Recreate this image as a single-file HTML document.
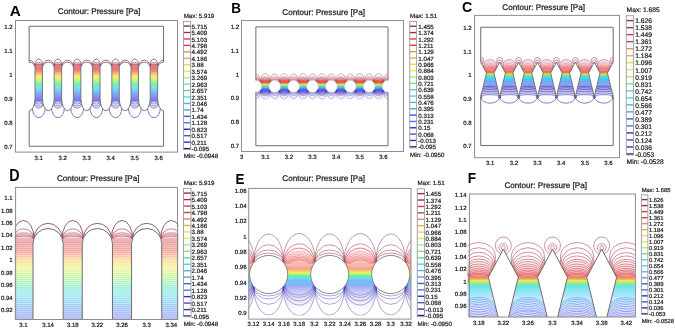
<!DOCTYPE html><html><head><meta charset="utf-8"><style>
html,body{margin:0;padding:0;background:#fff;}
svg{display:block;will-change:transform;}
#w{filter:blur(0.6px);width:675px;height:328px;}
text{font-family:"Liberation Sans", sans-serif;}
.t{font-size:6.2px;fill:#1e1e1e;font-weight:normal;stroke:#1e1e1e;stroke-width:0.22px;text-rendering:geometricPrecision;}
.ti{font-size:8.15px;fill:#222;font-weight:normal;text-rendering:geometricPrecision;stroke:#222;stroke-width:0.25px;}
.ax{font-size:6px;fill:#1e1e1e;font-weight:normal;stroke:#1e1e1e;stroke-width:0.22px;text-rendering:geometricPrecision;}
.L{font-size:15px;fill:#000;font-weight:bold;}
</style></head><body><div id="w">
<svg width="675" height="328" viewBox="0 0 675 328">
<rect x="0" y="0" width="675" height="328" fill="#fff"/>
<clipPath id="clA"><rect x="29.15" y="26.25" width="134.40" height="120.00"/></clipPath>
<g clip-path="url(#clA)">
<linearGradient id="g1" gradientUnits="userSpaceOnUse" x1="0" y1="63.21" x2="0" y2="105.45"><stop offset="0.0000" stop-color="#f3dde0"/><stop offset="0.0227" stop-color="#eac4c9"/><stop offset="0.0455" stop-color="#e3a9b0"/><stop offset="0.0682" stop-color="#e28d95"/><stop offset="0.0909" stop-color="#e2727a"/><stop offset="0.1136" stop-color="#e6767a"/><stop offset="0.1364" stop-color="#ea797a"/><stop offset="0.1591" stop-color="#ee7d7a"/><stop offset="0.1818" stop-color="#f2817a"/><stop offset="0.2045" stop-color="#f3967a"/><stop offset="0.2273" stop-color="#f5ac7a"/><stop offset="0.2500" stop-color="#f6c27a"/><stop offset="0.2727" stop-color="#f5d178"/><stop offset="0.2955" stop-color="#f5e076"/><stop offset="0.3182" stop-color="#f3ee74"/><stop offset="0.3409" stop-color="#e9f276"/><stop offset="0.3636" stop-color="#daf37a"/><stop offset="0.3864" stop-color="#ccf47e"/><stop offset="0.4091" stop-color="#bdf485"/><stop offset="0.4318" stop-color="#abf392"/><stop offset="0.4545" stop-color="#99f1a0"/><stop offset="0.4773" stop-color="#87efae"/><stop offset="0.5000" stop-color="#7aedbc"/><stop offset="0.5227" stop-color="#78ebcb"/><stop offset="0.5455" stop-color="#76e8d9"/><stop offset="0.5682" stop-color="#75e6e7"/><stop offset="0.5909" stop-color="#74e0f1"/><stop offset="0.6136" stop-color="#76d7f3"/><stop offset="0.6364" stop-color="#78cdf3"/><stop offset="0.6591" stop-color="#7ac4f5"/><stop offset="0.6818" stop-color="#7cbaf5"/><stop offset="0.7045" stop-color="#7eb1f4"/><stop offset="0.7273" stop-color="#80a9f4"/><stop offset="0.7500" stop-color="#82a0f4"/><stop offset="0.7727" stop-color="#8497f3"/><stop offset="0.7955" stop-color="#858ff1"/><stop offset="0.8182" stop-color="#8388eb"/><stop offset="0.8409" stop-color="#8182e6"/><stop offset="0.8636" stop-color="#7e7be1"/><stop offset="0.8864" stop-color="#7e7be0"/><stop offset="0.9091" stop-color="#a29fe9"/><stop offset="0.9318" stop-color="#d0cff4"/><stop offset="0.9545" stop-color="#ffffff"/><stop offset="0.9773" stop-color="#ffffff"/><stop offset="1.0000" stop-color="#ffffff"/></linearGradient>
<rect x="34.07" y="63.21" width="9.36" height="41.76" fill="url(#g1)"/>
<rect x="53.27" y="63.21" width="9.36" height="41.76" fill="url(#g1)"/>
<rect x="72.47" y="63.21" width="9.36" height="41.76" fill="url(#g1)"/>
<rect x="91.67" y="63.21" width="9.36" height="41.76" fill="url(#g1)"/>
<rect x="110.87" y="63.21" width="9.36" height="41.76" fill="url(#g1)"/>
<rect x="130.07" y="63.21" width="9.36" height="41.76" fill="url(#g1)"/>
<rect x="149.27" y="63.21" width="9.36" height="41.76" fill="url(#g1)"/>
<rect x="168.47" y="63.21" width="9.36" height="41.76" fill="url(#g1)"/>
<path d="M42.88,66.09 A4.13,7.08 0 0 0 34.62,66.09" fill="none" stroke="#8c4b5f" stroke-width="0.80" stroke-opacity="0.98"/>
<path d="M42.71,66.09 A3.96,3.84 0 0 0 34.79,66.09" fill="none" stroke="#994558" stroke-width="0.80" stroke-opacity="0.68"/>
<path d="M42.66,66.09 A3.91,2.28 0 0 0 34.84,66.09" fill="none" stroke="#a54052" stroke-width="0.80" stroke-opacity="0.52"/>
<path d="M42.64,66.09 A3.89,1.56 0 0 0 34.86,66.09" fill="none" stroke="#ac3d4e" stroke-width="0.80" stroke-opacity="0.52"/>
<path d="M42.64,66.09 A3.89,0.96 0 0 0 34.86,66.09" fill="none" stroke="#b23a4b" stroke-width="0.80" stroke-opacity="0.52"/>
<path d="M62.08,66.09 A4.13,7.08 0 0 0 53.82,66.09" fill="none" stroke="#8c4b5f" stroke-width="0.80" stroke-opacity="0.98"/>
<path d="M61.91,66.09 A3.96,3.84 0 0 0 53.99,66.09" fill="none" stroke="#994558" stroke-width="0.80" stroke-opacity="0.68"/>
<path d="M61.86,66.09 A3.91,2.28 0 0 0 54.04,66.09" fill="none" stroke="#a54052" stroke-width="0.80" stroke-opacity="0.52"/>
<path d="M61.84,66.09 A3.89,1.56 0 0 0 54.06,66.09" fill="none" stroke="#ac3d4e" stroke-width="0.80" stroke-opacity="0.52"/>
<path d="M61.84,66.09 A3.89,0.96 0 0 0 54.06,66.09" fill="none" stroke="#b23a4b" stroke-width="0.80" stroke-opacity="0.52"/>
<path d="M81.28,66.09 A4.13,7.08 0 0 0 73.02,66.09" fill="none" stroke="#8c4b5f" stroke-width="0.80" stroke-opacity="0.98"/>
<path d="M81.11,66.09 A3.96,3.84 0 0 0 73.19,66.09" fill="none" stroke="#994558" stroke-width="0.80" stroke-opacity="0.68"/>
<path d="M81.06,66.09 A3.91,2.28 0 0 0 73.24,66.09" fill="none" stroke="#a54052" stroke-width="0.80" stroke-opacity="0.52"/>
<path d="M81.04,66.09 A3.89,1.56 0 0 0 73.26,66.09" fill="none" stroke="#ac3d4e" stroke-width="0.80" stroke-opacity="0.52"/>
<path d="M81.04,66.09 A3.89,0.96 0 0 0 73.26,66.09" fill="none" stroke="#b23a4b" stroke-width="0.80" stroke-opacity="0.52"/>
<path d="M100.48,66.09 A4.13,7.08 0 0 0 92.22,66.09" fill="none" stroke="#8c4b5f" stroke-width="0.80" stroke-opacity="0.98"/>
<path d="M100.31,66.09 A3.96,3.84 0 0 0 92.39,66.09" fill="none" stroke="#994558" stroke-width="0.80" stroke-opacity="0.68"/>
<path d="M100.26,66.09 A3.91,2.28 0 0 0 92.44,66.09" fill="none" stroke="#a54052" stroke-width="0.80" stroke-opacity="0.52"/>
<path d="M100.24,66.09 A3.89,1.56 0 0 0 92.46,66.09" fill="none" stroke="#ac3d4e" stroke-width="0.80" stroke-opacity="0.52"/>
<path d="M100.24,66.09 A3.89,0.96 0 0 0 92.46,66.09" fill="none" stroke="#b23a4b" stroke-width="0.80" stroke-opacity="0.52"/>
<path d="M119.68,66.09 A4.13,7.08 0 0 0 111.42,66.09" fill="none" stroke="#8c4b5f" stroke-width="0.80" stroke-opacity="0.98"/>
<path d="M119.51,66.09 A3.96,3.84 0 0 0 111.59,66.09" fill="none" stroke="#994558" stroke-width="0.80" stroke-opacity="0.68"/>
<path d="M119.46,66.09 A3.91,2.28 0 0 0 111.64,66.09" fill="none" stroke="#a54052" stroke-width="0.80" stroke-opacity="0.52"/>
<path d="M119.44,66.09 A3.89,1.56 0 0 0 111.66,66.09" fill="none" stroke="#ac3d4e" stroke-width="0.80" stroke-opacity="0.52"/>
<path d="M119.44,66.09 A3.89,0.96 0 0 0 111.66,66.09" fill="none" stroke="#b23a4b" stroke-width="0.80" stroke-opacity="0.52"/>
<path d="M138.88,66.09 A4.13,7.08 0 0 0 130.62,66.09" fill="none" stroke="#8c4b5f" stroke-width="0.80" stroke-opacity="0.98"/>
<path d="M138.71,66.09 A3.96,3.84 0 0 0 130.79,66.09" fill="none" stroke="#994558" stroke-width="0.80" stroke-opacity="0.68"/>
<path d="M138.66,66.09 A3.91,2.28 0 0 0 130.84,66.09" fill="none" stroke="#a54052" stroke-width="0.80" stroke-opacity="0.52"/>
<path d="M138.64,66.09 A3.89,1.56 0 0 0 130.86,66.09" fill="none" stroke="#ac3d4e" stroke-width="0.80" stroke-opacity="0.52"/>
<path d="M138.64,66.09 A3.89,0.96 0 0 0 130.86,66.09" fill="none" stroke="#b23a4b" stroke-width="0.80" stroke-opacity="0.52"/>
<path d="M158.08,66.09 A4.13,7.08 0 0 0 149.82,66.09" fill="none" stroke="#8c4b5f" stroke-width="0.80" stroke-opacity="0.98"/>
<path d="M157.91,66.09 A3.96,3.84 0 0 0 149.99,66.09" fill="none" stroke="#994558" stroke-width="0.80" stroke-opacity="0.68"/>
<path d="M157.86,66.09 A3.91,2.28 0 0 0 150.04,66.09" fill="none" stroke="#a54052" stroke-width="0.80" stroke-opacity="0.52"/>
<path d="M157.84,66.09 A3.89,1.56 0 0 0 150.06,66.09" fill="none" stroke="#ac3d4e" stroke-width="0.80" stroke-opacity="0.52"/>
<path d="M157.84,66.09 A3.89,0.96 0 0 0 150.06,66.09" fill="none" stroke="#b23a4b" stroke-width="0.80" stroke-opacity="0.52"/>
<path d="M177.28,66.09 A4.13,7.08 0 0 0 169.02,66.09" fill="none" stroke="#8c4b5f" stroke-width="0.80" stroke-opacity="0.98"/>
<path d="M177.11,66.09 A3.96,3.84 0 0 0 169.19,66.09" fill="none" stroke="#994558" stroke-width="0.80" stroke-opacity="0.68"/>
<path d="M177.06,66.09 A3.91,2.28 0 0 0 169.24,66.09" fill="none" stroke="#a54052" stroke-width="0.80" stroke-opacity="0.52"/>
<path d="M177.04,66.09 A3.89,1.56 0 0 0 169.26,66.09" fill="none" stroke="#ac3d4e" stroke-width="0.80" stroke-opacity="0.52"/>
<path d="M177.04,66.09 A3.89,0.96 0 0 0 169.26,66.09" fill="none" stroke="#b23a4b" stroke-width="0.80" stroke-opacity="0.52"/>
<path d="M34.62,66.09 A5.47,5.95 0 0 0 23.68,66.09" fill="none" stroke="#8c4b5f" stroke-width="0.80" stroke-opacity="0.98"/>
<path d="M53.82,66.09 A5.47,5.95 0 0 0 42.88,66.09" fill="none" stroke="#8c4b5f" stroke-width="0.80" stroke-opacity="0.98"/>
<path d="M73.02,66.09 A5.47,5.95 0 0 0 62.08,66.09" fill="none" stroke="#8c4b5f" stroke-width="0.80" stroke-opacity="0.98"/>
<path d="M92.22,66.09 A5.47,5.95 0 0 0 81.28,66.09" fill="none" stroke="#8c4b5f" stroke-width="0.80" stroke-opacity="0.98"/>
<path d="M111.42,66.09 A5.47,5.95 0 0 0 100.48,66.09" fill="none" stroke="#8c4b5f" stroke-width="0.80" stroke-opacity="0.98"/>
<path d="M130.62,66.09 A5.47,5.95 0 0 0 119.68,66.09" fill="none" stroke="#8c4b5f" stroke-width="0.80" stroke-opacity="0.98"/>
<path d="M149.82,66.09 A5.47,5.95 0 0 0 138.88,66.09" fill="none" stroke="#8c4b5f" stroke-width="0.80" stroke-opacity="0.98"/>
<path d="M169.02,66.09 A5.47,5.95 0 0 0 158.08,66.09" fill="none" stroke="#8c4b5f" stroke-width="0.80" stroke-opacity="0.98"/>
<path d="M188.22,66.09 A5.47,5.95 0 0 0 177.28,66.09" fill="none" stroke="#8c4b5f" stroke-width="0.80" stroke-opacity="0.98"/>
<path d="M32.27,107.37 A6.48,10.32 0 0 0 45.23,107.37" fill="none" stroke="#2e2396" stroke-width="0.80" stroke-opacity="0.75"/>
<path d="M33.95,103.05 A4.80,5.04 0 0 0 43.55,103.05" fill="none" stroke="#3528aa" stroke-width="0.80" stroke-opacity="0.75"/>
<path d="M34.43,102.09 A4.32,3.91 0 0 0 43.07,102.09" fill="none" stroke="#3b2dbe" stroke-width="0.80" stroke-opacity="0.75"/>
<path d="M34.86,101.13 A3.89,3.00 0 0 0 42.64,101.13" fill="none" stroke="#3f34cb" stroke-width="0.80" stroke-opacity="0.75"/>
<path d="M51.47,107.37 A6.48,10.32 0 0 0 64.43,107.37" fill="none" stroke="#2e2396" stroke-width="0.80" stroke-opacity="0.75"/>
<path d="M53.15,103.05 A4.80,5.04 0 0 0 62.75,103.05" fill="none" stroke="#3528aa" stroke-width="0.80" stroke-opacity="0.75"/>
<path d="M53.63,102.09 A4.32,3.91 0 0 0 62.27,102.09" fill="none" stroke="#3b2dbe" stroke-width="0.80" stroke-opacity="0.75"/>
<path d="M54.06,101.13 A3.89,3.00 0 0 0 61.84,101.13" fill="none" stroke="#3f34cb" stroke-width="0.80" stroke-opacity="0.75"/>
<path d="M70.67,107.37 A6.48,10.32 0 0 0 83.63,107.37" fill="none" stroke="#2e2396" stroke-width="0.80" stroke-opacity="0.75"/>
<path d="M72.35,103.05 A4.80,5.04 0 0 0 81.95,103.05" fill="none" stroke="#3528aa" stroke-width="0.80" stroke-opacity="0.75"/>
<path d="M72.83,102.09 A4.32,3.91 0 0 0 81.47,102.09" fill="none" stroke="#3b2dbe" stroke-width="0.80" stroke-opacity="0.75"/>
<path d="M73.26,101.13 A3.89,3.00 0 0 0 81.04,101.13" fill="none" stroke="#3f34cb" stroke-width="0.80" stroke-opacity="0.75"/>
<path d="M89.87,107.37 A6.48,10.32 0 0 0 102.83,107.37" fill="none" stroke="#2e2396" stroke-width="0.80" stroke-opacity="0.75"/>
<path d="M91.55,103.05 A4.80,5.04 0 0 0 101.15,103.05" fill="none" stroke="#3528aa" stroke-width="0.80" stroke-opacity="0.75"/>
<path d="M92.03,102.09 A4.32,3.91 0 0 0 100.67,102.09" fill="none" stroke="#3b2dbe" stroke-width="0.80" stroke-opacity="0.75"/>
<path d="M92.46,101.13 A3.89,3.00 0 0 0 100.24,101.13" fill="none" stroke="#3f34cb" stroke-width="0.80" stroke-opacity="0.75"/>
<path d="M109.07,107.37 A6.48,10.32 0 0 0 122.03,107.37" fill="none" stroke="#2e2396" stroke-width="0.80" stroke-opacity="0.75"/>
<path d="M110.75,103.05 A4.80,5.04 0 0 0 120.35,103.05" fill="none" stroke="#3528aa" stroke-width="0.80" stroke-opacity="0.75"/>
<path d="M111.23,102.09 A4.32,3.91 0 0 0 119.87,102.09" fill="none" stroke="#3b2dbe" stroke-width="0.80" stroke-opacity="0.75"/>
<path d="M111.66,101.13 A3.89,3.00 0 0 0 119.44,101.13" fill="none" stroke="#3f34cb" stroke-width="0.80" stroke-opacity="0.75"/>
<path d="M128.27,107.37 A6.48,10.32 0 0 0 141.23,107.37" fill="none" stroke="#2e2396" stroke-width="0.80" stroke-opacity="0.75"/>
<path d="M129.95,103.05 A4.80,5.04 0 0 0 139.55,103.05" fill="none" stroke="#3528aa" stroke-width="0.80" stroke-opacity="0.75"/>
<path d="M130.43,102.09 A4.32,3.91 0 0 0 139.07,102.09" fill="none" stroke="#3b2dbe" stroke-width="0.80" stroke-opacity="0.75"/>
<path d="M130.86,101.13 A3.89,3.00 0 0 0 138.64,101.13" fill="none" stroke="#3f34cb" stroke-width="0.80" stroke-opacity="0.75"/>
<path d="M147.47,107.37 A6.48,10.32 0 0 0 160.43,107.37" fill="none" stroke="#2e2396" stroke-width="0.80" stroke-opacity="0.75"/>
<path d="M149.15,103.05 A4.80,5.04 0 0 0 158.75,103.05" fill="none" stroke="#3528aa" stroke-width="0.80" stroke-opacity="0.75"/>
<path d="M149.63,102.09 A4.32,3.91 0 0 0 158.27,102.09" fill="none" stroke="#3b2dbe" stroke-width="0.80" stroke-opacity="0.75"/>
<path d="M150.06,101.13 A3.89,3.00 0 0 0 157.84,101.13" fill="none" stroke="#3f34cb" stroke-width="0.80" stroke-opacity="0.75"/>
<path d="M166.67,107.37 A6.48,10.32 0 0 0 179.63,107.37" fill="none" stroke="#2e2396" stroke-width="0.80" stroke-opacity="0.75"/>
<path d="M168.35,103.05 A4.80,5.04 0 0 0 177.95,103.05" fill="none" stroke="#3528aa" stroke-width="0.80" stroke-opacity="0.75"/>
<path d="M168.83,102.09 A4.32,3.91 0 0 0 177.47,102.09" fill="none" stroke="#3b2dbe" stroke-width="0.80" stroke-opacity="0.75"/>
<path d="M169.26,101.13 A3.89,3.00 0 0 0 177.04,101.13" fill="none" stroke="#3f34cb" stroke-width="0.80" stroke-opacity="0.75"/>
<path d="M35.03,68.01 A5.88,5.88 0 0 0 23.27,68.01 L23.27,98.25 A5.88,12.48 0 0 0 35.03,98.25Z" fill="#fff" stroke="#6e6e6e" stroke-width="0.90"/>
<path d="M54.23,68.01 A5.88,5.88 0 0 0 42.47,68.01 L42.47,98.25 A5.88,12.48 0 0 0 54.23,98.25Z" fill="#fff" stroke="#6e6e6e" stroke-width="0.90"/>
<path d="M73.43,68.01 A5.88,5.88 0 0 0 61.67,68.01 L61.67,98.25 A5.88,12.48 0 0 0 73.43,98.25Z" fill="#fff" stroke="#6e6e6e" stroke-width="0.90"/>
<path d="M92.63,68.01 A5.88,5.88 0 0 0 80.87,68.01 L80.87,98.25 A5.88,12.48 0 0 0 92.63,98.25Z" fill="#fff" stroke="#6e6e6e" stroke-width="0.90"/>
<path d="M111.83,68.01 A5.88,5.88 0 0 0 100.07,68.01 L100.07,98.25 A5.88,12.48 0 0 0 111.83,98.25Z" fill="#fff" stroke="#6e6e6e" stroke-width="0.90"/>
<path d="M131.03,68.01 A5.88,5.88 0 0 0 119.27,68.01 L119.27,98.25 A5.88,12.48 0 0 0 131.03,98.25Z" fill="#fff" stroke="#6e6e6e" stroke-width="0.90"/>
<path d="M150.23,68.01 A5.88,5.88 0 0 0 138.47,68.01 L138.47,98.25 A5.88,12.48 0 0 0 150.23,98.25Z" fill="#fff" stroke="#6e6e6e" stroke-width="0.90"/>
<path d="M169.43,68.01 A5.88,5.88 0 0 0 157.67,68.01 L157.67,98.25 A5.88,12.48 0 0 0 169.43,98.25Z" fill="#fff" stroke="#6e6e6e" stroke-width="0.90"/>
<path d="M188.63,68.01 A5.88,5.88 0 0 0 176.87,68.01 L176.87,98.25 A5.88,12.48 0 0 0 188.63,98.25Z" fill="#fff" stroke="#6e6e6e" stroke-width="0.90"/>
</g>
<path d="M29.15,62.25 L29.15,26.25 L163.55,26.25 L163.55,62.25" fill="none" stroke="#6e6e6e" stroke-width="1.00" stroke-opacity="1.00" stroke-linejoin="round"/>
<path d="M29.15,110.73 L29.15,146.25 L163.55,146.25 L163.55,110.73" fill="none" stroke="#6e6e6e" stroke-width="1.00" stroke-opacity="1.00" stroke-linejoin="round"/>
<clipPath id="clD"><rect x="14.83" y="186.57" width="163.55" height="133.52"/></clipPath>
<g clip-path="url(#clD)">
<linearGradient id="g2" gradientUnits="userSpaceOnUse" x1="0" y1="231.28" x2="0" y2="340.58"><stop offset="0.0000" stop-color="#faf3f4"/><stop offset="0.0227" stop-color="#f7e9eb"/><stop offset="0.0455" stop-color="#f5dfe2"/><stop offset="0.0682" stop-color="#f4d5d8"/><stop offset="0.0909" stop-color="#f4cbce"/><stop offset="0.1136" stop-color="#f6ccce"/><stop offset="0.1364" stop-color="#f7cece"/><stop offset="0.1591" stop-color="#f9cfce"/><stop offset="0.1818" stop-color="#fad1ce"/><stop offset="0.2045" stop-color="#fbd8ce"/><stop offset="0.2273" stop-color="#fbe0ce"/><stop offset="0.2500" stop-color="#fce9ce"/><stop offset="0.2727" stop-color="#fceece"/><stop offset="0.2955" stop-color="#fbf4cd"/><stop offset="0.3182" stop-color="#fbf9cc"/><stop offset="0.3409" stop-color="#f7facd"/><stop offset="0.3636" stop-color="#f2fbce"/><stop offset="0.3864" stop-color="#ecfbd0"/><stop offset="0.4091" stop-color="#e7fbd2"/><stop offset="0.4318" stop-color="#e0fad7"/><stop offset="0.4545" stop-color="#dafadc"/><stop offset="0.4773" stop-color="#d3f9e1"/><stop offset="0.5000" stop-color="#cef8e6"/><stop offset="0.5227" stop-color="#cef8ec"/><stop offset="0.5455" stop-color="#cdf6f1"/><stop offset="0.5682" stop-color="#ccf6f6"/><stop offset="0.5909" stop-color="#ccf4fa"/><stop offset="0.6136" stop-color="#cdf0fa"/><stop offset="0.6364" stop-color="#ceedfb"/><stop offset="0.6591" stop-color="#cee9fb"/><stop offset="0.6818" stop-color="#cfe6fb"/><stop offset="0.7045" stop-color="#d0e2fb"/><stop offset="0.7273" stop-color="#d0dffb"/><stop offset="0.7500" stop-color="#d1dcfb"/><stop offset="0.7727" stop-color="#d2d9fb"/><stop offset="0.7955" stop-color="#d2d6fa"/><stop offset="0.8182" stop-color="#d1d3f8"/><stop offset="0.8409" stop-color="#d0d1f6"/><stop offset="0.8636" stop-color="#d0cef4"/><stop offset="0.8864" stop-color="#d0cef4"/><stop offset="0.9091" stop-color="#dddcf7"/><stop offset="0.9318" stop-color="#eeedfb"/><stop offset="0.9545" stop-color="#ffffff"/><stop offset="0.9773" stop-color="#ffffff"/><stop offset="1.0000" stop-color="#ffffff"/></linearGradient>
<rect x="11.44" y="231.28" width="24.02" height="108.05" fill="url(#g2)"/>
<rect x="60.72" y="231.28" width="24.02" height="108.05" fill="url(#g2)"/>
<rect x="110.00" y="231.28" width="24.02" height="108.05" fill="url(#g2)"/>
<rect x="159.28" y="231.28" width="24.02" height="108.05" fill="url(#g2)"/>
<path d="M13.90,239.05H33.00" stroke="#cc2f3f" stroke-width="0.80" stroke-opacity="0.45"/>
<path d="M63.18,239.05H82.28" stroke="#cc2f3f" stroke-width="0.80" stroke-opacity="0.45"/>
<path d="M112.46,239.05H131.56" stroke="#cc2f3f" stroke-width="0.80" stroke-opacity="0.45"/>
<path d="M161.74,239.05H180.84" stroke="#cc2f3f" stroke-width="0.80" stroke-opacity="0.45"/>
<path d="M13.90,240.97H33.00" stroke="#d42f3c" stroke-width="0.80" stroke-opacity="0.45"/>
<path d="M63.18,240.97H82.28" stroke="#d42f3c" stroke-width="0.80" stroke-opacity="0.45"/>
<path d="M112.46,240.97H131.56" stroke="#d42f3c" stroke-width="0.80" stroke-opacity="0.45"/>
<path d="M161.74,240.97H180.84" stroke="#d42f3c" stroke-width="0.80" stroke-opacity="0.45"/>
<path d="M13.90,242.90H33.00" stroke="#d8333c" stroke-width="0.80" stroke-opacity="0.45"/>
<path d="M63.18,242.90H82.28" stroke="#d8333c" stroke-width="0.80" stroke-opacity="0.45"/>
<path d="M112.46,242.90H131.56" stroke="#d8333c" stroke-width="0.80" stroke-opacity="0.45"/>
<path d="M161.74,242.90H180.84" stroke="#d8333c" stroke-width="0.80" stroke-opacity="0.45"/>
<path d="M13.90,244.82H33.00" stroke="#dd373c" stroke-width="0.80" stroke-opacity="0.45"/>
<path d="M63.18,244.82H82.28" stroke="#dd373c" stroke-width="0.80" stroke-opacity="0.45"/>
<path d="M112.46,244.82H131.56" stroke="#dd373c" stroke-width="0.80" stroke-opacity="0.45"/>
<path d="M161.74,244.82H180.84" stroke="#dd373c" stroke-width="0.80" stroke-opacity="0.45"/>
<path d="M13.90,246.75H33.00" stroke="#e13c3c" stroke-width="0.80" stroke-opacity="0.45"/>
<path d="M63.18,246.75H82.28" stroke="#e13c3c" stroke-width="0.80" stroke-opacity="0.45"/>
<path d="M112.46,246.75H131.56" stroke="#e13c3c" stroke-width="0.80" stroke-opacity="0.45"/>
<path d="M161.74,246.75H180.84" stroke="#e13c3c" stroke-width="0.80" stroke-opacity="0.45"/>
<path d="M13.90,248.67H33.00" stroke="#e6403c" stroke-width="0.80" stroke-opacity="0.45"/>
<path d="M63.18,248.67H82.28" stroke="#e6403c" stroke-width="0.80" stroke-opacity="0.45"/>
<path d="M112.46,248.67H131.56" stroke="#e6403c" stroke-width="0.80" stroke-opacity="0.45"/>
<path d="M161.74,248.67H180.84" stroke="#e6403c" stroke-width="0.80" stroke-opacity="0.45"/>
<path d="M13.90,250.60H33.00" stroke="#ea443c" stroke-width="0.80" stroke-opacity="0.45"/>
<path d="M63.18,250.60H82.28" stroke="#ea443c" stroke-width="0.80" stroke-opacity="0.45"/>
<path d="M112.46,250.60H131.56" stroke="#ea443c" stroke-width="0.80" stroke-opacity="0.45"/>
<path d="M161.74,250.60H180.84" stroke="#ea443c" stroke-width="0.80" stroke-opacity="0.45"/>
<path d="M13.90,252.52H33.00" stroke="#ed563c" stroke-width="0.80" stroke-opacity="0.45"/>
<path d="M63.18,252.52H82.28" stroke="#ed563c" stroke-width="0.80" stroke-opacity="0.45"/>
<path d="M112.46,252.52H131.56" stroke="#ed563c" stroke-width="0.80" stroke-opacity="0.45"/>
<path d="M161.74,252.52H180.84" stroke="#ed563c" stroke-width="0.80" stroke-opacity="0.45"/>
<path d="M13.90,254.45H33.00" stroke="#ee703c" stroke-width="0.80" stroke-opacity="0.45"/>
<path d="M63.18,254.45H82.28" stroke="#ee703c" stroke-width="0.80" stroke-opacity="0.45"/>
<path d="M112.46,254.45H131.56" stroke="#ee703c" stroke-width="0.80" stroke-opacity="0.45"/>
<path d="M161.74,254.45H180.84" stroke="#ee703c" stroke-width="0.80" stroke-opacity="0.45"/>
<path d="M13.90,256.37H33.00" stroke="#f0893c" stroke-width="0.80" stroke-opacity="0.45"/>
<path d="M63.18,256.37H82.28" stroke="#f0893c" stroke-width="0.80" stroke-opacity="0.45"/>
<path d="M112.46,256.37H131.56" stroke="#f0893c" stroke-width="0.80" stroke-opacity="0.45"/>
<path d="M161.74,256.37H180.84" stroke="#f0893c" stroke-width="0.80" stroke-opacity="0.45"/>
<path d="M13.90,258.30H33.00" stroke="#f2a23c" stroke-width="0.80" stroke-opacity="0.45"/>
<path d="M63.18,258.30H82.28" stroke="#f2a23c" stroke-width="0.80" stroke-opacity="0.45"/>
<path d="M112.46,258.30H131.56" stroke="#f2a23c" stroke-width="0.80" stroke-opacity="0.45"/>
<path d="M161.74,258.30H180.84" stroke="#f2a23c" stroke-width="0.80" stroke-opacity="0.45"/>
<path d="M13.90,260.22H33.00" stroke="#f1b53a" stroke-width="0.80" stroke-opacity="0.45"/>
<path d="M63.18,260.22H82.28" stroke="#f1b53a" stroke-width="0.80" stroke-opacity="0.45"/>
<path d="M112.46,260.22H131.56" stroke="#f1b53a" stroke-width="0.80" stroke-opacity="0.45"/>
<path d="M161.74,260.22H180.84" stroke="#f1b53a" stroke-width="0.80" stroke-opacity="0.45"/>
<path d="M13.90,262.15H33.00" stroke="#f0c538" stroke-width="0.80" stroke-opacity="0.45"/>
<path d="M63.18,262.15H82.28" stroke="#f0c538" stroke-width="0.80" stroke-opacity="0.45"/>
<path d="M112.46,262.15H131.56" stroke="#f0c538" stroke-width="0.80" stroke-opacity="0.45"/>
<path d="M161.74,262.15H180.84" stroke="#f0c538" stroke-width="0.80" stroke-opacity="0.45"/>
<path d="M13.90,264.07H33.00" stroke="#efd635" stroke-width="0.80" stroke-opacity="0.45"/>
<path d="M63.18,264.07H82.28" stroke="#efd635" stroke-width="0.80" stroke-opacity="0.45"/>
<path d="M112.46,264.07H131.56" stroke="#efd635" stroke-width="0.80" stroke-opacity="0.45"/>
<path d="M161.74,264.07H180.84" stroke="#efd635" stroke-width="0.80" stroke-opacity="0.45"/>
<path d="M13.90,266.00H33.00" stroke="#eee633" stroke-width="0.80" stroke-opacity="0.45"/>
<path d="M63.18,266.00H82.28" stroke="#eee633" stroke-width="0.80" stroke-opacity="0.45"/>
<path d="M112.46,266.00H131.56" stroke="#eee633" stroke-width="0.80" stroke-opacity="0.45"/>
<path d="M161.74,266.00H180.84" stroke="#eee633" stroke-width="0.80" stroke-opacity="0.45"/>
<path d="M13.90,267.92H33.00" stroke="#e3ec35" stroke-width="0.80" stroke-opacity="0.45"/>
<path d="M63.18,267.92H82.28" stroke="#e3ec35" stroke-width="0.80" stroke-opacity="0.45"/>
<path d="M112.46,267.92H131.56" stroke="#e3ec35" stroke-width="0.80" stroke-opacity="0.45"/>
<path d="M161.74,267.92H180.84" stroke="#e3ec35" stroke-width="0.80" stroke-opacity="0.45"/>
<path d="M13.90,269.85H33.00" stroke="#d3ed39" stroke-width="0.80" stroke-opacity="0.45"/>
<path d="M63.18,269.85H82.28" stroke="#d3ed39" stroke-width="0.80" stroke-opacity="0.45"/>
<path d="M112.46,269.85H131.56" stroke="#d3ed39" stroke-width="0.80" stroke-opacity="0.45"/>
<path d="M161.74,269.85H180.84" stroke="#d3ed39" stroke-width="0.80" stroke-opacity="0.45"/>
<path d="M13.90,271.77H33.00" stroke="#c3ee3e" stroke-width="0.80" stroke-opacity="0.45"/>
<path d="M63.18,271.77H82.28" stroke="#c3ee3e" stroke-width="0.80" stroke-opacity="0.45"/>
<path d="M112.46,271.77H131.56" stroke="#c3ee3e" stroke-width="0.80" stroke-opacity="0.45"/>
<path d="M161.74,271.77H180.84" stroke="#c3ee3e" stroke-width="0.80" stroke-opacity="0.45"/>
<path d="M13.90,273.70H33.00" stroke="#b3ef42" stroke-width="0.80" stroke-opacity="0.45"/>
<path d="M63.18,273.70H82.28" stroke="#b3ef42" stroke-width="0.80" stroke-opacity="0.45"/>
<path d="M112.46,273.70H131.56" stroke="#b3ef42" stroke-width="0.80" stroke-opacity="0.45"/>
<path d="M161.74,273.70H180.84" stroke="#b3ef42" stroke-width="0.80" stroke-opacity="0.45"/>
<path d="M13.90,275.62H33.00" stroke="#a2f048" stroke-width="0.80" stroke-opacity="0.45"/>
<path d="M63.18,275.62H82.28" stroke="#a2f048" stroke-width="0.80" stroke-opacity="0.45"/>
<path d="M112.46,275.62H131.56" stroke="#a2f048" stroke-width="0.80" stroke-opacity="0.45"/>
<path d="M161.74,275.62H180.84" stroke="#a2f048" stroke-width="0.80" stroke-opacity="0.45"/>
<path d="M13.90,277.55H33.00" stroke="#8eee58" stroke-width="0.80" stroke-opacity="0.45"/>
<path d="M63.18,277.55H82.28" stroke="#8eee58" stroke-width="0.80" stroke-opacity="0.45"/>
<path d="M112.46,277.55H131.56" stroke="#8eee58" stroke-width="0.80" stroke-opacity="0.45"/>
<path d="M161.74,277.55H180.84" stroke="#8eee58" stroke-width="0.80" stroke-opacity="0.45"/>
<path d="M13.90,279.47H33.00" stroke="#79ec67" stroke-width="0.80" stroke-opacity="0.45"/>
<path d="M63.18,279.47H82.28" stroke="#79ec67" stroke-width="0.80" stroke-opacity="0.45"/>
<path d="M112.46,279.47H131.56" stroke="#79ec67" stroke-width="0.80" stroke-opacity="0.45"/>
<path d="M161.74,279.47H180.84" stroke="#79ec67" stroke-width="0.80" stroke-opacity="0.45"/>
<path d="M13.90,281.40H33.00" stroke="#65ea77" stroke-width="0.80" stroke-opacity="0.45"/>
<path d="M63.18,281.40H82.28" stroke="#65ea77" stroke-width="0.80" stroke-opacity="0.45"/>
<path d="M112.46,281.40H131.56" stroke="#65ea77" stroke-width="0.80" stroke-opacity="0.45"/>
<path d="M161.74,281.40H180.84" stroke="#65ea77" stroke-width="0.80" stroke-opacity="0.45"/>
<path d="M13.90,283.32H33.00" stroke="#50e887" stroke-width="0.80" stroke-opacity="0.45"/>
<path d="M63.18,283.32H82.28" stroke="#50e887" stroke-width="0.80" stroke-opacity="0.45"/>
<path d="M112.46,283.32H131.56" stroke="#50e887" stroke-width="0.80" stroke-opacity="0.45"/>
<path d="M161.74,283.32H180.84" stroke="#50e887" stroke-width="0.80" stroke-opacity="0.45"/>
<path d="M13.90,285.25H33.00" stroke="#3ce696" stroke-width="0.80" stroke-opacity="0.45"/>
<path d="M63.18,285.25H82.28" stroke="#3ce696" stroke-width="0.80" stroke-opacity="0.45"/>
<path d="M112.46,285.25H131.56" stroke="#3ce696" stroke-width="0.80" stroke-opacity="0.45"/>
<path d="M161.74,285.25H180.84" stroke="#3ce696" stroke-width="0.80" stroke-opacity="0.45"/>
<path d="M13.90,287.17H33.00" stroke="#3ae3a7" stroke-width="0.80" stroke-opacity="0.45"/>
<path d="M63.18,287.17H82.28" stroke="#3ae3a7" stroke-width="0.80" stroke-opacity="0.45"/>
<path d="M112.46,287.17H131.56" stroke="#3ae3a7" stroke-width="0.80" stroke-opacity="0.45"/>
<path d="M161.74,287.17H180.84" stroke="#3ae3a7" stroke-width="0.80" stroke-opacity="0.45"/>
<path d="M13.90,289.10H33.00" stroke="#38e0b8" stroke-width="0.80" stroke-opacity="0.45"/>
<path d="M63.18,289.10H82.28" stroke="#38e0b8" stroke-width="0.80" stroke-opacity="0.45"/>
<path d="M112.46,289.10H131.56" stroke="#38e0b8" stroke-width="0.80" stroke-opacity="0.45"/>
<path d="M161.74,289.10H180.84" stroke="#38e0b8" stroke-width="0.80" stroke-opacity="0.45"/>
<path d="M13.90,291.02H33.00" stroke="#36ddc8" stroke-width="0.80" stroke-opacity="0.45"/>
<path d="M63.18,291.02H82.28" stroke="#36ddc8" stroke-width="0.80" stroke-opacity="0.45"/>
<path d="M112.46,291.02H131.56" stroke="#36ddc8" stroke-width="0.80" stroke-opacity="0.45"/>
<path d="M161.74,291.02H180.84" stroke="#36ddc8" stroke-width="0.80" stroke-opacity="0.45"/>
<path d="M13.90,292.95H33.00" stroke="#34dad9" stroke-width="0.80" stroke-opacity="0.45"/>
<path d="M63.18,292.95H82.28" stroke="#34dad9" stroke-width="0.80" stroke-opacity="0.45"/>
<path d="M112.46,292.95H131.56" stroke="#34dad9" stroke-width="0.80" stroke-opacity="0.45"/>
<path d="M161.74,292.95H180.84" stroke="#34dad9" stroke-width="0.80" stroke-opacity="0.45"/>
<path d="M13.90,294.87H33.00" stroke="#32d7e9" stroke-width="0.80" stroke-opacity="0.45"/>
<path d="M63.18,294.87H82.28" stroke="#32d7e9" stroke-width="0.80" stroke-opacity="0.45"/>
<path d="M112.46,294.87H131.56" stroke="#32d7e9" stroke-width="0.80" stroke-opacity="0.45"/>
<path d="M161.74,294.87H180.84" stroke="#32d7e9" stroke-width="0.80" stroke-opacity="0.45"/>
<path d="M13.90,296.80H33.00" stroke="#34cdec" stroke-width="0.80" stroke-opacity="0.45"/>
<path d="M63.18,296.80H82.28" stroke="#34cdec" stroke-width="0.80" stroke-opacity="0.45"/>
<path d="M112.46,296.80H131.56" stroke="#34cdec" stroke-width="0.80" stroke-opacity="0.45"/>
<path d="M161.74,296.80H180.84" stroke="#34cdec" stroke-width="0.80" stroke-opacity="0.45"/>
<path d="M13.90,298.72H33.00" stroke="#36c2ed" stroke-width="0.80" stroke-opacity="0.45"/>
<path d="M63.18,298.72H82.28" stroke="#36c2ed" stroke-width="0.80" stroke-opacity="0.45"/>
<path d="M112.46,298.72H131.56" stroke="#36c2ed" stroke-width="0.80" stroke-opacity="0.45"/>
<path d="M161.74,298.72H180.84" stroke="#36c2ed" stroke-width="0.80" stroke-opacity="0.45"/>
<path d="M13.90,300.65H33.00" stroke="#38b7ee" stroke-width="0.80" stroke-opacity="0.45"/>
<path d="M63.18,300.65H82.28" stroke="#38b7ee" stroke-width="0.80" stroke-opacity="0.45"/>
<path d="M112.46,300.65H131.56" stroke="#38b7ee" stroke-width="0.80" stroke-opacity="0.45"/>
<path d="M161.74,300.65H180.84" stroke="#38b7ee" stroke-width="0.80" stroke-opacity="0.45"/>
<path d="M13.90,302.57H33.00" stroke="#3bacef" stroke-width="0.80" stroke-opacity="0.45"/>
<path d="M63.18,302.57H82.28" stroke="#3bacef" stroke-width="0.80" stroke-opacity="0.45"/>
<path d="M112.46,302.57H131.56" stroke="#3bacef" stroke-width="0.80" stroke-opacity="0.45"/>
<path d="M161.74,302.57H180.84" stroke="#3bacef" stroke-width="0.80" stroke-opacity="0.45"/>
<path d="M13.90,304.50H33.00" stroke="#3da1f0" stroke-width="0.80" stroke-opacity="0.45"/>
<path d="M63.18,304.50H82.28" stroke="#3da1f0" stroke-width="0.80" stroke-opacity="0.45"/>
<path d="M112.46,304.50H131.56" stroke="#3da1f0" stroke-width="0.80" stroke-opacity="0.45"/>
<path d="M161.74,304.50H180.84" stroke="#3da1f0" stroke-width="0.80" stroke-opacity="0.45"/>
<path d="M13.90,306.43H33.00" stroke="#3f97f0" stroke-width="0.80" stroke-opacity="0.45"/>
<path d="M63.18,306.43H82.28" stroke="#3f97f0" stroke-width="0.80" stroke-opacity="0.45"/>
<path d="M112.46,306.43H131.56" stroke="#3f97f0" stroke-width="0.80" stroke-opacity="0.45"/>
<path d="M161.74,306.43H180.84" stroke="#3f97f0" stroke-width="0.80" stroke-opacity="0.45"/>
<path d="M13.90,308.35H33.00" stroke="#428def" stroke-width="0.80" stroke-opacity="0.45"/>
<path d="M63.18,308.35H82.28" stroke="#428def" stroke-width="0.80" stroke-opacity="0.45"/>
<path d="M112.46,308.35H131.56" stroke="#428def" stroke-width="0.80" stroke-opacity="0.45"/>
<path d="M161.74,308.35H180.84" stroke="#428def" stroke-width="0.80" stroke-opacity="0.45"/>
<path d="M13.90,310.28H33.00" stroke="#4483ef" stroke-width="0.80" stroke-opacity="0.45"/>
<path d="M63.18,310.28H82.28" stroke="#4483ef" stroke-width="0.80" stroke-opacity="0.45"/>
<path d="M112.46,310.28H131.56" stroke="#4483ef" stroke-width="0.80" stroke-opacity="0.45"/>
<path d="M161.74,310.28H180.84" stroke="#4483ef" stroke-width="0.80" stroke-opacity="0.45"/>
<path d="M13.90,312.20H33.00" stroke="#4678ef" stroke-width="0.80" stroke-opacity="0.45"/>
<path d="M63.18,312.20H82.28" stroke="#4678ef" stroke-width="0.80" stroke-opacity="0.45"/>
<path d="M112.46,312.20H131.56" stroke="#4678ef" stroke-width="0.80" stroke-opacity="0.45"/>
<path d="M161.74,312.20H180.84" stroke="#4678ef" stroke-width="0.80" stroke-opacity="0.45"/>
<path d="M13.90,314.13H33.00" stroke="#496eee" stroke-width="0.80" stroke-opacity="0.45"/>
<path d="M63.18,314.13H82.28" stroke="#496eee" stroke-width="0.80" stroke-opacity="0.45"/>
<path d="M112.46,314.13H131.56" stroke="#496eee" stroke-width="0.80" stroke-opacity="0.45"/>
<path d="M161.74,314.13H180.84" stroke="#496eee" stroke-width="0.80" stroke-opacity="0.45"/>
<path d="M13.90,316.05H33.00" stroke="#4b64ee" stroke-width="0.80" stroke-opacity="0.45"/>
<path d="M63.18,316.05H82.28" stroke="#4b64ee" stroke-width="0.80" stroke-opacity="0.45"/>
<path d="M112.46,316.05H131.56" stroke="#4b64ee" stroke-width="0.80" stroke-opacity="0.45"/>
<path d="M161.74,316.05H180.84" stroke="#4b64ee" stroke-width="0.80" stroke-opacity="0.45"/>
<path d="M13.90,317.98H33.00" stroke="#4b5beb" stroke-width="0.80" stroke-opacity="0.45"/>
<path d="M63.18,317.98H82.28" stroke="#4b5beb" stroke-width="0.80" stroke-opacity="0.45"/>
<path d="M112.46,317.98H131.56" stroke="#4b5beb" stroke-width="0.80" stroke-opacity="0.45"/>
<path d="M161.74,317.98H180.84" stroke="#4b5beb" stroke-width="0.80" stroke-opacity="0.45"/>
<path d="M13.90,319.90H33.00" stroke="#4954e5" stroke-width="0.80" stroke-opacity="0.45"/>
<path d="M63.18,319.90H82.28" stroke="#4954e5" stroke-width="0.80" stroke-opacity="0.45"/>
<path d="M112.46,319.90H131.56" stroke="#4954e5" stroke-width="0.80" stroke-opacity="0.45"/>
<path d="M161.74,319.90H180.84" stroke="#4954e5" stroke-width="0.80" stroke-opacity="0.45"/>
<path d="M13.90,321.83H33.00" stroke="#464cdf" stroke-width="0.80" stroke-opacity="0.45"/>
<path d="M63.18,321.83H82.28" stroke="#464cdf" stroke-width="0.80" stroke-opacity="0.45"/>
<path d="M112.46,321.83H131.56" stroke="#464cdf" stroke-width="0.80" stroke-opacity="0.45"/>
<path d="M161.74,321.83H180.84" stroke="#464cdf" stroke-width="0.80" stroke-opacity="0.45"/>
<path d="M13.90,323.75H33.00" stroke="#4445d9" stroke-width="0.80" stroke-opacity="0.45"/>
<path d="M63.18,323.75H82.28" stroke="#4445d9" stroke-width="0.80" stroke-opacity="0.45"/>
<path d="M112.46,323.75H131.56" stroke="#4445d9" stroke-width="0.80" stroke-opacity="0.45"/>
<path d="M161.74,323.75H180.84" stroke="#4445d9" stroke-width="0.80" stroke-opacity="0.45"/>
<path d="M13.90,325.68H33.00" stroke="#423dd3" stroke-width="0.80" stroke-opacity="0.45"/>
<path d="M63.18,325.68H82.28" stroke="#423dd3" stroke-width="0.80" stroke-opacity="0.45"/>
<path d="M112.46,325.68H131.56" stroke="#423dd3" stroke-width="0.80" stroke-opacity="0.45"/>
<path d="M161.74,325.68H180.84" stroke="#423dd3" stroke-width="0.80" stroke-opacity="0.45"/>
<path d="M13.90,327.60H33.00" stroke="#4036cc" stroke-width="0.80" stroke-opacity="0.45"/>
<path d="M63.18,327.60H82.28" stroke="#4036cc" stroke-width="0.80" stroke-opacity="0.45"/>
<path d="M112.46,327.60H131.56" stroke="#4036cc" stroke-width="0.80" stroke-opacity="0.45"/>
<path d="M161.74,327.60H180.84" stroke="#4036cc" stroke-width="0.80" stroke-opacity="0.45"/>
<path d="M13.90,329.53H33.00" stroke="#3d2fc3" stroke-width="0.80" stroke-opacity="0.45"/>
<path d="M63.18,329.53H82.28" stroke="#3d2fc3" stroke-width="0.80" stroke-opacity="0.45"/>
<path d="M112.46,329.53H131.56" stroke="#3d2fc3" stroke-width="0.80" stroke-opacity="0.45"/>
<path d="M161.74,329.53H180.84" stroke="#3d2fc3" stroke-width="0.80" stroke-opacity="0.45"/>
<path d="M13.90,331.45H33.00" stroke="#372ab2" stroke-width="0.80" stroke-opacity="0.45"/>
<path d="M63.18,331.45H82.28" stroke="#372ab2" stroke-width="0.80" stroke-opacity="0.45"/>
<path d="M112.46,331.45H131.56" stroke="#372ab2" stroke-width="0.80" stroke-opacity="0.45"/>
<path d="M161.74,331.45H180.84" stroke="#372ab2" stroke-width="0.80" stroke-opacity="0.45"/>
<path d="M13.90,333.38H33.00" stroke="#3126a0" stroke-width="0.80" stroke-opacity="0.45"/>
<path d="M63.18,333.38H82.28" stroke="#3126a0" stroke-width="0.80" stroke-opacity="0.45"/>
<path d="M112.46,333.38H131.56" stroke="#3126a0" stroke-width="0.80" stroke-opacity="0.45"/>
<path d="M161.74,333.38H180.84" stroke="#3126a0" stroke-width="0.80" stroke-opacity="0.45"/>
<path d="M13.90,335.30H33.00" stroke="#2c218f" stroke-width="0.80" stroke-opacity="0.45"/>
<path d="M63.18,335.30H82.28" stroke="#2c218f" stroke-width="0.80" stroke-opacity="0.45"/>
<path d="M112.46,335.30H131.56" stroke="#2c218f" stroke-width="0.80" stroke-opacity="0.45"/>
<path d="M161.74,335.30H180.84" stroke="#2c218f" stroke-width="0.80" stroke-opacity="0.45"/>
<path d="M13.90,337.23H33.00" stroke="#281e82" stroke-width="0.80" stroke-opacity="0.45"/>
<path d="M63.18,337.23H82.28" stroke="#281e82" stroke-width="0.80" stroke-opacity="0.45"/>
<path d="M112.46,337.23H131.56" stroke="#281e82" stroke-width="0.80" stroke-opacity="0.45"/>
<path d="M161.74,337.23H180.84" stroke="#281e82" stroke-width="0.80" stroke-opacity="0.45"/>
<path d="M13.90,339.15H33.00" stroke="#281e82" stroke-width="0.80" stroke-opacity="0.45"/>
<path d="M63.18,339.15H82.28" stroke="#281e82" stroke-width="0.80" stroke-opacity="0.45"/>
<path d="M112.46,339.15H131.56" stroke="#281e82" stroke-width="0.80" stroke-opacity="0.45"/>
<path d="M161.74,339.15H180.84" stroke="#281e82" stroke-width="0.80" stroke-opacity="0.45"/>
<path d="M13.90,341.08H33.00" stroke="#281e82" stroke-width="0.80" stroke-opacity="0.45"/>
<path d="M63.18,341.08H82.28" stroke="#281e82" stroke-width="0.80" stroke-opacity="0.45"/>
<path d="M112.46,341.08H131.56" stroke="#281e82" stroke-width="0.80" stroke-opacity="0.45"/>
<path d="M161.74,341.08H180.84" stroke="#281e82" stroke-width="0.80" stroke-opacity="0.45"/>
<path d="M13.90,343.00H33.00" stroke="#281e82" stroke-width="0.80" stroke-opacity="0.45"/>
<path d="M63.18,343.00H82.28" stroke="#281e82" stroke-width="0.80" stroke-opacity="0.45"/>
<path d="M112.46,343.00H131.56" stroke="#281e82" stroke-width="0.80" stroke-opacity="0.45"/>
<path d="M161.74,343.00H180.84" stroke="#281e82" stroke-width="0.80" stroke-opacity="0.45"/>
<path d="M13.90,344.93H33.00" stroke="#281e82" stroke-width="0.80" stroke-opacity="0.45"/>
<path d="M63.18,344.93H82.28" stroke="#281e82" stroke-width="0.80" stroke-opacity="0.45"/>
<path d="M112.46,344.93H131.56" stroke="#281e82" stroke-width="0.80" stroke-opacity="0.45"/>
<path d="M161.74,344.93H180.84" stroke="#281e82" stroke-width="0.80" stroke-opacity="0.45"/>
<path d="M34.05,238.74 A10.60,18.32 0 0 0 12.85,238.74" fill="none" stroke="#8c4b5f" stroke-width="0.90"/>
<path d="M33.61,238.74 A10.16,9.94 0 0 0 13.29,238.74" fill="none" stroke="#994558" stroke-width="0.90" stroke-opacity="0.72"/>
<path d="M33.49,238.74 A10.04,5.90 0 0 0 13.41,238.74" fill="none" stroke="#a54052" stroke-width="0.90" stroke-opacity="0.56"/>
<path d="M33.43,238.74 A9.98,4.04 0 0 0 13.47,238.74" fill="none" stroke="#ac3d4e" stroke-width="0.90" stroke-opacity="0.56"/>
<path d="M33.43,238.74 A9.98,2.48 0 0 0 13.47,238.74" fill="none" stroke="#b23a4b" stroke-width="0.90" stroke-opacity="0.56"/>
<path d="M83.33,238.74 A10.60,18.32 0 0 0 62.13,238.74" fill="none" stroke="#8c4b5f" stroke-width="0.90"/>
<path d="M82.89,238.74 A10.16,9.94 0 0 0 62.57,238.74" fill="none" stroke="#994558" stroke-width="0.90" stroke-opacity="0.72"/>
<path d="M82.77,238.74 A10.04,5.90 0 0 0 62.69,238.74" fill="none" stroke="#a54052" stroke-width="0.90" stroke-opacity="0.56"/>
<path d="M82.71,238.74 A9.98,4.04 0 0 0 62.75,238.74" fill="none" stroke="#ac3d4e" stroke-width="0.90" stroke-opacity="0.56"/>
<path d="M82.71,238.74 A9.98,2.48 0 0 0 62.75,238.74" fill="none" stroke="#b23a4b" stroke-width="0.90" stroke-opacity="0.56"/>
<path d="M132.61,238.74 A10.60,18.32 0 0 0 111.41,238.74" fill="none" stroke="#8c4b5f" stroke-width="0.90"/>
<path d="M132.17,238.74 A10.16,9.94 0 0 0 111.85,238.74" fill="none" stroke="#994558" stroke-width="0.90" stroke-opacity="0.72"/>
<path d="M132.05,238.74 A10.04,5.90 0 0 0 111.97,238.74" fill="none" stroke="#a54052" stroke-width="0.90" stroke-opacity="0.56"/>
<path d="M131.99,238.74 A9.98,4.04 0 0 0 112.03,238.74" fill="none" stroke="#ac3d4e" stroke-width="0.90" stroke-opacity="0.56"/>
<path d="M131.99,238.74 A9.98,2.48 0 0 0 112.03,238.74" fill="none" stroke="#b23a4b" stroke-width="0.90" stroke-opacity="0.56"/>
<path d="M181.89,238.74 A10.60,18.32 0 0 0 160.69,238.74" fill="none" stroke="#8c4b5f" stroke-width="0.90"/>
<path d="M181.45,238.74 A10.16,9.94 0 0 0 161.13,238.74" fill="none" stroke="#994558" stroke-width="0.90" stroke-opacity="0.72"/>
<path d="M181.33,238.74 A10.04,5.90 0 0 0 161.25,238.74" fill="none" stroke="#a54052" stroke-width="0.90" stroke-opacity="0.56"/>
<path d="M181.27,238.74 A9.98,4.04 0 0 0 161.31,238.74" fill="none" stroke="#ac3d4e" stroke-width="0.90" stroke-opacity="0.56"/>
<path d="M181.27,238.74 A9.98,2.48 0 0 0 161.31,238.74" fill="none" stroke="#b23a4b" stroke-width="0.90" stroke-opacity="0.56"/>
<path d="M12.85,238.74 A14.04,15.40 0 0 0 -15.23,238.74" fill="none" stroke="#8c4b5f" stroke-width="0.90"/>
<path d="M62.13,238.74 A14.04,15.40 0 0 0 34.05,238.74" fill="none" stroke="#8c4b5f" stroke-width="0.90"/>
<path d="M111.41,238.74 A14.04,15.40 0 0 0 83.33,238.74" fill="none" stroke="#8c4b5f" stroke-width="0.90"/>
<path d="M160.69,238.74 A14.04,15.40 0 0 0 132.61,238.74" fill="none" stroke="#8c4b5f" stroke-width="0.90"/>
<path d="M209.97,238.74 A14.04,15.40 0 0 0 181.89,238.74" fill="none" stroke="#8c4b5f" stroke-width="0.90"/>
<path d="M13.90,243.70 A15.09,15.21 0 0 0 -16.28,243.70 L-16.28,321.95 A15.09,32.29 0 0 0 13.90,321.95Z" fill="#fff" stroke="#6e6e6e" stroke-width="1.00"/>
<path d="M63.18,243.70 A15.09,15.21 0 0 0 33.00,243.70 L33.00,321.95 A15.09,32.29 0 0 0 63.18,321.95Z" fill="#fff" stroke="#6e6e6e" stroke-width="1.00"/>
<path d="M112.46,243.70 A15.09,15.21 0 0 0 82.28,243.70 L82.28,321.95 A15.09,32.29 0 0 0 112.46,321.95Z" fill="#fff" stroke="#6e6e6e" stroke-width="1.00"/>
<path d="M161.74,243.70 A15.09,15.21 0 0 0 131.56,243.70 L131.56,321.95 A15.09,32.29 0 0 0 161.74,321.95Z" fill="#fff" stroke="#6e6e6e" stroke-width="1.00"/>
<path d="M211.02,243.70 A15.09,15.21 0 0 0 180.84,243.70 L180.84,321.95 A15.09,32.29 0 0 0 211.02,321.95Z" fill="#fff" stroke="#6e6e6e" stroke-width="1.00"/>
</g>
<clipPath id="clB"><rect x="255.86" y="26.90" width="132.16" height="118.85"/></clipPath>
<g clip-path="url(#clB)">
<linearGradient id="g3" gradientUnits="userSpaceOnUse" x1="0" y1="74.44" x2="0" y2="98.21"><stop offset="0.0500" stop-color="#ffffff"/><stop offset="0.1500" stop-color="#eed8dc"/><stop offset="0.2200" stop-color="#e5afb5"/><stop offset="0.2800" stop-color="#e1656d"/><stop offset="0.3200" stop-color="#e75150"/><stop offset="0.3600" stop-color="#ee684c"/><stop offset="0.3900" stop-color="#f2a44c"/><stop offset="0.4200" stop-color="#f0e443"/><stop offset="0.4500" stop-color="#a1f05d"/><stop offset="0.4900" stop-color="#4be6a7"/><stop offset="0.5300" stop-color="#42daed"/><stop offset="0.5700" stop-color="#4ea1f1"/><stop offset="0.6100" stop-color="#5877ef"/><stop offset="0.6500" stop-color="#565ce2"/><stop offset="0.6900" stop-color="#5c52d3"/><stop offset="0.7400" stop-color="#8880d2"/><stop offset="0.8000" stop-color="#b9b5e5"/><stop offset="0.9000" stop-color="#e7e6f6"/><stop offset="1.0000" stop-color="#ffffff"/></linearGradient>
<linearGradient id="g4" gradientUnits="userSpaceOnUse" x1="0" y1="73.49" x2="0" y2="99.16"><stop offset="0.0000" stop-color="#ffffff"/><stop offset="0.1759" stop-color="#f3e2e4"/><stop offset="0.3519" stop-color="#e9c3c8"/><stop offset="0.5000" stop-color="#cff8d7"/><stop offset="0.6481" stop-color="#c6c5f2"/><stop offset="0.8241" stop-color="#e2e1f7"/><stop offset="1.0000" stop-color="#ffffff"/></linearGradient>
<rect x="255.86" y="73.49" width="132.16" height="25.67" fill="url(#g4)"/>
<path d="M270.14,82.52 A4.84,8.94 0 0 0 260.46,82.52 L260.46,90.13 A4.84,8.94 0 0 0 270.14,90.13Z" fill="url(#g3)"/>
<path d="M289.02,82.52 A4.84,8.94 0 0 0 279.34,82.52 L279.34,90.13 A4.84,8.94 0 0 0 289.02,90.13Z" fill="url(#g3)"/>
<path d="M307.90,82.52 A4.84,8.94 0 0 0 298.22,82.52 L298.22,90.13 A4.84,8.94 0 0 0 307.90,90.13Z" fill="url(#g3)"/>
<path d="M326.78,82.52 A4.84,8.94 0 0 0 317.10,82.52 L317.10,90.13 A4.84,8.94 0 0 0 326.78,90.13Z" fill="url(#g3)"/>
<path d="M345.66,82.52 A4.84,8.94 0 0 0 335.98,82.52 L335.98,90.13 A4.84,8.94 0 0 0 345.66,90.13Z" fill="url(#g3)"/>
<path d="M364.54,82.52 A4.84,8.94 0 0 0 354.86,82.52 L354.86,90.13 A4.84,8.94 0 0 0 364.54,90.13Z" fill="url(#g3)"/>
<path d="M383.42,82.52 A4.84,8.94 0 0 0 373.74,82.52 L373.74,90.13 A4.84,8.94 0 0 0 383.42,90.13Z" fill="url(#g3)"/>
<path d="M260.46,82.52 A4.60,8.79 0 0 0 251.26,82.52" fill="none" stroke="#8c4b5f" stroke-width="0.75" stroke-opacity="0.55"/>
<path d="M251.26,90.13 A4.60,8.79 0 0 0 260.46,90.13" fill="none" stroke="#3528aa" stroke-width="0.75" stroke-opacity="0.41"/>
<path d="M260.46,82.52 A4.60,5.47 0 0 0 251.26,82.52" fill="none" stroke="#994558" stroke-width="0.75" stroke-opacity="0.55"/>
<path d="M251.26,90.13 A4.60,5.47 0 0 0 260.46,90.13" fill="none" stroke="#3528aa" stroke-width="0.75" stroke-opacity="0.41"/>
<path d="M260.46,82.52 A4.60,3.80 0 0 0 251.26,82.52" fill="none" stroke="#a54052" stroke-width="0.75" stroke-opacity="0.55"/>
<path d="M251.26,90.13 A4.60,3.80 0 0 0 260.46,90.13" fill="none" stroke="#3528aa" stroke-width="0.75" stroke-opacity="0.41"/>
<path d="M260.46,82.52 A4.60,2.85 0 0 0 251.26,82.52" fill="none" stroke="#b23a4b" stroke-width="0.75" stroke-opacity="0.55"/>
<path d="M251.26,90.13 A4.60,2.85 0 0 0 260.46,90.13" fill="none" stroke="#3528aa" stroke-width="0.75" stroke-opacity="0.41"/>
<path d="M279.34,82.52 A4.60,8.79 0 0 0 270.14,82.52" fill="none" stroke="#8c4b5f" stroke-width="0.75" stroke-opacity="0.55"/>
<path d="M270.14,90.13 A4.60,8.79 0 0 0 279.34,90.13" fill="none" stroke="#3528aa" stroke-width="0.75" stroke-opacity="0.41"/>
<path d="M279.34,82.52 A4.60,5.47 0 0 0 270.14,82.52" fill="none" stroke="#994558" stroke-width="0.75" stroke-opacity="0.55"/>
<path d="M270.14,90.13 A4.60,5.47 0 0 0 279.34,90.13" fill="none" stroke="#3528aa" stroke-width="0.75" stroke-opacity="0.41"/>
<path d="M279.34,82.52 A4.60,3.80 0 0 0 270.14,82.52" fill="none" stroke="#a54052" stroke-width="0.75" stroke-opacity="0.55"/>
<path d="M270.14,90.13 A4.60,3.80 0 0 0 279.34,90.13" fill="none" stroke="#3528aa" stroke-width="0.75" stroke-opacity="0.41"/>
<path d="M279.34,82.52 A4.60,2.85 0 0 0 270.14,82.52" fill="none" stroke="#b23a4b" stroke-width="0.75" stroke-opacity="0.55"/>
<path d="M270.14,90.13 A4.60,2.85 0 0 0 279.34,90.13" fill="none" stroke="#3528aa" stroke-width="0.75" stroke-opacity="0.41"/>
<path d="M298.22,82.52 A4.60,8.79 0 0 0 289.02,82.52" fill="none" stroke="#8c4b5f" stroke-width="0.75" stroke-opacity="0.55"/>
<path d="M289.02,90.13 A4.60,8.79 0 0 0 298.22,90.13" fill="none" stroke="#3528aa" stroke-width="0.75" stroke-opacity="0.41"/>
<path d="M298.22,82.52 A4.60,5.47 0 0 0 289.02,82.52" fill="none" stroke="#994558" stroke-width="0.75" stroke-opacity="0.55"/>
<path d="M289.02,90.13 A4.60,5.47 0 0 0 298.22,90.13" fill="none" stroke="#3528aa" stroke-width="0.75" stroke-opacity="0.41"/>
<path d="M298.22,82.52 A4.60,3.80 0 0 0 289.02,82.52" fill="none" stroke="#a54052" stroke-width="0.75" stroke-opacity="0.55"/>
<path d="M289.02,90.13 A4.60,3.80 0 0 0 298.22,90.13" fill="none" stroke="#3528aa" stroke-width="0.75" stroke-opacity="0.41"/>
<path d="M298.22,82.52 A4.60,2.85 0 0 0 289.02,82.52" fill="none" stroke="#b23a4b" stroke-width="0.75" stroke-opacity="0.55"/>
<path d="M289.02,90.13 A4.60,2.85 0 0 0 298.22,90.13" fill="none" stroke="#3528aa" stroke-width="0.75" stroke-opacity="0.41"/>
<path d="M317.10,82.52 A4.60,8.79 0 0 0 307.90,82.52" fill="none" stroke="#8c4b5f" stroke-width="0.75" stroke-opacity="0.55"/>
<path d="M307.90,90.13 A4.60,8.79 0 0 0 317.10,90.13" fill="none" stroke="#3528aa" stroke-width="0.75" stroke-opacity="0.41"/>
<path d="M317.10,82.52 A4.60,5.47 0 0 0 307.90,82.52" fill="none" stroke="#994558" stroke-width="0.75" stroke-opacity="0.55"/>
<path d="M307.90,90.13 A4.60,5.47 0 0 0 317.10,90.13" fill="none" stroke="#3528aa" stroke-width="0.75" stroke-opacity="0.41"/>
<path d="M317.10,82.52 A4.60,3.80 0 0 0 307.90,82.52" fill="none" stroke="#a54052" stroke-width="0.75" stroke-opacity="0.55"/>
<path d="M307.90,90.13 A4.60,3.80 0 0 0 317.10,90.13" fill="none" stroke="#3528aa" stroke-width="0.75" stroke-opacity="0.41"/>
<path d="M317.10,82.52 A4.60,2.85 0 0 0 307.90,82.52" fill="none" stroke="#b23a4b" stroke-width="0.75" stroke-opacity="0.55"/>
<path d="M307.90,90.13 A4.60,2.85 0 0 0 317.10,90.13" fill="none" stroke="#3528aa" stroke-width="0.75" stroke-opacity="0.41"/>
<path d="M335.98,82.52 A4.60,8.79 0 0 0 326.78,82.52" fill="none" stroke="#8c4b5f" stroke-width="0.75" stroke-opacity="0.55"/>
<path d="M326.78,90.13 A4.60,8.79 0 0 0 335.98,90.13" fill="none" stroke="#3528aa" stroke-width="0.75" stroke-opacity="0.41"/>
<path d="M335.98,82.52 A4.60,5.47 0 0 0 326.78,82.52" fill="none" stroke="#994558" stroke-width="0.75" stroke-opacity="0.55"/>
<path d="M326.78,90.13 A4.60,5.47 0 0 0 335.98,90.13" fill="none" stroke="#3528aa" stroke-width="0.75" stroke-opacity="0.41"/>
<path d="M335.98,82.52 A4.60,3.80 0 0 0 326.78,82.52" fill="none" stroke="#a54052" stroke-width="0.75" stroke-opacity="0.55"/>
<path d="M326.78,90.13 A4.60,3.80 0 0 0 335.98,90.13" fill="none" stroke="#3528aa" stroke-width="0.75" stroke-opacity="0.41"/>
<path d="M335.98,82.52 A4.60,2.85 0 0 0 326.78,82.52" fill="none" stroke="#b23a4b" stroke-width="0.75" stroke-opacity="0.55"/>
<path d="M326.78,90.13 A4.60,2.85 0 0 0 335.98,90.13" fill="none" stroke="#3528aa" stroke-width="0.75" stroke-opacity="0.41"/>
<path d="M354.86,82.52 A4.60,8.79 0 0 0 345.66,82.52" fill="none" stroke="#8c4b5f" stroke-width="0.75" stroke-opacity="0.55"/>
<path d="M345.66,90.13 A4.60,8.79 0 0 0 354.86,90.13" fill="none" stroke="#3528aa" stroke-width="0.75" stroke-opacity="0.41"/>
<path d="M354.86,82.52 A4.60,5.47 0 0 0 345.66,82.52" fill="none" stroke="#994558" stroke-width="0.75" stroke-opacity="0.55"/>
<path d="M345.66,90.13 A4.60,5.47 0 0 0 354.86,90.13" fill="none" stroke="#3528aa" stroke-width="0.75" stroke-opacity="0.41"/>
<path d="M354.86,82.52 A4.60,3.80 0 0 0 345.66,82.52" fill="none" stroke="#a54052" stroke-width="0.75" stroke-opacity="0.55"/>
<path d="M345.66,90.13 A4.60,3.80 0 0 0 354.86,90.13" fill="none" stroke="#3528aa" stroke-width="0.75" stroke-opacity="0.41"/>
<path d="M354.86,82.52 A4.60,2.85 0 0 0 345.66,82.52" fill="none" stroke="#b23a4b" stroke-width="0.75" stroke-opacity="0.55"/>
<path d="M345.66,90.13 A4.60,2.85 0 0 0 354.86,90.13" fill="none" stroke="#3528aa" stroke-width="0.75" stroke-opacity="0.41"/>
<path d="M373.74,82.52 A4.60,8.79 0 0 0 364.54,82.52" fill="none" stroke="#8c4b5f" stroke-width="0.75" stroke-opacity="0.55"/>
<path d="M364.54,90.13 A4.60,8.79 0 0 0 373.74,90.13" fill="none" stroke="#3528aa" stroke-width="0.75" stroke-opacity="0.41"/>
<path d="M373.74,82.52 A4.60,5.47 0 0 0 364.54,82.52" fill="none" stroke="#994558" stroke-width="0.75" stroke-opacity="0.55"/>
<path d="M364.54,90.13 A4.60,5.47 0 0 0 373.74,90.13" fill="none" stroke="#3528aa" stroke-width="0.75" stroke-opacity="0.41"/>
<path d="M373.74,82.52 A4.60,3.80 0 0 0 364.54,82.52" fill="none" stroke="#a54052" stroke-width="0.75" stroke-opacity="0.55"/>
<path d="M364.54,90.13 A4.60,3.80 0 0 0 373.74,90.13" fill="none" stroke="#3528aa" stroke-width="0.75" stroke-opacity="0.41"/>
<path d="M373.74,82.52 A4.60,2.85 0 0 0 364.54,82.52" fill="none" stroke="#b23a4b" stroke-width="0.75" stroke-opacity="0.55"/>
<path d="M364.54,90.13 A4.60,2.85 0 0 0 373.74,90.13" fill="none" stroke="#3528aa" stroke-width="0.75" stroke-opacity="0.41"/>
<path d="M392.62,82.52 A4.60,8.79 0 0 0 383.42,82.52" fill="none" stroke="#8c4b5f" stroke-width="0.75" stroke-opacity="0.55"/>
<path d="M383.42,90.13 A4.60,8.79 0 0 0 392.62,90.13" fill="none" stroke="#3528aa" stroke-width="0.75" stroke-opacity="0.41"/>
<path d="M392.62,82.52 A4.60,5.47 0 0 0 383.42,82.52" fill="none" stroke="#994558" stroke-width="0.75" stroke-opacity="0.55"/>
<path d="M383.42,90.13 A4.60,5.47 0 0 0 392.62,90.13" fill="none" stroke="#3528aa" stroke-width="0.75" stroke-opacity="0.41"/>
<path d="M392.62,82.52 A4.60,3.80 0 0 0 383.42,82.52" fill="none" stroke="#a54052" stroke-width="0.75" stroke-opacity="0.55"/>
<path d="M383.42,90.13 A4.60,3.80 0 0 0 392.62,90.13" fill="none" stroke="#3528aa" stroke-width="0.75" stroke-opacity="0.41"/>
<path d="M392.62,82.52 A4.60,2.85 0 0 0 383.42,82.52" fill="none" stroke="#b23a4b" stroke-width="0.75" stroke-opacity="0.55"/>
<path d="M383.42,90.13 A4.60,2.85 0 0 0 392.62,90.13" fill="none" stroke="#3528aa" stroke-width="0.75" stroke-opacity="0.41"/>
<path d="M270.32,82.52 A5.02,8.94 0 0 0 260.28,82.52" fill="none" stroke="#8c4b5f" stroke-width="0.75" stroke-opacity="0.55"/>
<path d="M260.28,90.13 A5.02,8.94 0 0 0 270.32,90.13" fill="none" stroke="#3528aa" stroke-width="0.75" stroke-opacity="0.41"/>
<path d="M270.14,82.76 A4.84,5.94 0 0 0 260.46,82.76" fill="none" stroke="#a54052" stroke-width="0.75" stroke-opacity="0.55"/>
<path d="M260.46,89.89 A4.84,5.94 0 0 0 270.14,89.89" fill="none" stroke="#3528aa" stroke-width="0.75" stroke-opacity="0.41"/>
<path d="M269.97,83.00 A4.67,4.90 0 0 0 260.63,83.00" fill="none" stroke="#c73141" stroke-width="0.75" stroke-opacity="0.55"/>
<path d="M260.63,89.65 A4.67,4.90 0 0 0 269.97,89.65" fill="none" stroke="#3528aa" stroke-width="0.75" stroke-opacity="0.41"/>
<path d="M269.82,83.23 A4.52,4.04 0 0 0 260.78,83.23" fill="none" stroke="#e7413c" stroke-width="0.75" stroke-opacity="0.41"/>
<path d="M260.78,89.42 A4.52,4.04 0 0 0 269.82,89.42" fill="none" stroke="#3528aa" stroke-width="0.75" stroke-opacity="0.31"/>
<path d="M269.68,83.47 A4.38,3.57 0 0 0 260.92,83.47" fill="none" stroke="#e7413c" stroke-width="0.75" stroke-opacity="0.41"/>
<path d="M260.92,89.18 A4.38,3.57 0 0 0 269.68,89.18" fill="none" stroke="#3528aa" stroke-width="0.75" stroke-opacity="0.31"/>
<path d="M269.56,83.71 A4.26,3.21 0 0 0 261.04,83.71" fill="none" stroke="#e7413c" stroke-width="0.75" stroke-opacity="0.41"/>
<path d="M269.45,83.95 A4.15,2.97 0 0 0 261.15,83.95" fill="none" stroke="#e7413c" stroke-width="0.75" stroke-opacity="0.41"/>
<path d="M289.20,82.52 A5.02,8.94 0 0 0 279.16,82.52" fill="none" stroke="#8c4b5f" stroke-width="0.75" stroke-opacity="0.55"/>
<path d="M279.16,90.13 A5.02,8.94 0 0 0 289.20,90.13" fill="none" stroke="#3528aa" stroke-width="0.75" stroke-opacity="0.41"/>
<path d="M289.02,82.76 A4.84,5.94 0 0 0 279.34,82.76" fill="none" stroke="#a54052" stroke-width="0.75" stroke-opacity="0.55"/>
<path d="M279.34,89.89 A4.84,5.94 0 0 0 289.02,89.89" fill="none" stroke="#3528aa" stroke-width="0.75" stroke-opacity="0.41"/>
<path d="M288.85,83.00 A4.67,4.90 0 0 0 279.51,83.00" fill="none" stroke="#c73141" stroke-width="0.75" stroke-opacity="0.55"/>
<path d="M279.51,89.65 A4.67,4.90 0 0 0 288.85,89.65" fill="none" stroke="#3528aa" stroke-width="0.75" stroke-opacity="0.41"/>
<path d="M288.70,83.23 A4.52,4.04 0 0 0 279.66,83.23" fill="none" stroke="#e7413c" stroke-width="0.75" stroke-opacity="0.41"/>
<path d="M279.66,89.42 A4.52,4.04 0 0 0 288.70,89.42" fill="none" stroke="#3528aa" stroke-width="0.75" stroke-opacity="0.31"/>
<path d="M288.56,83.47 A4.38,3.57 0 0 0 279.80,83.47" fill="none" stroke="#e7413c" stroke-width="0.75" stroke-opacity="0.41"/>
<path d="M279.80,89.18 A4.38,3.57 0 0 0 288.56,89.18" fill="none" stroke="#3528aa" stroke-width="0.75" stroke-opacity="0.31"/>
<path d="M288.44,83.71 A4.26,3.21 0 0 0 279.92,83.71" fill="none" stroke="#e7413c" stroke-width="0.75" stroke-opacity="0.41"/>
<path d="M288.33,83.95 A4.15,2.97 0 0 0 280.03,83.95" fill="none" stroke="#e7413c" stroke-width="0.75" stroke-opacity="0.41"/>
<path d="M308.08,82.52 A5.02,8.94 0 0 0 298.04,82.52" fill="none" stroke="#8c4b5f" stroke-width="0.75" stroke-opacity="0.55"/>
<path d="M298.04,90.13 A5.02,8.94 0 0 0 308.08,90.13" fill="none" stroke="#3528aa" stroke-width="0.75" stroke-opacity="0.41"/>
<path d="M307.90,82.76 A4.84,5.94 0 0 0 298.22,82.76" fill="none" stroke="#a54052" stroke-width="0.75" stroke-opacity="0.55"/>
<path d="M298.22,89.89 A4.84,5.94 0 0 0 307.90,89.89" fill="none" stroke="#3528aa" stroke-width="0.75" stroke-opacity="0.41"/>
<path d="M307.73,83.00 A4.67,4.90 0 0 0 298.39,83.00" fill="none" stroke="#c73141" stroke-width="0.75" stroke-opacity="0.55"/>
<path d="M298.39,89.65 A4.67,4.90 0 0 0 307.73,89.65" fill="none" stroke="#3528aa" stroke-width="0.75" stroke-opacity="0.41"/>
<path d="M307.58,83.23 A4.52,4.04 0 0 0 298.54,83.23" fill="none" stroke="#e7413c" stroke-width="0.75" stroke-opacity="0.41"/>
<path d="M298.54,89.42 A4.52,4.04 0 0 0 307.58,89.42" fill="none" stroke="#3528aa" stroke-width="0.75" stroke-opacity="0.31"/>
<path d="M307.44,83.47 A4.38,3.57 0 0 0 298.68,83.47" fill="none" stroke="#e7413c" stroke-width="0.75" stroke-opacity="0.41"/>
<path d="M298.68,89.18 A4.38,3.57 0 0 0 307.44,89.18" fill="none" stroke="#3528aa" stroke-width="0.75" stroke-opacity="0.31"/>
<path d="M307.32,83.71 A4.26,3.21 0 0 0 298.80,83.71" fill="none" stroke="#e7413c" stroke-width="0.75" stroke-opacity="0.41"/>
<path d="M307.21,83.95 A4.15,2.97 0 0 0 298.91,83.95" fill="none" stroke="#e7413c" stroke-width="0.75" stroke-opacity="0.41"/>
<path d="M326.96,82.52 A5.02,8.94 0 0 0 316.92,82.52" fill="none" stroke="#8c4b5f" stroke-width="0.75" stroke-opacity="0.55"/>
<path d="M316.92,90.13 A5.02,8.94 0 0 0 326.96,90.13" fill="none" stroke="#3528aa" stroke-width="0.75" stroke-opacity="0.41"/>
<path d="M326.78,82.76 A4.84,5.94 0 0 0 317.10,82.76" fill="none" stroke="#a54052" stroke-width="0.75" stroke-opacity="0.55"/>
<path d="M317.10,89.89 A4.84,5.94 0 0 0 326.78,89.89" fill="none" stroke="#3528aa" stroke-width="0.75" stroke-opacity="0.41"/>
<path d="M326.61,83.00 A4.67,4.90 0 0 0 317.27,83.00" fill="none" stroke="#c73141" stroke-width="0.75" stroke-opacity="0.55"/>
<path d="M317.27,89.65 A4.67,4.90 0 0 0 326.61,89.65" fill="none" stroke="#3528aa" stroke-width="0.75" stroke-opacity="0.41"/>
<path d="M326.46,83.23 A4.52,4.04 0 0 0 317.42,83.23" fill="none" stroke="#e7413c" stroke-width="0.75" stroke-opacity="0.41"/>
<path d="M317.42,89.42 A4.52,4.04 0 0 0 326.46,89.42" fill="none" stroke="#3528aa" stroke-width="0.75" stroke-opacity="0.31"/>
<path d="M326.32,83.47 A4.38,3.57 0 0 0 317.56,83.47" fill="none" stroke="#e7413c" stroke-width="0.75" stroke-opacity="0.41"/>
<path d="M317.56,89.18 A4.38,3.57 0 0 0 326.32,89.18" fill="none" stroke="#3528aa" stroke-width="0.75" stroke-opacity="0.31"/>
<path d="M326.20,83.71 A4.26,3.21 0 0 0 317.68,83.71" fill="none" stroke="#e7413c" stroke-width="0.75" stroke-opacity="0.41"/>
<path d="M326.09,83.95 A4.15,2.97 0 0 0 317.79,83.95" fill="none" stroke="#e7413c" stroke-width="0.75" stroke-opacity="0.41"/>
<path d="M345.84,82.52 A5.02,8.94 0 0 0 335.80,82.52" fill="none" stroke="#8c4b5f" stroke-width="0.75" stroke-opacity="0.55"/>
<path d="M335.80,90.13 A5.02,8.94 0 0 0 345.84,90.13" fill="none" stroke="#3528aa" stroke-width="0.75" stroke-opacity="0.41"/>
<path d="M345.66,82.76 A4.84,5.94 0 0 0 335.98,82.76" fill="none" stroke="#a54052" stroke-width="0.75" stroke-opacity="0.55"/>
<path d="M335.98,89.89 A4.84,5.94 0 0 0 345.66,89.89" fill="none" stroke="#3528aa" stroke-width="0.75" stroke-opacity="0.41"/>
<path d="M345.49,83.00 A4.67,4.90 0 0 0 336.15,83.00" fill="none" stroke="#c73141" stroke-width="0.75" stroke-opacity="0.55"/>
<path d="M336.15,89.65 A4.67,4.90 0 0 0 345.49,89.65" fill="none" stroke="#3528aa" stroke-width="0.75" stroke-opacity="0.41"/>
<path d="M345.34,83.23 A4.52,4.04 0 0 0 336.30,83.23" fill="none" stroke="#e7413c" stroke-width="0.75" stroke-opacity="0.41"/>
<path d="M336.30,89.42 A4.52,4.04 0 0 0 345.34,89.42" fill="none" stroke="#3528aa" stroke-width="0.75" stroke-opacity="0.31"/>
<path d="M345.20,83.47 A4.38,3.57 0 0 0 336.44,83.47" fill="none" stroke="#e7413c" stroke-width="0.75" stroke-opacity="0.41"/>
<path d="M336.44,89.18 A4.38,3.57 0 0 0 345.20,89.18" fill="none" stroke="#3528aa" stroke-width="0.75" stroke-opacity="0.31"/>
<path d="M345.08,83.71 A4.26,3.21 0 0 0 336.56,83.71" fill="none" stroke="#e7413c" stroke-width="0.75" stroke-opacity="0.41"/>
<path d="M344.97,83.95 A4.15,2.97 0 0 0 336.67,83.95" fill="none" stroke="#e7413c" stroke-width="0.75" stroke-opacity="0.41"/>
<path d="M364.72,82.52 A5.02,8.94 0 0 0 354.68,82.52" fill="none" stroke="#8c4b5f" stroke-width="0.75" stroke-opacity="0.55"/>
<path d="M354.68,90.13 A5.02,8.94 0 0 0 364.72,90.13" fill="none" stroke="#3528aa" stroke-width="0.75" stroke-opacity="0.41"/>
<path d="M364.54,82.76 A4.84,5.94 0 0 0 354.86,82.76" fill="none" stroke="#a54052" stroke-width="0.75" stroke-opacity="0.55"/>
<path d="M354.86,89.89 A4.84,5.94 0 0 0 364.54,89.89" fill="none" stroke="#3528aa" stroke-width="0.75" stroke-opacity="0.41"/>
<path d="M364.37,83.00 A4.67,4.90 0 0 0 355.03,83.00" fill="none" stroke="#c73141" stroke-width="0.75" stroke-opacity="0.55"/>
<path d="M355.03,89.65 A4.67,4.90 0 0 0 364.37,89.65" fill="none" stroke="#3528aa" stroke-width="0.75" stroke-opacity="0.41"/>
<path d="M364.22,83.23 A4.52,4.04 0 0 0 355.18,83.23" fill="none" stroke="#e7413c" stroke-width="0.75" stroke-opacity="0.41"/>
<path d="M355.18,89.42 A4.52,4.04 0 0 0 364.22,89.42" fill="none" stroke="#3528aa" stroke-width="0.75" stroke-opacity="0.31"/>
<path d="M364.08,83.47 A4.38,3.57 0 0 0 355.32,83.47" fill="none" stroke="#e7413c" stroke-width="0.75" stroke-opacity="0.41"/>
<path d="M355.32,89.18 A4.38,3.57 0 0 0 364.08,89.18" fill="none" stroke="#3528aa" stroke-width="0.75" stroke-opacity="0.31"/>
<path d="M363.96,83.71 A4.26,3.21 0 0 0 355.44,83.71" fill="none" stroke="#e7413c" stroke-width="0.75" stroke-opacity="0.41"/>
<path d="M363.85,83.95 A4.15,2.97 0 0 0 355.55,83.95" fill="none" stroke="#e7413c" stroke-width="0.75" stroke-opacity="0.41"/>
<path d="M383.60,82.52 A5.02,8.94 0 0 0 373.56,82.52" fill="none" stroke="#8c4b5f" stroke-width="0.75" stroke-opacity="0.55"/>
<path d="M373.56,90.13 A5.02,8.94 0 0 0 383.60,90.13" fill="none" stroke="#3528aa" stroke-width="0.75" stroke-opacity="0.41"/>
<path d="M383.42,82.76 A4.84,5.94 0 0 0 373.74,82.76" fill="none" stroke="#a54052" stroke-width="0.75" stroke-opacity="0.55"/>
<path d="M373.74,89.89 A4.84,5.94 0 0 0 383.42,89.89" fill="none" stroke="#3528aa" stroke-width="0.75" stroke-opacity="0.41"/>
<path d="M383.25,83.00 A4.67,4.90 0 0 0 373.91,83.00" fill="none" stroke="#c73141" stroke-width="0.75" stroke-opacity="0.55"/>
<path d="M373.91,89.65 A4.67,4.90 0 0 0 383.25,89.65" fill="none" stroke="#3528aa" stroke-width="0.75" stroke-opacity="0.41"/>
<path d="M383.10,83.23 A4.52,4.04 0 0 0 374.06,83.23" fill="none" stroke="#e7413c" stroke-width="0.75" stroke-opacity="0.41"/>
<path d="M374.06,89.42 A4.52,4.04 0 0 0 383.10,89.42" fill="none" stroke="#3528aa" stroke-width="0.75" stroke-opacity="0.31"/>
<path d="M382.96,83.47 A4.38,3.57 0 0 0 374.20,83.47" fill="none" stroke="#e7413c" stroke-width="0.75" stroke-opacity="0.41"/>
<path d="M374.20,89.18 A4.38,3.57 0 0 0 382.96,89.18" fill="none" stroke="#3528aa" stroke-width="0.75" stroke-opacity="0.31"/>
<path d="M382.84,83.71 A4.26,3.21 0 0 0 374.32,83.71" fill="none" stroke="#e7413c" stroke-width="0.75" stroke-opacity="0.41"/>
<path d="M382.73,83.95 A4.15,2.97 0 0 0 374.43,83.95" fill="none" stroke="#e7413c" stroke-width="0.75" stroke-opacity="0.41"/>
<circle cx="255.86" cy="86.32" r="5.90" fill="#fff" stroke="#c4c4c4" stroke-width="0.60"/>
<circle cx="274.74" cy="86.32" r="5.90" fill="#fff" stroke="#c4c4c4" stroke-width="0.60"/>
<circle cx="293.62" cy="86.32" r="5.90" fill="#fff" stroke="#c4c4c4" stroke-width="0.60"/>
<circle cx="312.50" cy="86.32" r="5.90" fill="#fff" stroke="#c4c4c4" stroke-width="0.60"/>
<circle cx="331.38" cy="86.32" r="5.90" fill="#fff" stroke="#c4c4c4" stroke-width="0.60"/>
<circle cx="350.26" cy="86.32" r="5.90" fill="#fff" stroke="#c4c4c4" stroke-width="0.60"/>
<circle cx="369.14" cy="86.32" r="5.90" fill="#fff" stroke="#c4c4c4" stroke-width="0.60"/>
<circle cx="388.02" cy="86.32" r="5.90" fill="#fff" stroke="#c4c4c4" stroke-width="0.60"/>
</g>
<path d="M255.86,80.38 L255.86,26.90 L388.02,26.90 L388.02,80.38" fill="none" stroke="#6e6e6e" stroke-width="1.00" stroke-opacity="1.00" stroke-linejoin="round"/>
<path d="M255.86,92.27 L255.86,145.75 L388.02,145.75 L388.02,92.27" fill="none" stroke="#6e6e6e" stroke-width="1.00" stroke-opacity="1.00" stroke-linejoin="round"/>
<clipPath id="clE"><rect x="248.75" y="188.13" width="162.29" height="127.30"/></clipPath>
<g clip-path="url(#clE)">
<linearGradient id="g5" gradientUnits="userSpaceOnUse" x1="0" y1="236.25" x2="0" y2="312.75"><stop offset="0.1200" stop-color="#ffffff"/><stop offset="0.2400" stop-color="#fbe9ea"/><stop offset="0.3200" stop-color="#f9ccca"/><stop offset="0.3700" stop-color="#f6afa7"/><stop offset="0.4050" stop-color="#f5a684"/><stop offset="0.4350" stop-color="#f5c06f"/><stop offset="0.4700" stop-color="#f2f062"/><stop offset="0.5000" stop-color="#b1f378"/><stop offset="0.5300" stop-color="#69eab6"/><stop offset="0.5700" stop-color="#62e0f0"/><stop offset="0.6100" stop-color="#73bef4"/><stop offset="0.6500" stop-color="#93aff6"/><stop offset="0.6900" stop-color="#b6bdf7"/><stop offset="0.7400" stop-color="#cdcef6"/><stop offset="0.8100" stop-color="#e4e3f9"/><stop offset="0.8900" stop-color="#f5f4fc"/><stop offset="0.9800" stop-color="#ffffff"/></linearGradient>
<path d="M253.78,262.26 A15.64,28.76 0 0 0 222.50,262.26 L222.50,286.74 A15.64,28.76 0 0 0 253.78,286.74Z" fill="url(#g5)"/>
<path d="M314.82,262.26 A15.64,28.76 0 0 0 283.54,262.26 L283.54,286.74 A15.64,28.76 0 0 0 314.82,286.74Z" fill="url(#g5)"/>
<path d="M375.86,262.26 A15.64,28.76 0 0 0 344.58,262.26 L344.58,286.74 A15.64,28.76 0 0 0 375.86,286.74Z" fill="url(#g5)"/>
<path d="M436.90,262.26 A15.64,28.76 0 0 0 405.62,262.26 L405.62,286.74 A15.64,28.76 0 0 0 436.90,286.74Z" fill="url(#g5)"/>
<path d="M497.94,262.26 A15.64,28.76 0 0 0 466.66,262.26 L466.66,286.74 A15.64,28.76 0 0 0 497.94,286.74Z" fill="url(#g5)"/>
<path d="M558.98,262.26 A15.64,28.76 0 0 0 527.70,262.26 L527.70,286.74 A15.64,28.76 0 0 0 558.98,286.74Z" fill="url(#g5)"/>
<path d="M620.02,262.26 A15.64,28.76 0 0 0 588.74,262.26 L588.74,286.74 A15.64,28.76 0 0 0 620.02,286.74Z" fill="url(#g5)"/>
<path d="M222.50,262.26 A14.88,28.30 0 0 0 192.74,262.26" fill="none" stroke="#8c4b5f" stroke-width="0.90" stroke-opacity="0.62"/>
<path d="M192.74,286.74 A14.88,28.30 0 0 0 222.50,286.74" fill="none" stroke="#3528aa" stroke-width="0.90" stroke-opacity="0.46"/>
<path d="M222.50,262.26 A14.88,17.60 0 0 0 192.74,262.26" fill="none" stroke="#994558" stroke-width="0.90" stroke-opacity="0.62"/>
<path d="M192.74,286.74 A14.88,17.60 0 0 0 222.50,286.74" fill="none" stroke="#3528aa" stroke-width="0.90" stroke-opacity="0.46"/>
<path d="M222.50,262.26 A14.88,12.24 0 0 0 192.74,262.26" fill="none" stroke="#a54052" stroke-width="0.90" stroke-opacity="0.62"/>
<path d="M192.74,286.74 A14.88,12.24 0 0 0 222.50,286.74" fill="none" stroke="#3528aa" stroke-width="0.90" stroke-opacity="0.46"/>
<path d="M222.50,262.26 A14.88,9.18 0 0 0 192.74,262.26" fill="none" stroke="#b23a4b" stroke-width="0.90" stroke-opacity="0.62"/>
<path d="M192.74,286.74 A14.88,9.18 0 0 0 222.50,286.74" fill="none" stroke="#3528aa" stroke-width="0.90" stroke-opacity="0.46"/>
<path d="M283.54,262.26 A14.88,28.30 0 0 0 253.78,262.26" fill="none" stroke="#8c4b5f" stroke-width="0.90" stroke-opacity="0.62"/>
<path d="M253.78,286.74 A14.88,28.30 0 0 0 283.54,286.74" fill="none" stroke="#3528aa" stroke-width="0.90" stroke-opacity="0.46"/>
<path d="M283.54,262.26 A14.88,17.60 0 0 0 253.78,262.26" fill="none" stroke="#994558" stroke-width="0.90" stroke-opacity="0.62"/>
<path d="M253.78,286.74 A14.88,17.60 0 0 0 283.54,286.74" fill="none" stroke="#3528aa" stroke-width="0.90" stroke-opacity="0.46"/>
<path d="M283.54,262.26 A14.88,12.24 0 0 0 253.78,262.26" fill="none" stroke="#a54052" stroke-width="0.90" stroke-opacity="0.62"/>
<path d="M253.78,286.74 A14.88,12.24 0 0 0 283.54,286.74" fill="none" stroke="#3528aa" stroke-width="0.90" stroke-opacity="0.46"/>
<path d="M283.54,262.26 A14.88,9.18 0 0 0 253.78,262.26" fill="none" stroke="#b23a4b" stroke-width="0.90" stroke-opacity="0.62"/>
<path d="M253.78,286.74 A14.88,9.18 0 0 0 283.54,286.74" fill="none" stroke="#3528aa" stroke-width="0.90" stroke-opacity="0.46"/>
<path d="M344.58,262.26 A14.88,28.30 0 0 0 314.82,262.26" fill="none" stroke="#8c4b5f" stroke-width="0.90" stroke-opacity="0.62"/>
<path d="M314.82,286.74 A14.88,28.30 0 0 0 344.58,286.74" fill="none" stroke="#3528aa" stroke-width="0.90" stroke-opacity="0.46"/>
<path d="M344.58,262.26 A14.88,17.60 0 0 0 314.82,262.26" fill="none" stroke="#994558" stroke-width="0.90" stroke-opacity="0.62"/>
<path d="M314.82,286.74 A14.88,17.60 0 0 0 344.58,286.74" fill="none" stroke="#3528aa" stroke-width="0.90" stroke-opacity="0.46"/>
<path d="M344.58,262.26 A14.88,12.24 0 0 0 314.82,262.26" fill="none" stroke="#a54052" stroke-width="0.90" stroke-opacity="0.62"/>
<path d="M314.82,286.74 A14.88,12.24 0 0 0 344.58,286.74" fill="none" stroke="#3528aa" stroke-width="0.90" stroke-opacity="0.46"/>
<path d="M344.58,262.26 A14.88,9.18 0 0 0 314.82,262.26" fill="none" stroke="#b23a4b" stroke-width="0.90" stroke-opacity="0.62"/>
<path d="M314.82,286.74 A14.88,9.18 0 0 0 344.58,286.74" fill="none" stroke="#3528aa" stroke-width="0.90" stroke-opacity="0.46"/>
<path d="M405.62,262.26 A14.88,28.30 0 0 0 375.86,262.26" fill="none" stroke="#8c4b5f" stroke-width="0.90" stroke-opacity="0.62"/>
<path d="M375.86,286.74 A14.88,28.30 0 0 0 405.62,286.74" fill="none" stroke="#3528aa" stroke-width="0.90" stroke-opacity="0.46"/>
<path d="M405.62,262.26 A14.88,17.60 0 0 0 375.86,262.26" fill="none" stroke="#994558" stroke-width="0.90" stroke-opacity="0.62"/>
<path d="M375.86,286.74 A14.88,17.60 0 0 0 405.62,286.74" fill="none" stroke="#3528aa" stroke-width="0.90" stroke-opacity="0.46"/>
<path d="M405.62,262.26 A14.88,12.24 0 0 0 375.86,262.26" fill="none" stroke="#a54052" stroke-width="0.90" stroke-opacity="0.62"/>
<path d="M375.86,286.74 A14.88,12.24 0 0 0 405.62,286.74" fill="none" stroke="#3528aa" stroke-width="0.90" stroke-opacity="0.46"/>
<path d="M405.62,262.26 A14.88,9.18 0 0 0 375.86,262.26" fill="none" stroke="#b23a4b" stroke-width="0.90" stroke-opacity="0.62"/>
<path d="M375.86,286.74 A14.88,9.18 0 0 0 405.62,286.74" fill="none" stroke="#3528aa" stroke-width="0.90" stroke-opacity="0.46"/>
<path d="M466.66,262.26 A14.88,28.30 0 0 0 436.90,262.26" fill="none" stroke="#8c4b5f" stroke-width="0.90" stroke-opacity="0.62"/>
<path d="M436.90,286.74 A14.88,28.30 0 0 0 466.66,286.74" fill="none" stroke="#3528aa" stroke-width="0.90" stroke-opacity="0.46"/>
<path d="M466.66,262.26 A14.88,17.60 0 0 0 436.90,262.26" fill="none" stroke="#994558" stroke-width="0.90" stroke-opacity="0.62"/>
<path d="M436.90,286.74 A14.88,17.60 0 0 0 466.66,286.74" fill="none" stroke="#3528aa" stroke-width="0.90" stroke-opacity="0.46"/>
<path d="M466.66,262.26 A14.88,12.24 0 0 0 436.90,262.26" fill="none" stroke="#a54052" stroke-width="0.90" stroke-opacity="0.62"/>
<path d="M436.90,286.74 A14.88,12.24 0 0 0 466.66,286.74" fill="none" stroke="#3528aa" stroke-width="0.90" stroke-opacity="0.46"/>
<path d="M466.66,262.26 A14.88,9.18 0 0 0 436.90,262.26" fill="none" stroke="#b23a4b" stroke-width="0.90" stroke-opacity="0.62"/>
<path d="M436.90,286.74 A14.88,9.18 0 0 0 466.66,286.74" fill="none" stroke="#3528aa" stroke-width="0.90" stroke-opacity="0.46"/>
<path d="M527.70,262.26 A14.88,28.30 0 0 0 497.94,262.26" fill="none" stroke="#8c4b5f" stroke-width="0.90" stroke-opacity="0.62"/>
<path d="M497.94,286.74 A14.88,28.30 0 0 0 527.70,286.74" fill="none" stroke="#3528aa" stroke-width="0.90" stroke-opacity="0.46"/>
<path d="M527.70,262.26 A14.88,17.60 0 0 0 497.94,262.26" fill="none" stroke="#994558" stroke-width="0.90" stroke-opacity="0.62"/>
<path d="M497.94,286.74 A14.88,17.60 0 0 0 527.70,286.74" fill="none" stroke="#3528aa" stroke-width="0.90" stroke-opacity="0.46"/>
<path d="M527.70,262.26 A14.88,12.24 0 0 0 497.94,262.26" fill="none" stroke="#a54052" stroke-width="0.90" stroke-opacity="0.62"/>
<path d="M497.94,286.74 A14.88,12.24 0 0 0 527.70,286.74" fill="none" stroke="#3528aa" stroke-width="0.90" stroke-opacity="0.46"/>
<path d="M527.70,262.26 A14.88,9.18 0 0 0 497.94,262.26" fill="none" stroke="#b23a4b" stroke-width="0.90" stroke-opacity="0.62"/>
<path d="M497.94,286.74 A14.88,9.18 0 0 0 527.70,286.74" fill="none" stroke="#3528aa" stroke-width="0.90" stroke-opacity="0.46"/>
<path d="M588.74,262.26 A14.88,28.30 0 0 0 558.98,262.26" fill="none" stroke="#8c4b5f" stroke-width="0.90" stroke-opacity="0.62"/>
<path d="M558.98,286.74 A14.88,28.30 0 0 0 588.74,286.74" fill="none" stroke="#3528aa" stroke-width="0.90" stroke-opacity="0.46"/>
<path d="M588.74,262.26 A14.88,17.60 0 0 0 558.98,262.26" fill="none" stroke="#994558" stroke-width="0.90" stroke-opacity="0.62"/>
<path d="M558.98,286.74 A14.88,17.60 0 0 0 588.74,286.74" fill="none" stroke="#3528aa" stroke-width="0.90" stroke-opacity="0.46"/>
<path d="M588.74,262.26 A14.88,12.24 0 0 0 558.98,262.26" fill="none" stroke="#a54052" stroke-width="0.90" stroke-opacity="0.62"/>
<path d="M558.98,286.74 A14.88,12.24 0 0 0 588.74,286.74" fill="none" stroke="#3528aa" stroke-width="0.90" stroke-opacity="0.46"/>
<path d="M588.74,262.26 A14.88,9.18 0 0 0 558.98,262.26" fill="none" stroke="#b23a4b" stroke-width="0.90" stroke-opacity="0.62"/>
<path d="M558.98,286.74 A14.88,9.18 0 0 0 588.74,286.74" fill="none" stroke="#3528aa" stroke-width="0.90" stroke-opacity="0.46"/>
<path d="M649.78,262.26 A14.88,28.30 0 0 0 620.02,262.26" fill="none" stroke="#8c4b5f" stroke-width="0.90" stroke-opacity="0.62"/>
<path d="M620.02,286.74 A14.88,28.30 0 0 0 649.78,286.74" fill="none" stroke="#3528aa" stroke-width="0.90" stroke-opacity="0.46"/>
<path d="M649.78,262.26 A14.88,17.60 0 0 0 620.02,262.26" fill="none" stroke="#994558" stroke-width="0.90" stroke-opacity="0.62"/>
<path d="M620.02,286.74 A14.88,17.60 0 0 0 649.78,286.74" fill="none" stroke="#3528aa" stroke-width="0.90" stroke-opacity="0.46"/>
<path d="M649.78,262.26 A14.88,12.24 0 0 0 620.02,262.26" fill="none" stroke="#a54052" stroke-width="0.90" stroke-opacity="0.62"/>
<path d="M620.02,286.74 A14.88,12.24 0 0 0 649.78,286.74" fill="none" stroke="#3528aa" stroke-width="0.90" stroke-opacity="0.46"/>
<path d="M649.78,262.26 A14.88,9.18 0 0 0 620.02,262.26" fill="none" stroke="#b23a4b" stroke-width="0.90" stroke-opacity="0.62"/>
<path d="M620.02,286.74 A14.88,9.18 0 0 0 649.78,286.74" fill="none" stroke="#3528aa" stroke-width="0.90" stroke-opacity="0.46"/>
<path d="M254.38,262.26 A16.24,28.76 0 0 0 221.90,262.26" fill="none" stroke="#8c4b5f" stroke-width="0.90" stroke-opacity="0.62"/>
<path d="M221.90,286.74 A16.24,28.76 0 0 0 254.38,286.74" fill="none" stroke="#3528aa" stroke-width="0.90" stroke-opacity="0.46"/>
<path d="M253.78,263.03 A15.64,19.13 0 0 0 222.50,263.03" fill="none" stroke="#a54052" stroke-width="0.90" stroke-opacity="0.62"/>
<path d="M222.50,285.98 A15.64,19.13 0 0 0 253.78,285.98" fill="none" stroke="#3528aa" stroke-width="0.90" stroke-opacity="0.46"/>
<path d="M253.24,263.79 A15.10,15.76 0 0 0 223.04,263.79" fill="none" stroke="#c73141" stroke-width="0.90" stroke-opacity="0.62"/>
<path d="M223.04,285.21 A15.10,15.76 0 0 0 253.24,285.21" fill="none" stroke="#3528aa" stroke-width="0.90" stroke-opacity="0.46"/>
<path d="M252.75,264.56 A14.61,13.01 0 0 0 223.53,264.56" fill="none" stroke="#e7413c" stroke-width="0.90" stroke-opacity="0.46"/>
<path d="M223.53,284.45 A14.61,13.01 0 0 0 252.75,284.45" fill="none" stroke="#3528aa" stroke-width="0.90" stroke-opacity="0.35"/>
<path d="M252.31,265.32 A14.17,11.48 0 0 0 223.97,265.32" fill="none" stroke="#e7413c" stroke-width="0.90" stroke-opacity="0.46"/>
<path d="M223.97,283.68 A14.17,11.48 0 0 0 252.31,283.68" fill="none" stroke="#3528aa" stroke-width="0.90" stroke-opacity="0.35"/>
<path d="M251.91,266.09 A13.77,10.33 0 0 0 224.37,266.09" fill="none" stroke="#e7413c" stroke-width="0.90" stroke-opacity="0.46"/>
<path d="M251.56,266.85 A13.42,9.56 0 0 0 224.72,266.85" fill="none" stroke="#e7413c" stroke-width="0.90" stroke-opacity="0.46"/>
<path d="M251.25,267.62 A13.11,8.80 0 0 0 225.03,267.62" fill="none" stroke="#e7413c" stroke-width="0.90" stroke-opacity="0.46"/>
<path d="M250.97,268.38 A12.83,8.42 0 0 0 225.31,268.38" fill="none" stroke="#e7413c" stroke-width="0.90" stroke-opacity="0.46"/>
<path d="M315.42,262.26 A16.24,28.76 0 0 0 282.94,262.26" fill="none" stroke="#8c4b5f" stroke-width="0.90" stroke-opacity="0.62"/>
<path d="M282.94,286.74 A16.24,28.76 0 0 0 315.42,286.74" fill="none" stroke="#3528aa" stroke-width="0.90" stroke-opacity="0.46"/>
<path d="M314.82,263.03 A15.64,19.13 0 0 0 283.54,263.03" fill="none" stroke="#a54052" stroke-width="0.90" stroke-opacity="0.62"/>
<path d="M283.54,285.98 A15.64,19.13 0 0 0 314.82,285.98" fill="none" stroke="#3528aa" stroke-width="0.90" stroke-opacity="0.46"/>
<path d="M314.28,263.79 A15.10,15.76 0 0 0 284.08,263.79" fill="none" stroke="#c73141" stroke-width="0.90" stroke-opacity="0.62"/>
<path d="M284.08,285.21 A15.10,15.76 0 0 0 314.28,285.21" fill="none" stroke="#3528aa" stroke-width="0.90" stroke-opacity="0.46"/>
<path d="M313.79,264.56 A14.61,13.01 0 0 0 284.57,264.56" fill="none" stroke="#e7413c" stroke-width="0.90" stroke-opacity="0.46"/>
<path d="M284.57,284.45 A14.61,13.01 0 0 0 313.79,284.45" fill="none" stroke="#3528aa" stroke-width="0.90" stroke-opacity="0.35"/>
<path d="M313.35,265.32 A14.17,11.48 0 0 0 285.01,265.32" fill="none" stroke="#e7413c" stroke-width="0.90" stroke-opacity="0.46"/>
<path d="M285.01,283.68 A14.17,11.48 0 0 0 313.35,283.68" fill="none" stroke="#3528aa" stroke-width="0.90" stroke-opacity="0.35"/>
<path d="M312.95,266.09 A13.77,10.33 0 0 0 285.41,266.09" fill="none" stroke="#e7413c" stroke-width="0.90" stroke-opacity="0.46"/>
<path d="M312.60,266.85 A13.42,9.56 0 0 0 285.76,266.85" fill="none" stroke="#e7413c" stroke-width="0.90" stroke-opacity="0.46"/>
<path d="M312.29,267.62 A13.11,8.80 0 0 0 286.07,267.62" fill="none" stroke="#e7413c" stroke-width="0.90" stroke-opacity="0.46"/>
<path d="M312.01,268.38 A12.83,8.42 0 0 0 286.35,268.38" fill="none" stroke="#e7413c" stroke-width="0.90" stroke-opacity="0.46"/>
<path d="M376.46,262.26 A16.24,28.76 0 0 0 343.98,262.26" fill="none" stroke="#8c4b5f" stroke-width="0.90" stroke-opacity="0.62"/>
<path d="M343.98,286.74 A16.24,28.76 0 0 0 376.46,286.74" fill="none" stroke="#3528aa" stroke-width="0.90" stroke-opacity="0.46"/>
<path d="M375.86,263.03 A15.64,19.13 0 0 0 344.58,263.03" fill="none" stroke="#a54052" stroke-width="0.90" stroke-opacity="0.62"/>
<path d="M344.58,285.98 A15.64,19.13 0 0 0 375.86,285.98" fill="none" stroke="#3528aa" stroke-width="0.90" stroke-opacity="0.46"/>
<path d="M375.32,263.79 A15.10,15.76 0 0 0 345.12,263.79" fill="none" stroke="#c73141" stroke-width="0.90" stroke-opacity="0.62"/>
<path d="M345.12,285.21 A15.10,15.76 0 0 0 375.32,285.21" fill="none" stroke="#3528aa" stroke-width="0.90" stroke-opacity="0.46"/>
<path d="M374.83,264.56 A14.61,13.01 0 0 0 345.61,264.56" fill="none" stroke="#e7413c" stroke-width="0.90" stroke-opacity="0.46"/>
<path d="M345.61,284.45 A14.61,13.01 0 0 0 374.83,284.45" fill="none" stroke="#3528aa" stroke-width="0.90" stroke-opacity="0.35"/>
<path d="M374.39,265.32 A14.17,11.48 0 0 0 346.05,265.32" fill="none" stroke="#e7413c" stroke-width="0.90" stroke-opacity="0.46"/>
<path d="M346.05,283.68 A14.17,11.48 0 0 0 374.39,283.68" fill="none" stroke="#3528aa" stroke-width="0.90" stroke-opacity="0.35"/>
<path d="M373.99,266.09 A13.77,10.33 0 0 0 346.45,266.09" fill="none" stroke="#e7413c" stroke-width="0.90" stroke-opacity="0.46"/>
<path d="M373.64,266.85 A13.42,9.56 0 0 0 346.80,266.85" fill="none" stroke="#e7413c" stroke-width="0.90" stroke-opacity="0.46"/>
<path d="M373.33,267.62 A13.11,8.80 0 0 0 347.11,267.62" fill="none" stroke="#e7413c" stroke-width="0.90" stroke-opacity="0.46"/>
<path d="M373.05,268.38 A12.83,8.42 0 0 0 347.39,268.38" fill="none" stroke="#e7413c" stroke-width="0.90" stroke-opacity="0.46"/>
<path d="M437.50,262.26 A16.24,28.76 0 0 0 405.02,262.26" fill="none" stroke="#8c4b5f" stroke-width="0.90" stroke-opacity="0.62"/>
<path d="M405.02,286.74 A16.24,28.76 0 0 0 437.50,286.74" fill="none" stroke="#3528aa" stroke-width="0.90" stroke-opacity="0.46"/>
<path d="M436.90,263.03 A15.64,19.13 0 0 0 405.62,263.03" fill="none" stroke="#a54052" stroke-width="0.90" stroke-opacity="0.62"/>
<path d="M405.62,285.98 A15.64,19.13 0 0 0 436.90,285.98" fill="none" stroke="#3528aa" stroke-width="0.90" stroke-opacity="0.46"/>
<path d="M436.36,263.79 A15.10,15.76 0 0 0 406.16,263.79" fill="none" stroke="#c73141" stroke-width="0.90" stroke-opacity="0.62"/>
<path d="M406.16,285.21 A15.10,15.76 0 0 0 436.36,285.21" fill="none" stroke="#3528aa" stroke-width="0.90" stroke-opacity="0.46"/>
<path d="M435.87,264.56 A14.61,13.01 0 0 0 406.65,264.56" fill="none" stroke="#e7413c" stroke-width="0.90" stroke-opacity="0.46"/>
<path d="M406.65,284.45 A14.61,13.01 0 0 0 435.87,284.45" fill="none" stroke="#3528aa" stroke-width="0.90" stroke-opacity="0.35"/>
<path d="M435.43,265.32 A14.17,11.48 0 0 0 407.09,265.32" fill="none" stroke="#e7413c" stroke-width="0.90" stroke-opacity="0.46"/>
<path d="M407.09,283.68 A14.17,11.48 0 0 0 435.43,283.68" fill="none" stroke="#3528aa" stroke-width="0.90" stroke-opacity="0.35"/>
<path d="M435.03,266.09 A13.77,10.33 0 0 0 407.49,266.09" fill="none" stroke="#e7413c" stroke-width="0.90" stroke-opacity="0.46"/>
<path d="M434.68,266.85 A13.42,9.56 0 0 0 407.84,266.85" fill="none" stroke="#e7413c" stroke-width="0.90" stroke-opacity="0.46"/>
<path d="M434.37,267.62 A13.11,8.80 0 0 0 408.15,267.62" fill="none" stroke="#e7413c" stroke-width="0.90" stroke-opacity="0.46"/>
<path d="M434.09,268.38 A12.83,8.42 0 0 0 408.43,268.38" fill="none" stroke="#e7413c" stroke-width="0.90" stroke-opacity="0.46"/>
<path d="M498.54,262.26 A16.24,28.76 0 0 0 466.06,262.26" fill="none" stroke="#8c4b5f" stroke-width="0.90" stroke-opacity="0.62"/>
<path d="M466.06,286.74 A16.24,28.76 0 0 0 498.54,286.74" fill="none" stroke="#3528aa" stroke-width="0.90" stroke-opacity="0.46"/>
<path d="M497.94,263.03 A15.64,19.13 0 0 0 466.66,263.03" fill="none" stroke="#a54052" stroke-width="0.90" stroke-opacity="0.62"/>
<path d="M466.66,285.98 A15.64,19.13 0 0 0 497.94,285.98" fill="none" stroke="#3528aa" stroke-width="0.90" stroke-opacity="0.46"/>
<path d="M497.40,263.79 A15.10,15.76 0 0 0 467.20,263.79" fill="none" stroke="#c73141" stroke-width="0.90" stroke-opacity="0.62"/>
<path d="M467.20,285.21 A15.10,15.76 0 0 0 497.40,285.21" fill="none" stroke="#3528aa" stroke-width="0.90" stroke-opacity="0.46"/>
<path d="M496.91,264.56 A14.61,13.01 0 0 0 467.69,264.56" fill="none" stroke="#e7413c" stroke-width="0.90" stroke-opacity="0.46"/>
<path d="M467.69,284.45 A14.61,13.01 0 0 0 496.91,284.45" fill="none" stroke="#3528aa" stroke-width="0.90" stroke-opacity="0.35"/>
<path d="M496.47,265.32 A14.17,11.48 0 0 0 468.13,265.32" fill="none" stroke="#e7413c" stroke-width="0.90" stroke-opacity="0.46"/>
<path d="M468.13,283.68 A14.17,11.48 0 0 0 496.47,283.68" fill="none" stroke="#3528aa" stroke-width="0.90" stroke-opacity="0.35"/>
<path d="M496.07,266.09 A13.77,10.33 0 0 0 468.53,266.09" fill="none" stroke="#e7413c" stroke-width="0.90" stroke-opacity="0.46"/>
<path d="M495.72,266.85 A13.42,9.56 0 0 0 468.88,266.85" fill="none" stroke="#e7413c" stroke-width="0.90" stroke-opacity="0.46"/>
<path d="M495.41,267.62 A13.11,8.80 0 0 0 469.19,267.62" fill="none" stroke="#e7413c" stroke-width="0.90" stroke-opacity="0.46"/>
<path d="M495.13,268.38 A12.83,8.42 0 0 0 469.47,268.38" fill="none" stroke="#e7413c" stroke-width="0.90" stroke-opacity="0.46"/>
<path d="M559.58,262.26 A16.24,28.76 0 0 0 527.10,262.26" fill="none" stroke="#8c4b5f" stroke-width="0.90" stroke-opacity="0.62"/>
<path d="M527.10,286.74 A16.24,28.76 0 0 0 559.58,286.74" fill="none" stroke="#3528aa" stroke-width="0.90" stroke-opacity="0.46"/>
<path d="M558.98,263.03 A15.64,19.13 0 0 0 527.70,263.03" fill="none" stroke="#a54052" stroke-width="0.90" stroke-opacity="0.62"/>
<path d="M527.70,285.98 A15.64,19.13 0 0 0 558.98,285.98" fill="none" stroke="#3528aa" stroke-width="0.90" stroke-opacity="0.46"/>
<path d="M558.44,263.79 A15.10,15.76 0 0 0 528.24,263.79" fill="none" stroke="#c73141" stroke-width="0.90" stroke-opacity="0.62"/>
<path d="M528.24,285.21 A15.10,15.76 0 0 0 558.44,285.21" fill="none" stroke="#3528aa" stroke-width="0.90" stroke-opacity="0.46"/>
<path d="M557.95,264.56 A14.61,13.01 0 0 0 528.73,264.56" fill="none" stroke="#e7413c" stroke-width="0.90" stroke-opacity="0.46"/>
<path d="M528.73,284.45 A14.61,13.01 0 0 0 557.95,284.45" fill="none" stroke="#3528aa" stroke-width="0.90" stroke-opacity="0.35"/>
<path d="M557.51,265.32 A14.17,11.48 0 0 0 529.17,265.32" fill="none" stroke="#e7413c" stroke-width="0.90" stroke-opacity="0.46"/>
<path d="M529.17,283.68 A14.17,11.48 0 0 0 557.51,283.68" fill="none" stroke="#3528aa" stroke-width="0.90" stroke-opacity="0.35"/>
<path d="M557.11,266.09 A13.77,10.33 0 0 0 529.57,266.09" fill="none" stroke="#e7413c" stroke-width="0.90" stroke-opacity="0.46"/>
<path d="M556.76,266.85 A13.42,9.56 0 0 0 529.92,266.85" fill="none" stroke="#e7413c" stroke-width="0.90" stroke-opacity="0.46"/>
<path d="M556.45,267.62 A13.11,8.80 0 0 0 530.23,267.62" fill="none" stroke="#e7413c" stroke-width="0.90" stroke-opacity="0.46"/>
<path d="M556.17,268.38 A12.83,8.42 0 0 0 530.51,268.38" fill="none" stroke="#e7413c" stroke-width="0.90" stroke-opacity="0.46"/>
<path d="M620.62,262.26 A16.24,28.76 0 0 0 588.14,262.26" fill="none" stroke="#8c4b5f" stroke-width="0.90" stroke-opacity="0.62"/>
<path d="M588.14,286.74 A16.24,28.76 0 0 0 620.62,286.74" fill="none" stroke="#3528aa" stroke-width="0.90" stroke-opacity="0.46"/>
<path d="M620.02,263.03 A15.64,19.13 0 0 0 588.74,263.03" fill="none" stroke="#a54052" stroke-width="0.90" stroke-opacity="0.62"/>
<path d="M588.74,285.98 A15.64,19.13 0 0 0 620.02,285.98" fill="none" stroke="#3528aa" stroke-width="0.90" stroke-opacity="0.46"/>
<path d="M619.48,263.79 A15.10,15.76 0 0 0 589.28,263.79" fill="none" stroke="#c73141" stroke-width="0.90" stroke-opacity="0.62"/>
<path d="M589.28,285.21 A15.10,15.76 0 0 0 619.48,285.21" fill="none" stroke="#3528aa" stroke-width="0.90" stroke-opacity="0.46"/>
<path d="M618.99,264.56 A14.61,13.01 0 0 0 589.77,264.56" fill="none" stroke="#e7413c" stroke-width="0.90" stroke-opacity="0.46"/>
<path d="M589.77,284.45 A14.61,13.01 0 0 0 618.99,284.45" fill="none" stroke="#3528aa" stroke-width="0.90" stroke-opacity="0.35"/>
<path d="M618.55,265.32 A14.17,11.48 0 0 0 590.21,265.32" fill="none" stroke="#e7413c" stroke-width="0.90" stroke-opacity="0.46"/>
<path d="M590.21,283.68 A14.17,11.48 0 0 0 618.55,283.68" fill="none" stroke="#3528aa" stroke-width="0.90" stroke-opacity="0.35"/>
<path d="M618.15,266.09 A13.77,10.33 0 0 0 590.61,266.09" fill="none" stroke="#e7413c" stroke-width="0.90" stroke-opacity="0.46"/>
<path d="M617.80,266.85 A13.42,9.56 0 0 0 590.96,266.85" fill="none" stroke="#e7413c" stroke-width="0.90" stroke-opacity="0.46"/>
<path d="M617.49,267.62 A13.11,8.80 0 0 0 591.27,267.62" fill="none" stroke="#e7413c" stroke-width="0.90" stroke-opacity="0.46"/>
<path d="M617.21,268.38 A12.83,8.42 0 0 0 591.55,268.38" fill="none" stroke="#e7413c" stroke-width="0.90" stroke-opacity="0.46"/>
<path d="M221.19,261.88 A16.95,3.55 0 0 0 255.09,261.88" fill="none" stroke="#f8c2c0" stroke-width="1.20"/>
<path d="M282.23,261.88 A16.95,3.55 0 0 0 316.13,261.88" fill="none" stroke="#f8c2c0" stroke-width="1.20"/>
<path d="M343.27,261.88 A16.95,3.55 0 0 0 377.17,261.88" fill="none" stroke="#f8c2c0" stroke-width="1.20"/>
<path d="M404.31,261.88 A16.95,3.55 0 0 0 438.21,261.88" fill="none" stroke="#f8c2c0" stroke-width="1.20"/>
<path d="M465.35,261.88 A16.95,3.55 0 0 0 499.25,261.88" fill="none" stroke="#f8c2c0" stroke-width="1.20"/>
<path d="M526.39,261.88 A16.95,3.55 0 0 0 560.29,261.88" fill="none" stroke="#f8c2c0" stroke-width="1.20"/>
<path d="M587.43,261.88 A16.95,3.55 0 0 0 621.33,261.88" fill="none" stroke="#f8c2c0" stroke-width="1.20"/>
<path d="M221.94,262.80 A16.20,3.29 0 0 0 254.34,262.80" fill="none" stroke="#f7bab7" stroke-width="1.20"/>
<path d="M282.98,262.80 A16.20,3.29 0 0 0 315.38,262.80" fill="none" stroke="#f7bab7" stroke-width="1.20"/>
<path d="M344.02,262.80 A16.20,3.29 0 0 0 376.42,262.80" fill="none" stroke="#f7bab7" stroke-width="1.20"/>
<path d="M405.06,262.80 A16.20,3.29 0 0 0 437.46,262.80" fill="none" stroke="#f7bab7" stroke-width="1.20"/>
<path d="M466.10,262.80 A16.20,3.29 0 0 0 498.50,262.80" fill="none" stroke="#f7bab7" stroke-width="1.20"/>
<path d="M527.14,262.80 A16.20,3.29 0 0 0 559.54,262.80" fill="none" stroke="#f7bab7" stroke-width="1.20"/>
<path d="M588.18,262.80 A16.20,3.29 0 0 0 620.58,262.80" fill="none" stroke="#f7bab7" stroke-width="1.20"/>
<path d="M222.61,263.71 A15.53,3.03 0 0 0 253.67,263.71" fill="none" stroke="#f7b3af" stroke-width="1.20"/>
<path d="M283.65,263.71 A15.53,3.03 0 0 0 314.71,263.71" fill="none" stroke="#f7b3af" stroke-width="1.20"/>
<path d="M344.69,263.71 A15.53,3.03 0 0 0 375.75,263.71" fill="none" stroke="#f7b3af" stroke-width="1.20"/>
<path d="M405.73,263.71 A15.53,3.03 0 0 0 436.79,263.71" fill="none" stroke="#f7b3af" stroke-width="1.20"/>
<path d="M466.77,263.71 A15.53,3.03 0 0 0 497.83,263.71" fill="none" stroke="#f7b3af" stroke-width="1.20"/>
<path d="M527.81,263.71 A15.53,3.03 0 0 0 558.87,263.71" fill="none" stroke="#f7b3af" stroke-width="1.20"/>
<path d="M588.85,263.71 A15.53,3.03 0 0 0 619.91,263.71" fill="none" stroke="#f7b3af" stroke-width="1.20"/>
<path d="M223.20,264.63 A14.94,2.78 0 0 0 253.08,264.63" fill="none" stroke="#f6aea6" stroke-width="1.20"/>
<path d="M284.24,264.63 A14.94,2.78 0 0 0 314.12,264.63" fill="none" stroke="#f6aea6" stroke-width="1.20"/>
<path d="M345.28,264.63 A14.94,2.78 0 0 0 375.16,264.63" fill="none" stroke="#f6aea6" stroke-width="1.20"/>
<path d="M406.32,264.63 A14.94,2.78 0 0 0 436.20,264.63" fill="none" stroke="#f6aea6" stroke-width="1.20"/>
<path d="M467.36,264.63 A14.94,2.78 0 0 0 497.24,264.63" fill="none" stroke="#f6aea6" stroke-width="1.20"/>
<path d="M528.40,264.63 A14.94,2.78 0 0 0 558.28,264.63" fill="none" stroke="#f6aea6" stroke-width="1.20"/>
<path d="M589.44,264.63 A14.94,2.78 0 0 0 619.32,264.63" fill="none" stroke="#f6aea6" stroke-width="1.20"/>
<path d="M223.71,265.55 A14.43,2.52 0 0 0 252.57,265.55" fill="none" stroke="#f6aa9a" stroke-width="1.20"/>
<path d="M284.75,265.55 A14.43,2.52 0 0 0 313.61,265.55" fill="none" stroke="#f6aa9a" stroke-width="1.20"/>
<path d="M345.79,265.55 A14.43,2.52 0 0 0 374.65,265.55" fill="none" stroke="#f6aa9a" stroke-width="1.20"/>
<path d="M406.83,265.55 A14.43,2.52 0 0 0 435.69,265.55" fill="none" stroke="#f6aa9a" stroke-width="1.20"/>
<path d="M467.87,265.55 A14.43,2.52 0 0 0 496.73,265.55" fill="none" stroke="#f6aa9a" stroke-width="1.20"/>
<path d="M528.91,265.55 A14.43,2.52 0 0 0 557.77,265.55" fill="none" stroke="#f6aa9a" stroke-width="1.20"/>
<path d="M589.95,265.55 A14.43,2.52 0 0 0 618.81,265.55" fill="none" stroke="#f6aa9a" stroke-width="1.20"/>
<path d="M224.17,266.47 A13.97,2.26 0 0 0 252.11,266.47" fill="none" stroke="#f5a78e" stroke-width="1.20"/>
<path d="M285.21,266.47 A13.97,2.26 0 0 0 313.15,266.47" fill="none" stroke="#f5a78e" stroke-width="1.20"/>
<path d="M346.25,266.47 A13.97,2.26 0 0 0 374.19,266.47" fill="none" stroke="#f5a78e" stroke-width="1.20"/>
<path d="M407.29,266.47 A13.97,2.26 0 0 0 435.23,266.47" fill="none" stroke="#f5a78e" stroke-width="1.20"/>
<path d="M468.33,266.47 A13.97,2.26 0 0 0 496.27,266.47" fill="none" stroke="#f5a78e" stroke-width="1.20"/>
<path d="M529.37,266.47 A13.97,2.26 0 0 0 557.31,266.47" fill="none" stroke="#f5a78e" stroke-width="1.20"/>
<path d="M590.41,266.47 A13.97,2.26 0 0 0 618.35,266.47" fill="none" stroke="#f5a78e" stroke-width="1.20"/>
<path d="M224.56,267.39 A13.58,2.00 0 0 0 251.72,267.39" fill="none" stroke="#f5a783" stroke-width="1.20"/>
<path d="M285.60,267.39 A13.58,2.00 0 0 0 312.76,267.39" fill="none" stroke="#f5a783" stroke-width="1.20"/>
<path d="M346.64,267.39 A13.58,2.00 0 0 0 373.80,267.39" fill="none" stroke="#f5a783" stroke-width="1.20"/>
<path d="M407.68,267.39 A13.58,2.00 0 0 0 434.84,267.39" fill="none" stroke="#f5a783" stroke-width="1.20"/>
<path d="M468.72,267.39 A13.58,2.00 0 0 0 495.88,267.39" fill="none" stroke="#f5a783" stroke-width="1.20"/>
<path d="M529.76,267.39 A13.58,2.00 0 0 0 556.92,267.39" fill="none" stroke="#f5a783" stroke-width="1.20"/>
<path d="M590.80,267.39 A13.58,2.00 0 0 0 617.96,267.39" fill="none" stroke="#f5a783" stroke-width="1.20"/>
<path d="M224.90,268.30 A13.24,1.74 0 0 0 251.38,268.30" fill="none" stroke="#f5b17a" stroke-width="1.20"/>
<path d="M285.94,268.30 A13.24,1.74 0 0 0 312.42,268.30" fill="none" stroke="#f5b17a" stroke-width="1.20"/>
<path d="M346.98,268.30 A13.24,1.74 0 0 0 373.46,268.30" fill="none" stroke="#f5b17a" stroke-width="1.20"/>
<path d="M408.02,268.30 A13.24,1.74 0 0 0 434.50,268.30" fill="none" stroke="#f5b17a" stroke-width="1.20"/>
<path d="M469.06,268.30 A13.24,1.74 0 0 0 495.54,268.30" fill="none" stroke="#f5b17a" stroke-width="1.20"/>
<path d="M530.10,268.30 A13.24,1.74 0 0 0 556.58,268.30" fill="none" stroke="#f5b17a" stroke-width="1.20"/>
<path d="M591.14,268.30 A13.24,1.74 0 0 0 617.62,268.30" fill="none" stroke="#f5b17a" stroke-width="1.20"/>
<path d="M225.19,269.22 A12.95,1.48 0 0 0 251.09,269.22" fill="none" stroke="#f6bc72" stroke-width="1.20"/>
<path d="M286.23,269.22 A12.95,1.48 0 0 0 312.13,269.22" fill="none" stroke="#f6bc72" stroke-width="1.20"/>
<path d="M347.27,269.22 A12.95,1.48 0 0 0 373.17,269.22" fill="none" stroke="#f6bc72" stroke-width="1.20"/>
<path d="M408.31,269.22 A12.95,1.48 0 0 0 434.21,269.22" fill="none" stroke="#f6bc72" stroke-width="1.20"/>
<path d="M469.35,269.22 A12.95,1.48 0 0 0 495.25,269.22" fill="none" stroke="#f6bc72" stroke-width="1.20"/>
<path d="M530.39,269.22 A12.95,1.48 0 0 0 556.29,269.22" fill="none" stroke="#f6bc72" stroke-width="1.20"/>
<path d="M591.43,269.22 A12.95,1.48 0 0 0 617.33,269.22" fill="none" stroke="#f6bc72" stroke-width="1.20"/>
<path d="M225.43,270.14 A12.71,1.23 0 0 0 250.85,270.14" fill="none" stroke="#f5cb6c" stroke-width="1.20"/>
<path d="M286.47,270.14 A12.71,1.23 0 0 0 311.89,270.14" fill="none" stroke="#f5cb6c" stroke-width="1.20"/>
<path d="M347.51,270.14 A12.71,1.23 0 0 0 372.93,270.14" fill="none" stroke="#f5cb6c" stroke-width="1.20"/>
<path d="M408.55,270.14 A12.71,1.23 0 0 0 433.97,270.14" fill="none" stroke="#f5cb6c" stroke-width="1.20"/>
<path d="M469.59,270.14 A12.71,1.23 0 0 0 495.01,270.14" fill="none" stroke="#f5cb6c" stroke-width="1.20"/>
<path d="M530.63,270.14 A12.71,1.23 0 0 0 556.05,270.14" fill="none" stroke="#f5cb6c" stroke-width="1.20"/>
<path d="M591.67,270.14 A12.71,1.23 0 0 0 617.09,270.14" fill="none" stroke="#f5cb6c" stroke-width="1.20"/>
<path d="M225.62,271.06 A12.52,0.97 0 0 0 250.66,271.06" fill="none" stroke="#f4db68" stroke-width="1.20"/>
<path d="M286.66,271.06 A12.52,0.97 0 0 0 311.70,271.06" fill="none" stroke="#f4db68" stroke-width="1.20"/>
<path d="M347.70,271.06 A12.52,0.97 0 0 0 372.74,271.06" fill="none" stroke="#f4db68" stroke-width="1.20"/>
<path d="M408.74,271.06 A12.52,0.97 0 0 0 433.78,271.06" fill="none" stroke="#f4db68" stroke-width="1.20"/>
<path d="M469.78,271.06 A12.52,0.97 0 0 0 494.82,271.06" fill="none" stroke="#f4db68" stroke-width="1.20"/>
<path d="M530.82,271.06 A12.52,0.97 0 0 0 555.86,271.06" fill="none" stroke="#f4db68" stroke-width="1.20"/>
<path d="M591.86,271.06 A12.52,0.97 0 0 0 616.90,271.06" fill="none" stroke="#f4db68" stroke-width="1.20"/>
<path d="M225.77,271.98 A12.37,0.71 0 0 0 250.51,271.98" fill="none" stroke="#f2eb63" stroke-width="1.20"/>
<path d="M286.81,271.98 A12.37,0.71 0 0 0 311.55,271.98" fill="none" stroke="#f2eb63" stroke-width="1.20"/>
<path d="M347.85,271.98 A12.37,0.71 0 0 0 372.59,271.98" fill="none" stroke="#f2eb63" stroke-width="1.20"/>
<path d="M408.89,271.98 A12.37,0.71 0 0 0 433.63,271.98" fill="none" stroke="#f2eb63" stroke-width="1.20"/>
<path d="M469.93,271.98 A12.37,0.71 0 0 0 494.67,271.98" fill="none" stroke="#f2eb63" stroke-width="1.20"/>
<path d="M530.97,271.98 A12.37,0.71 0 0 0 555.71,271.98" fill="none" stroke="#f2eb63" stroke-width="1.20"/>
<path d="M592.01,271.98 A12.37,0.71 0 0 0 616.75,271.98" fill="none" stroke="#f2eb63" stroke-width="1.20"/>
<path d="M225.86,272.89 A12.28,0.45 0 0 0 250.42,272.89" fill="none" stroke="#dff168" stroke-width="1.20"/>
<path d="M286.90,272.89 A12.28,0.45 0 0 0 311.46,272.89" fill="none" stroke="#dff168" stroke-width="1.20"/>
<path d="M347.94,272.89 A12.28,0.45 0 0 0 372.50,272.89" fill="none" stroke="#dff168" stroke-width="1.20"/>
<path d="M408.98,272.89 A12.28,0.45 0 0 0 433.54,272.89" fill="none" stroke="#dff168" stroke-width="1.20"/>
<path d="M470.02,272.89 A12.28,0.45 0 0 0 494.58,272.89" fill="none" stroke="#dff168" stroke-width="1.20"/>
<path d="M531.06,272.89 A12.28,0.45 0 0 0 555.62,272.89" fill="none" stroke="#dff168" stroke-width="1.20"/>
<path d="M592.10,272.89 A12.28,0.45 0 0 0 616.66,272.89" fill="none" stroke="#dff168" stroke-width="1.20"/>
<path d="M225.92,273.81H250.36" stroke="#c6f36e" stroke-width="1.20" stroke-opacity="1.00"/>
<path d="M286.96,273.81H311.40" stroke="#c6f36e" stroke-width="1.20" stroke-opacity="1.00"/>
<path d="M348.00,273.81H372.44" stroke="#c6f36e" stroke-width="1.20" stroke-opacity="1.00"/>
<path d="M409.04,273.81H433.48" stroke="#c6f36e" stroke-width="1.20" stroke-opacity="1.00"/>
<path d="M470.08,273.81H494.52" stroke="#c6f36e" stroke-width="1.20" stroke-opacity="1.00"/>
<path d="M531.12,273.81H555.56" stroke="#c6f36e" stroke-width="1.20" stroke-opacity="1.00"/>
<path d="M592.16,273.81H616.60" stroke="#c6f36e" stroke-width="1.20" stroke-opacity="1.00"/>
<path d="M225.93,274.73H250.35" stroke="#a9f27e" stroke-width="1.20" stroke-opacity="1.00"/>
<path d="M286.97,274.73H311.39" stroke="#a9f27e" stroke-width="1.20" stroke-opacity="1.00"/>
<path d="M348.01,274.73H372.43" stroke="#a9f27e" stroke-width="1.20" stroke-opacity="1.00"/>
<path d="M409.05,274.73H433.47" stroke="#a9f27e" stroke-width="1.20" stroke-opacity="1.00"/>
<path d="M470.09,274.73H494.51" stroke="#a9f27e" stroke-width="1.20" stroke-opacity="1.00"/>
<path d="M531.13,274.73H555.55" stroke="#a9f27e" stroke-width="1.20" stroke-opacity="1.00"/>
<path d="M592.17,274.73H616.59" stroke="#a9f27e" stroke-width="1.20" stroke-opacity="1.00"/>
<path d="M250.38,275.65 A12.24,0.32 0 0 0 225.90,275.65" fill="none" stroke="#89ef97" stroke-width="1.20"/>
<path d="M311.42,275.65 A12.24,0.32 0 0 0 286.94,275.65" fill="none" stroke="#89ef97" stroke-width="1.20"/>
<path d="M372.46,275.65 A12.24,0.32 0 0 0 347.98,275.65" fill="none" stroke="#89ef97" stroke-width="1.20"/>
<path d="M433.50,275.65 A12.24,0.32 0 0 0 409.02,275.65" fill="none" stroke="#89ef97" stroke-width="1.20"/>
<path d="M494.54,275.65 A12.24,0.32 0 0 0 470.06,275.65" fill="none" stroke="#89ef97" stroke-width="1.20"/>
<path d="M555.58,275.65 A12.24,0.32 0 0 0 531.10,275.65" fill="none" stroke="#89ef97" stroke-width="1.20"/>
<path d="M616.62,275.65 A12.24,0.32 0 0 0 592.14,275.65" fill="none" stroke="#89ef97" stroke-width="1.20"/>
<path d="M250.46,276.57 A12.32,0.58 0 0 0 225.82,276.57" fill="none" stroke="#6aecaf" stroke-width="1.20"/>
<path d="M311.50,276.57 A12.32,0.58 0 0 0 286.86,276.57" fill="none" stroke="#6aecaf" stroke-width="1.20"/>
<path d="M372.54,276.57 A12.32,0.58 0 0 0 347.90,276.57" fill="none" stroke="#6aecaf" stroke-width="1.20"/>
<path d="M433.58,276.57 A12.32,0.58 0 0 0 408.94,276.57" fill="none" stroke="#6aecaf" stroke-width="1.20"/>
<path d="M494.62,276.57 A12.32,0.58 0 0 0 469.98,276.57" fill="none" stroke="#6aecaf" stroke-width="1.20"/>
<path d="M555.66,276.57 A12.32,0.58 0 0 0 531.02,276.57" fill="none" stroke="#6aecaf" stroke-width="1.20"/>
<path d="M616.70,276.57 A12.32,0.58 0 0 0 592.06,276.57" fill="none" stroke="#6aecaf" stroke-width="1.20"/>
<path d="M250.58,277.48 A12.44,0.84 0 0 0 225.70,277.48" fill="none" stroke="#68e8c3" stroke-width="1.20"/>
<path d="M311.62,277.48 A12.44,0.84 0 0 0 286.74,277.48" fill="none" stroke="#68e8c3" stroke-width="1.20"/>
<path d="M372.66,277.48 A12.44,0.84 0 0 0 347.78,277.48" fill="none" stroke="#68e8c3" stroke-width="1.20"/>
<path d="M433.70,277.48 A12.44,0.84 0 0 0 408.82,277.48" fill="none" stroke="#68e8c3" stroke-width="1.20"/>
<path d="M494.74,277.48 A12.44,0.84 0 0 0 469.86,277.48" fill="none" stroke="#68e8c3" stroke-width="1.20"/>
<path d="M555.78,277.48 A12.44,0.84 0 0 0 530.90,277.48" fill="none" stroke="#68e8c3" stroke-width="1.20"/>
<path d="M616.82,277.48 A12.44,0.84 0 0 0 591.94,277.48" fill="none" stroke="#68e8c3" stroke-width="1.20"/>
<path d="M250.75,278.40 A12.61,1.10 0 0 0 225.53,278.40" fill="none" stroke="#65e5d4" stroke-width="1.20"/>
<path d="M311.79,278.40 A12.61,1.10 0 0 0 286.57,278.40" fill="none" stroke="#65e5d4" stroke-width="1.20"/>
<path d="M372.83,278.40 A12.61,1.10 0 0 0 347.61,278.40" fill="none" stroke="#65e5d4" stroke-width="1.20"/>
<path d="M433.87,278.40 A12.61,1.10 0 0 0 408.65,278.40" fill="none" stroke="#65e5d4" stroke-width="1.20"/>
<path d="M494.91,278.40 A12.61,1.10 0 0 0 469.69,278.40" fill="none" stroke="#65e5d4" stroke-width="1.20"/>
<path d="M555.95,278.40 A12.61,1.10 0 0 0 530.73,278.40" fill="none" stroke="#65e5d4" stroke-width="1.20"/>
<path d="M616.99,278.40 A12.61,1.10 0 0 0 591.77,278.40" fill="none" stroke="#65e5d4" stroke-width="1.20"/>
<path d="M250.96,279.32 A12.82,1.36 0 0 0 225.32,279.32" fill="none" stroke="#64e2e6" stroke-width="1.20"/>
<path d="M312.00,279.32 A12.82,1.36 0 0 0 286.36,279.32" fill="none" stroke="#64e2e6" stroke-width="1.20"/>
<path d="M373.04,279.32 A12.82,1.36 0 0 0 347.40,279.32" fill="none" stroke="#64e2e6" stroke-width="1.20"/>
<path d="M434.08,279.32 A12.82,1.36 0 0 0 408.44,279.32" fill="none" stroke="#64e2e6" stroke-width="1.20"/>
<path d="M495.12,279.32 A12.82,1.36 0 0 0 469.48,279.32" fill="none" stroke="#64e2e6" stroke-width="1.20"/>
<path d="M556.16,279.32 A12.82,1.36 0 0 0 530.52,279.32" fill="none" stroke="#64e2e6" stroke-width="1.20"/>
<path d="M617.20,279.32 A12.82,1.36 0 0 0 591.56,279.32" fill="none" stroke="#64e2e6" stroke-width="1.20"/>
<path d="M251.23,280.24 A13.09,1.61 0 0 0 225.05,280.24" fill="none" stroke="#64dcf1" stroke-width="1.20"/>
<path d="M312.27,280.24 A13.09,1.61 0 0 0 286.09,280.24" fill="none" stroke="#64dcf1" stroke-width="1.20"/>
<path d="M373.31,280.24 A13.09,1.61 0 0 0 347.13,280.24" fill="none" stroke="#64dcf1" stroke-width="1.20"/>
<path d="M434.35,280.24 A13.09,1.61 0 0 0 408.17,280.24" fill="none" stroke="#64dcf1" stroke-width="1.20"/>
<path d="M495.39,280.24 A13.09,1.61 0 0 0 469.21,280.24" fill="none" stroke="#64dcf1" stroke-width="1.20"/>
<path d="M556.43,280.24 A13.09,1.61 0 0 0 530.25,280.24" fill="none" stroke="#64dcf1" stroke-width="1.20"/>
<path d="M617.47,280.24 A13.09,1.61 0 0 0 591.29,280.24" fill="none" stroke="#64dcf1" stroke-width="1.20"/>
<path d="M251.54,281.16 A13.40,1.87 0 0 0 224.74,281.16" fill="none" stroke="#69d2f2" stroke-width="1.20"/>
<path d="M312.58,281.16 A13.40,1.87 0 0 0 285.78,281.16" fill="none" stroke="#69d2f2" stroke-width="1.20"/>
<path d="M373.62,281.16 A13.40,1.87 0 0 0 346.82,281.16" fill="none" stroke="#69d2f2" stroke-width="1.20"/>
<path d="M434.66,281.16 A13.40,1.87 0 0 0 407.86,281.16" fill="none" stroke="#69d2f2" stroke-width="1.20"/>
<path d="M495.70,281.16 A13.40,1.87 0 0 0 468.90,281.16" fill="none" stroke="#69d2f2" stroke-width="1.20"/>
<path d="M556.74,281.16 A13.40,1.87 0 0 0 529.94,281.16" fill="none" stroke="#69d2f2" stroke-width="1.20"/>
<path d="M617.78,281.16 A13.40,1.87 0 0 0 590.98,281.16" fill="none" stroke="#69d2f2" stroke-width="1.20"/>
<path d="M251.91,282.07 A13.77,2.13 0 0 0 224.37,282.07" fill="none" stroke="#6ec7f3" stroke-width="1.20"/>
<path d="M312.95,282.07 A13.77,2.13 0 0 0 285.41,282.07" fill="none" stroke="#6ec7f3" stroke-width="1.20"/>
<path d="M373.99,282.07 A13.77,2.13 0 0 0 346.45,282.07" fill="none" stroke="#6ec7f3" stroke-width="1.20"/>
<path d="M435.03,282.07 A13.77,2.13 0 0 0 407.49,282.07" fill="none" stroke="#6ec7f3" stroke-width="1.20"/>
<path d="M496.07,282.07 A13.77,2.13 0 0 0 468.53,282.07" fill="none" stroke="#6ec7f3" stroke-width="1.20"/>
<path d="M557.11,282.07 A13.77,2.13 0 0 0 529.57,282.07" fill="none" stroke="#6ec7f3" stroke-width="1.20"/>
<path d="M618.15,282.07 A13.77,2.13 0 0 0 590.61,282.07" fill="none" stroke="#6ec7f3" stroke-width="1.20"/>
<path d="M252.33,282.99 A14.19,2.39 0 0 0 223.95,282.99" fill="none" stroke="#73bef4" stroke-width="1.20"/>
<path d="M313.37,282.99 A14.19,2.39 0 0 0 284.99,282.99" fill="none" stroke="#73bef4" stroke-width="1.20"/>
<path d="M374.41,282.99 A14.19,2.39 0 0 0 346.03,282.99" fill="none" stroke="#73bef4" stroke-width="1.20"/>
<path d="M435.45,282.99 A14.19,2.39 0 0 0 407.07,282.99" fill="none" stroke="#73bef4" stroke-width="1.20"/>
<path d="M496.49,282.99 A14.19,2.39 0 0 0 468.11,282.99" fill="none" stroke="#73bef4" stroke-width="1.20"/>
<path d="M557.53,282.99 A14.19,2.39 0 0 0 529.15,282.99" fill="none" stroke="#73bef4" stroke-width="1.20"/>
<path d="M618.57,282.99 A14.19,2.39 0 0 0 590.19,282.99" fill="none" stroke="#73bef4" stroke-width="1.20"/>
<path d="M252.82,283.91 A14.68,2.65 0 0 0 223.46,283.91" fill="none" stroke="#7db8f5" stroke-width="1.20"/>
<path d="M313.86,283.91 A14.68,2.65 0 0 0 284.50,283.91" fill="none" stroke="#7db8f5" stroke-width="1.20"/>
<path d="M374.90,283.91 A14.68,2.65 0 0 0 345.54,283.91" fill="none" stroke="#7db8f5" stroke-width="1.20"/>
<path d="M435.94,283.91 A14.68,2.65 0 0 0 406.58,283.91" fill="none" stroke="#7db8f5" stroke-width="1.20"/>
<path d="M496.98,283.91 A14.68,2.65 0 0 0 467.62,283.91" fill="none" stroke="#7db8f5" stroke-width="1.20"/>
<path d="M558.02,283.91 A14.68,2.65 0 0 0 528.66,283.91" fill="none" stroke="#7db8f5" stroke-width="1.20"/>
<path d="M619.06,283.91 A14.68,2.65 0 0 0 589.70,283.91" fill="none" stroke="#7db8f5" stroke-width="1.20"/>
<path d="M253.37,284.83 A15.23,2.90 0 0 0 222.91,284.83" fill="none" stroke="#88b3f5" stroke-width="1.20"/>
<path d="M314.41,284.83 A15.23,2.90 0 0 0 283.95,284.83" fill="none" stroke="#88b3f5" stroke-width="1.20"/>
<path d="M375.45,284.83 A15.23,2.90 0 0 0 344.99,284.83" fill="none" stroke="#88b3f5" stroke-width="1.20"/>
<path d="M436.49,284.83 A15.23,2.90 0 0 0 406.03,284.83" fill="none" stroke="#88b3f5" stroke-width="1.20"/>
<path d="M497.53,284.83 A15.23,2.90 0 0 0 467.07,284.83" fill="none" stroke="#88b3f5" stroke-width="1.20"/>
<path d="M558.57,284.83 A15.23,2.90 0 0 0 528.11,284.83" fill="none" stroke="#88b3f5" stroke-width="1.20"/>
<path d="M619.61,284.83 A15.23,2.90 0 0 0 589.15,284.83" fill="none" stroke="#88b3f5" stroke-width="1.20"/>
<circle cx="207.62" cy="274.50" r="19.07" fill="#fff" stroke="#7a7a7a" stroke-width="0.90"/>
<circle cx="268.66" cy="274.50" r="19.07" fill="#fff" stroke="#7a7a7a" stroke-width="0.90"/>
<circle cx="329.70" cy="274.50" r="19.07" fill="#fff" stroke="#7a7a7a" stroke-width="0.90"/>
<circle cx="390.74" cy="274.50" r="19.07" fill="#fff" stroke="#7a7a7a" stroke-width="0.90"/>
<circle cx="451.78" cy="274.50" r="19.07" fill="#fff" stroke="#7a7a7a" stroke-width="0.90"/>
<circle cx="512.82" cy="274.50" r="19.07" fill="#fff" stroke="#7a7a7a" stroke-width="0.90"/>
<circle cx="573.86" cy="274.50" r="19.07" fill="#fff" stroke="#7a7a7a" stroke-width="0.90"/>
<circle cx="634.90" cy="274.50" r="19.07" fill="#fff" stroke="#7a7a7a" stroke-width="0.90"/>
</g>
<clipPath id="clC"><rect x="480.74" y="27.25" width="132.44" height="118.25"/></clipPath>
<g clip-path="url(#clC)">
<linearGradient id="g6" gradientUnits="userSpaceOnUse" x1="0" y1="60.36" x2="0" y2="100.56"><stop offset="0.0000" stop-color="#ffffff"/><stop offset="0.0353" stop-color="#faeff0"/><stop offset="0.0882" stop-color="#f8dde0"/><stop offset="0.1647" stop-color="#f3b8b9"/><stop offset="0.2412" stop-color="#f08986"/><stop offset="0.2882" stop-color="#ef6259"/><stop offset="0.3147" stop-color="#f18c50"/><stop offset="0.3394" stop-color="#f1dc49"/><stop offset="0.3647" stop-color="#84ee79"/><stop offset="0.4000" stop-color="#4ce2c3"/><stop offset="0.4265" stop-color="#46dbed"/><stop offset="0.4647" stop-color="#4fc6f0"/><stop offset="0.5135" stop-color="#64b2f3"/><stop offset="0.5882" stop-color="#88a2f4"/><stop offset="0.6624" stop-color="#a4aaf3"/><stop offset="0.7059" stop-color="#c3c3f3"/><stop offset="0.7647" stop-color="#e2e1f8"/><stop offset="0.8235" stop-color="#ffffff"/></linearGradient>
<path d="M478.61,67.45 A7.33,8.04 0 0 0 463.95,67.45 L461.82,96.54 L461.82,101.75 L480.74,101.75 L480.74,96.54 Z" fill="url(#g6)"/>
<path d="M497.53,67.45 A7.33,8.04 0 0 0 482.87,67.45 L480.74,96.54 L480.74,101.75 L499.66,101.75 L499.66,96.54 Z" fill="url(#g6)"/>
<path d="M516.45,67.45 A7.33,8.04 0 0 0 501.79,67.45 L499.66,96.54 L499.66,101.75 L518.58,101.75 L518.58,96.54 Z" fill="url(#g6)"/>
<path d="M535.37,67.45 A7.33,8.04 0 0 0 520.71,67.45 L518.58,96.54 L518.58,101.75 L537.50,101.75 L537.50,96.54 Z" fill="url(#g6)"/>
<path d="M554.29,67.45 A7.33,8.04 0 0 0 539.63,67.45 L537.50,96.54 L537.50,101.75 L556.42,101.75 L556.42,96.54 Z" fill="url(#g6)"/>
<path d="M573.21,67.45 A7.33,8.04 0 0 0 558.55,67.45 L556.42,96.54 L556.42,101.75 L575.34,101.75 L575.34,96.54 Z" fill="url(#g6)"/>
<path d="M592.13,67.45 A7.33,8.04 0 0 0 577.47,67.45 L575.34,96.54 L575.34,101.75 L594.26,101.75 L594.26,96.54 Z" fill="url(#g6)"/>
<path d="M611.05,67.45 A7.33,8.04 0 0 0 596.39,67.45 L594.26,96.54 L594.26,101.75 L613.18,101.75 L613.18,96.54 Z" fill="url(#g6)"/>
<path d="M629.97,67.45 A7.33,8.04 0 0 0 615.31,67.45 L613.18,96.54 L613.18,101.75 L632.10,101.75 L632.10,96.54 Z" fill="url(#g6)"/>
<path d="M477.67,73.01 L477.67,64.85 A6.39,5.16 0 0 0 464.89,64.85 L464.89,73.01" fill="none" stroke="#8c4b5f" stroke-width="0.75" stroke-opacity="0.75"/>
<path d="M496.59,73.01 L496.59,64.85 A6.39,5.16 0 0 0 483.81,64.85 L483.81,73.01" fill="none" stroke="#8c4b5f" stroke-width="0.75" stroke-opacity="0.75"/>
<path d="M515.51,73.01 L515.51,64.85 A6.39,5.16 0 0 0 502.73,64.85 L502.73,73.01" fill="none" stroke="#8c4b5f" stroke-width="0.75" stroke-opacity="0.75"/>
<path d="M534.43,73.01 L534.43,64.85 A6.39,5.16 0 0 0 521.65,64.85 L521.65,73.01" fill="none" stroke="#8c4b5f" stroke-width="0.75" stroke-opacity="0.75"/>
<path d="M553.35,73.01 L553.35,64.85 A6.39,5.16 0 0 0 540.57,64.85 L540.57,73.01" fill="none" stroke="#8c4b5f" stroke-width="0.75" stroke-opacity="0.75"/>
<path d="M572.27,73.01 L572.27,64.85 A6.39,5.16 0 0 0 559.49,64.85 L559.49,73.01" fill="none" stroke="#8c4b5f" stroke-width="0.75" stroke-opacity="0.75"/>
<path d="M591.19,73.01 L591.19,64.85 A6.39,5.16 0 0 0 578.41,64.85 L578.41,73.01" fill="none" stroke="#8c4b5f" stroke-width="0.75" stroke-opacity="0.75"/>
<path d="M610.11,73.01 L610.11,64.85 A6.39,5.16 0 0 0 597.33,64.85 L597.33,73.01" fill="none" stroke="#8c4b5f" stroke-width="0.75" stroke-opacity="0.75"/>
<path d="M629.03,73.01 L629.03,64.85 A6.39,5.16 0 0 0 616.25,64.85 L616.25,73.01" fill="none" stroke="#8c4b5f" stroke-width="0.75" stroke-opacity="0.75"/>
<path d="M477.43,73.01 L477.43,67.22 A6.15,5.51 0 0 0 465.13,67.22 L465.13,73.01" fill="none" stroke="#d7323c" stroke-width="0.75" stroke-opacity="0.34"/>
<path d="M496.35,73.01 L496.35,67.22 A6.15,5.51 0 0 0 484.05,67.22 L484.05,73.01" fill="none" stroke="#d7323c" stroke-width="0.75" stroke-opacity="0.34"/>
<path d="M515.27,73.01 L515.27,67.22 A6.15,5.51 0 0 0 502.97,67.22 L502.97,73.01" fill="none" stroke="#d7323c" stroke-width="0.75" stroke-opacity="0.34"/>
<path d="M534.19,73.01 L534.19,67.22 A6.15,5.51 0 0 0 521.89,67.22 L521.89,73.01" fill="none" stroke="#d7323c" stroke-width="0.75" stroke-opacity="0.34"/>
<path d="M553.11,73.01 L553.11,67.22 A6.15,5.51 0 0 0 540.81,67.22 L540.81,73.01" fill="none" stroke="#d7323c" stroke-width="0.75" stroke-opacity="0.34"/>
<path d="M572.03,73.01 L572.03,67.22 A6.15,5.51 0 0 0 559.73,67.22 L559.73,73.01" fill="none" stroke="#d7323c" stroke-width="0.75" stroke-opacity="0.34"/>
<path d="M590.95,73.01 L590.95,67.22 A6.15,5.51 0 0 0 578.65,67.22 L578.65,73.01" fill="none" stroke="#d7323c" stroke-width="0.75" stroke-opacity="0.34"/>
<path d="M609.87,73.01 L609.87,67.22 A6.15,5.51 0 0 0 597.57,67.22 L597.57,73.01" fill="none" stroke="#d7323c" stroke-width="0.75" stroke-opacity="0.34"/>
<path d="M628.79,73.01 L628.79,67.22 A6.15,5.51 0 0 0 616.49,67.22 L616.49,73.01" fill="none" stroke="#d7323c" stroke-width="0.75" stroke-opacity="0.34"/>
<path d="M477.07,73.01 L477.07,68.16 A5.79,4.73 0 0 0 465.49,68.16 L465.49,73.01" fill="none" stroke="#d7323c" stroke-width="0.75" stroke-opacity="0.34"/>
<path d="M495.99,73.01 L495.99,68.16 A5.79,4.73 0 0 0 484.41,68.16 L484.41,73.01" fill="none" stroke="#d7323c" stroke-width="0.75" stroke-opacity="0.34"/>
<path d="M514.91,73.01 L514.91,68.16 A5.79,4.73 0 0 0 503.33,68.16 L503.33,73.01" fill="none" stroke="#d7323c" stroke-width="0.75" stroke-opacity="0.34"/>
<path d="M533.83,73.01 L533.83,68.16 A5.79,4.73 0 0 0 522.25,68.16 L522.25,73.01" fill="none" stroke="#d7323c" stroke-width="0.75" stroke-opacity="0.34"/>
<path d="M552.75,73.01 L552.75,68.16 A5.79,4.73 0 0 0 541.17,68.16 L541.17,73.01" fill="none" stroke="#d7323c" stroke-width="0.75" stroke-opacity="0.34"/>
<path d="M571.67,73.01 L571.67,68.16 A5.79,4.73 0 0 0 560.09,68.16 L560.09,73.01" fill="none" stroke="#d7323c" stroke-width="0.75" stroke-opacity="0.34"/>
<path d="M590.59,73.01 L590.59,68.16 A5.79,4.73 0 0 0 579.01,68.16 L579.01,73.01" fill="none" stroke="#d7323c" stroke-width="0.75" stroke-opacity="0.34"/>
<path d="M609.51,73.01 L609.51,68.16 A5.79,4.73 0 0 0 597.93,68.16 L597.93,73.01" fill="none" stroke="#d7323c" stroke-width="0.75" stroke-opacity="0.34"/>
<path d="M628.43,73.01 L628.43,68.16 A5.79,4.73 0 0 0 616.85,68.16 L616.85,73.01" fill="none" stroke="#d7323c" stroke-width="0.75" stroke-opacity="0.34"/>
<path d="M476.84,73.01 L476.84,69.11 A5.56,4.26 0 0 0 465.72,69.11 L465.72,73.01" fill="none" stroke="#d7323c" stroke-width="0.75" stroke-opacity="0.34"/>
<path d="M495.76,73.01 L495.76,69.11 A5.56,4.26 0 0 0 484.64,69.11 L484.64,73.01" fill="none" stroke="#d7323c" stroke-width="0.75" stroke-opacity="0.34"/>
<path d="M514.68,73.01 L514.68,69.11 A5.56,4.26 0 0 0 503.56,69.11 L503.56,73.01" fill="none" stroke="#d7323c" stroke-width="0.75" stroke-opacity="0.34"/>
<path d="M533.60,73.01 L533.60,69.11 A5.56,4.26 0 0 0 522.48,69.11 L522.48,73.01" fill="none" stroke="#d7323c" stroke-width="0.75" stroke-opacity="0.34"/>
<path d="M552.52,73.01 L552.52,69.11 A5.56,4.26 0 0 0 541.40,69.11 L541.40,73.01" fill="none" stroke="#d7323c" stroke-width="0.75" stroke-opacity="0.34"/>
<path d="M571.44,73.01 L571.44,69.11 A5.56,4.26 0 0 0 560.32,69.11 L560.32,73.01" fill="none" stroke="#d7323c" stroke-width="0.75" stroke-opacity="0.34"/>
<path d="M590.36,73.01 L590.36,69.11 A5.56,4.26 0 0 0 579.24,69.11 L579.24,73.01" fill="none" stroke="#d7323c" stroke-width="0.75" stroke-opacity="0.34"/>
<path d="M609.28,73.01 L609.28,69.11 A5.56,4.26 0 0 0 598.16,69.11 L598.16,73.01" fill="none" stroke="#d7323c" stroke-width="0.75" stroke-opacity="0.34"/>
<path d="M628.20,73.01 L628.20,69.11 A5.56,4.26 0 0 0 617.08,69.11 L617.08,73.01" fill="none" stroke="#d7323c" stroke-width="0.75" stroke-opacity="0.34"/>
<path d="M476.60,73.01 L476.60,69.82 A5.32,3.78 0 0 0 465.96,69.82 L465.96,73.01" fill="none" stroke="#d7323c" stroke-width="0.75" stroke-opacity="0.34"/>
<path d="M495.52,73.01 L495.52,69.82 A5.32,3.78 0 0 0 484.88,69.82 L484.88,73.01" fill="none" stroke="#d7323c" stroke-width="0.75" stroke-opacity="0.34"/>
<path d="M514.44,73.01 L514.44,69.82 A5.32,3.78 0 0 0 503.80,69.82 L503.80,73.01" fill="none" stroke="#d7323c" stroke-width="0.75" stroke-opacity="0.34"/>
<path d="M533.36,73.01 L533.36,69.82 A5.32,3.78 0 0 0 522.72,69.82 L522.72,73.01" fill="none" stroke="#d7323c" stroke-width="0.75" stroke-opacity="0.34"/>
<path d="M552.28,73.01 L552.28,69.82 A5.32,3.78 0 0 0 541.64,69.82 L541.64,73.01" fill="none" stroke="#d7323c" stroke-width="0.75" stroke-opacity="0.34"/>
<path d="M571.20,73.01 L571.20,69.82 A5.32,3.78 0 0 0 560.56,69.82 L560.56,73.01" fill="none" stroke="#d7323c" stroke-width="0.75" stroke-opacity="0.34"/>
<path d="M590.12,73.01 L590.12,69.82 A5.32,3.78 0 0 0 579.48,69.82 L579.48,73.01" fill="none" stroke="#d7323c" stroke-width="0.75" stroke-opacity="0.34"/>
<path d="M609.04,73.01 L609.04,69.82 A5.32,3.78 0 0 0 598.40,69.82 L598.40,73.01" fill="none" stroke="#d7323c" stroke-width="0.75" stroke-opacity="0.34"/>
<path d="M627.96,73.01 L627.96,69.82 A5.32,3.78 0 0 0 617.32,69.82 L617.32,73.01" fill="none" stroke="#d7323c" stroke-width="0.75" stroke-opacity="0.34"/>
<path d="M476.36,73.01 L476.36,70.29 A5.08,3.31 0 0 0 466.20,70.29 L466.20,73.01" fill="none" stroke="#d7323c" stroke-width="0.75" stroke-opacity="0.34"/>
<path d="M495.28,73.01 L495.28,70.29 A5.08,3.31 0 0 0 485.12,70.29 L485.12,73.01" fill="none" stroke="#d7323c" stroke-width="0.75" stroke-opacity="0.34"/>
<path d="M514.20,73.01 L514.20,70.29 A5.08,3.31 0 0 0 504.04,70.29 L504.04,73.01" fill="none" stroke="#d7323c" stroke-width="0.75" stroke-opacity="0.34"/>
<path d="M533.12,73.01 L533.12,70.29 A5.08,3.31 0 0 0 522.96,70.29 L522.96,73.01" fill="none" stroke="#d7323c" stroke-width="0.75" stroke-opacity="0.34"/>
<path d="M552.04,73.01 L552.04,70.29 A5.08,3.31 0 0 0 541.88,70.29 L541.88,73.01" fill="none" stroke="#d7323c" stroke-width="0.75" stroke-opacity="0.34"/>
<path d="M570.96,73.01 L570.96,70.29 A5.08,3.31 0 0 0 560.80,70.29 L560.80,73.01" fill="none" stroke="#d7323c" stroke-width="0.75" stroke-opacity="0.34"/>
<path d="M589.88,73.01 L589.88,70.29 A5.08,3.31 0 0 0 579.72,70.29 L579.72,73.01" fill="none" stroke="#d7323c" stroke-width="0.75" stroke-opacity="0.34"/>
<path d="M608.80,73.01 L608.80,70.29 A5.08,3.31 0 0 0 598.64,70.29 L598.64,73.01" fill="none" stroke="#d7323c" stroke-width="0.75" stroke-opacity="0.34"/>
<path d="M627.72,73.01 L627.72,70.29 A5.08,3.31 0 0 0 617.56,70.29 L617.56,73.01" fill="none" stroke="#d7323c" stroke-width="0.75" stroke-opacity="0.34"/>
<path d="M476.13,73.01 L476.13,70.77 A4.85,2.84 0 0 0 466.43,70.77 L466.43,73.01" fill="none" stroke="#d7323c" stroke-width="0.75" stroke-opacity="0.34"/>
<path d="M495.05,73.01 L495.05,70.77 A4.85,2.84 0 0 0 485.35,70.77 L485.35,73.01" fill="none" stroke="#d7323c" stroke-width="0.75" stroke-opacity="0.34"/>
<path d="M513.97,73.01 L513.97,70.77 A4.85,2.84 0 0 0 504.27,70.77 L504.27,73.01" fill="none" stroke="#d7323c" stroke-width="0.75" stroke-opacity="0.34"/>
<path d="M532.89,73.01 L532.89,70.77 A4.85,2.84 0 0 0 523.19,70.77 L523.19,73.01" fill="none" stroke="#d7323c" stroke-width="0.75" stroke-opacity="0.34"/>
<path d="M551.81,73.01 L551.81,70.77 A4.85,2.84 0 0 0 542.11,70.77 L542.11,73.01" fill="none" stroke="#d7323c" stroke-width="0.75" stroke-opacity="0.34"/>
<path d="M570.73,73.01 L570.73,70.77 A4.85,2.84 0 0 0 561.03,70.77 L561.03,73.01" fill="none" stroke="#d7323c" stroke-width="0.75" stroke-opacity="0.34"/>
<path d="M589.65,73.01 L589.65,70.77 A4.85,2.84 0 0 0 579.95,70.77 L579.95,73.01" fill="none" stroke="#d7323c" stroke-width="0.75" stroke-opacity="0.34"/>
<path d="M608.57,73.01 L608.57,70.77 A4.85,2.84 0 0 0 598.87,70.77 L598.87,73.01" fill="none" stroke="#d7323c" stroke-width="0.75" stroke-opacity="0.34"/>
<path d="M627.49,73.01 L627.49,70.77 A4.85,2.84 0 0 0 617.79,70.77 L617.79,73.01" fill="none" stroke="#d7323c" stroke-width="0.75" stroke-opacity="0.34"/>
<path d="M475.89,73.01 L475.89,71.24 A4.61,2.48 0 0 0 466.67,71.24 L466.67,73.01" fill="none" stroke="#d7323c" stroke-width="0.75" stroke-opacity="0.34"/>
<path d="M494.81,73.01 L494.81,71.24 A4.61,2.48 0 0 0 485.59,71.24 L485.59,73.01" fill="none" stroke="#d7323c" stroke-width="0.75" stroke-opacity="0.34"/>
<path d="M513.73,73.01 L513.73,71.24 A4.61,2.48 0 0 0 504.51,71.24 L504.51,73.01" fill="none" stroke="#d7323c" stroke-width="0.75" stroke-opacity="0.34"/>
<path d="M532.65,73.01 L532.65,71.24 A4.61,2.48 0 0 0 523.43,71.24 L523.43,73.01" fill="none" stroke="#d7323c" stroke-width="0.75" stroke-opacity="0.34"/>
<path d="M551.57,73.01 L551.57,71.24 A4.61,2.48 0 0 0 542.35,71.24 L542.35,73.01" fill="none" stroke="#d7323c" stroke-width="0.75" stroke-opacity="0.34"/>
<path d="M570.49,73.01 L570.49,71.24 A4.61,2.48 0 0 0 561.27,71.24 L561.27,73.01" fill="none" stroke="#d7323c" stroke-width="0.75" stroke-opacity="0.34"/>
<path d="M589.41,73.01 L589.41,71.24 A4.61,2.48 0 0 0 580.19,71.24 L580.19,73.01" fill="none" stroke="#d7323c" stroke-width="0.75" stroke-opacity="0.34"/>
<path d="M608.33,73.01 L608.33,71.24 A4.61,2.48 0 0 0 599.11,71.24 L599.11,73.01" fill="none" stroke="#d7323c" stroke-width="0.75" stroke-opacity="0.34"/>
<path d="M627.25,73.01 L627.25,71.24 A4.61,2.48 0 0 0 618.03,71.24 L618.03,73.01" fill="none" stroke="#d7323c" stroke-width="0.75" stroke-opacity="0.34"/>
<ellipse cx="480.74" cy="60.88" rx="3.07" ry="3.29" fill="none" stroke="#a24153" stroke-width="0.75" stroke-opacity="0.75"/>
<ellipse cx="480.74" cy="61.66" rx="1.68" ry="1.51" fill="none" stroke="#b73849" stroke-width="0.75" stroke-opacity="0.75"/>
<ellipse cx="499.66" cy="60.88" rx="3.07" ry="3.29" fill="none" stroke="#a24153" stroke-width="0.75" stroke-opacity="0.75"/>
<ellipse cx="499.66" cy="61.66" rx="1.68" ry="1.51" fill="none" stroke="#b73849" stroke-width="0.75" stroke-opacity="0.75"/>
<ellipse cx="518.58" cy="60.88" rx="3.07" ry="3.29" fill="none" stroke="#a24153" stroke-width="0.75" stroke-opacity="0.75"/>
<ellipse cx="518.58" cy="61.66" rx="1.68" ry="1.51" fill="none" stroke="#b73849" stroke-width="0.75" stroke-opacity="0.75"/>
<ellipse cx="537.50" cy="60.88" rx="3.07" ry="3.29" fill="none" stroke="#a24153" stroke-width="0.75" stroke-opacity="0.75"/>
<ellipse cx="537.50" cy="61.66" rx="1.68" ry="1.51" fill="none" stroke="#b73849" stroke-width="0.75" stroke-opacity="0.75"/>
<ellipse cx="556.42" cy="60.88" rx="3.07" ry="3.29" fill="none" stroke="#a24153" stroke-width="0.75" stroke-opacity="0.75"/>
<ellipse cx="556.42" cy="61.66" rx="1.68" ry="1.51" fill="none" stroke="#b73849" stroke-width="0.75" stroke-opacity="0.75"/>
<ellipse cx="575.34" cy="60.88" rx="3.07" ry="3.29" fill="none" stroke="#a24153" stroke-width="0.75" stroke-opacity="0.75"/>
<ellipse cx="575.34" cy="61.66" rx="1.68" ry="1.51" fill="none" stroke="#b73849" stroke-width="0.75" stroke-opacity="0.75"/>
<ellipse cx="594.26" cy="60.88" rx="3.07" ry="3.29" fill="none" stroke="#a24153" stroke-width="0.75" stroke-opacity="0.75"/>
<ellipse cx="594.26" cy="61.66" rx="1.68" ry="1.51" fill="none" stroke="#b73849" stroke-width="0.75" stroke-opacity="0.75"/>
<ellipse cx="613.18" cy="60.88" rx="3.07" ry="3.29" fill="none" stroke="#a24153" stroke-width="0.75" stroke-opacity="0.75"/>
<ellipse cx="613.18" cy="61.66" rx="1.68" ry="1.51" fill="none" stroke="#b73849" stroke-width="0.75" stroke-opacity="0.75"/>
<ellipse cx="632.10" cy="60.88" rx="3.07" ry="3.29" fill="none" stroke="#a24153" stroke-width="0.75" stroke-opacity="0.75"/>
<ellipse cx="632.10" cy="61.66" rx="1.68" ry="1.51" fill="none" stroke="#b73849" stroke-width="0.75" stroke-opacity="0.75"/>
<path d="M479.14,87.79 A7.86,1.66 0 0 0 463.42,87.79" fill="none" stroke="#382bb4" stroke-width="0.75" stroke-opacity="0.85"/>
<path d="M498.06,87.79 A7.86,1.66 0 0 0 482.34,87.79" fill="none" stroke="#382bb4" stroke-width="0.75" stroke-opacity="0.85"/>
<path d="M516.98,87.79 A7.86,1.66 0 0 0 501.26,87.79" fill="none" stroke="#382bb4" stroke-width="0.75" stroke-opacity="0.85"/>
<path d="M535.90,87.79 A7.86,1.66 0 0 0 520.18,87.79" fill="none" stroke="#382bb4" stroke-width="0.75" stroke-opacity="0.85"/>
<path d="M554.82,87.79 A7.86,1.66 0 0 0 539.10,87.79" fill="none" stroke="#382bb4" stroke-width="0.75" stroke-opacity="0.85"/>
<path d="M573.74,87.79 A7.86,1.66 0 0 0 558.02,87.79" fill="none" stroke="#382bb4" stroke-width="0.75" stroke-opacity="0.85"/>
<path d="M592.66,87.79 A7.86,1.66 0 0 0 576.94,87.79" fill="none" stroke="#382bb4" stroke-width="0.75" stroke-opacity="0.85"/>
<path d="M611.58,87.79 A7.86,1.66 0 0 0 595.86,87.79" fill="none" stroke="#382bb4" stroke-width="0.75" stroke-opacity="0.85"/>
<path d="M630.50,87.79 A7.86,1.66 0 0 0 614.78,87.79" fill="none" stroke="#382bb4" stroke-width="0.75" stroke-opacity="0.85"/>
<path d="M479.56,89.50 A8.28,1.66 0 0 0 463.00,89.50" fill="none" stroke="#382bb4" stroke-width="0.75" stroke-opacity="0.85"/>
<path d="M498.48,89.50 A8.28,1.66 0 0 0 481.92,89.50" fill="none" stroke="#382bb4" stroke-width="0.75" stroke-opacity="0.85"/>
<path d="M517.40,89.50 A8.28,1.66 0 0 0 500.84,89.50" fill="none" stroke="#382bb4" stroke-width="0.75" stroke-opacity="0.85"/>
<path d="M536.32,89.50 A8.28,1.66 0 0 0 519.76,89.50" fill="none" stroke="#382bb4" stroke-width="0.75" stroke-opacity="0.85"/>
<path d="M555.24,89.50 A8.28,1.66 0 0 0 538.68,89.50" fill="none" stroke="#382bb4" stroke-width="0.75" stroke-opacity="0.85"/>
<path d="M574.16,89.50 A8.28,1.66 0 0 0 557.60,89.50" fill="none" stroke="#382bb4" stroke-width="0.75" stroke-opacity="0.85"/>
<path d="M593.08,89.50 A8.28,1.66 0 0 0 576.52,89.50" fill="none" stroke="#382bb4" stroke-width="0.75" stroke-opacity="0.85"/>
<path d="M612.00,89.50 A8.28,1.66 0 0 0 595.44,89.50" fill="none" stroke="#382bb4" stroke-width="0.75" stroke-opacity="0.85"/>
<path d="M630.92,89.50 A8.28,1.66 0 0 0 614.36,89.50" fill="none" stroke="#382bb4" stroke-width="0.75" stroke-opacity="0.85"/>
<path d="M479.98,91.20 A8.70,1.66 0 0 0 462.58,91.20" fill="none" stroke="#382bb4" stroke-width="0.75" stroke-opacity="0.85"/>
<path d="M498.90,91.20 A8.70,1.66 0 0 0 481.50,91.20" fill="none" stroke="#382bb4" stroke-width="0.75" stroke-opacity="0.85"/>
<path d="M517.82,91.20 A8.70,1.66 0 0 0 500.42,91.20" fill="none" stroke="#382bb4" stroke-width="0.75" stroke-opacity="0.85"/>
<path d="M536.74,91.20 A8.70,1.66 0 0 0 519.34,91.20" fill="none" stroke="#382bb4" stroke-width="0.75" stroke-opacity="0.85"/>
<path d="M555.66,91.20 A8.70,1.66 0 0 0 538.26,91.20" fill="none" stroke="#382bb4" stroke-width="0.75" stroke-opacity="0.85"/>
<path d="M574.58,91.20 A8.70,1.66 0 0 0 557.18,91.20" fill="none" stroke="#382bb4" stroke-width="0.75" stroke-opacity="0.85"/>
<path d="M593.50,91.20 A8.70,1.66 0 0 0 576.10,91.20" fill="none" stroke="#382bb4" stroke-width="0.75" stroke-opacity="0.85"/>
<path d="M612.42,91.20 A8.70,1.66 0 0 0 595.02,91.20" fill="none" stroke="#382bb4" stroke-width="0.75" stroke-opacity="0.85"/>
<path d="M631.34,91.20 A8.70,1.66 0 0 0 613.94,91.20" fill="none" stroke="#382bb4" stroke-width="0.75" stroke-opacity="0.85"/>
<path d="M480.39,92.90 A9.11,1.66 0 0 0 462.17,92.90" fill="none" stroke="#382bb4" stroke-width="0.75" stroke-opacity="0.85"/>
<path d="M499.31,92.90 A9.11,1.66 0 0 0 481.09,92.90" fill="none" stroke="#382bb4" stroke-width="0.75" stroke-opacity="0.85"/>
<path d="M518.23,92.90 A9.11,1.66 0 0 0 500.01,92.90" fill="none" stroke="#382bb4" stroke-width="0.75" stroke-opacity="0.85"/>
<path d="M537.15,92.90 A9.11,1.66 0 0 0 518.93,92.90" fill="none" stroke="#382bb4" stroke-width="0.75" stroke-opacity="0.85"/>
<path d="M556.07,92.90 A9.11,1.66 0 0 0 537.85,92.90" fill="none" stroke="#382bb4" stroke-width="0.75" stroke-opacity="0.85"/>
<path d="M574.99,92.90 A9.11,1.66 0 0 0 556.77,92.90" fill="none" stroke="#382bb4" stroke-width="0.75" stroke-opacity="0.85"/>
<path d="M593.91,92.90 A9.11,1.66 0 0 0 575.69,92.90" fill="none" stroke="#382bb4" stroke-width="0.75" stroke-opacity="0.85"/>
<path d="M612.83,92.90 A9.11,1.66 0 0 0 594.61,92.90" fill="none" stroke="#382bb4" stroke-width="0.75" stroke-opacity="0.85"/>
<path d="M631.75,92.90 A9.11,1.66 0 0 0 613.53,92.90" fill="none" stroke="#382bb4" stroke-width="0.75" stroke-opacity="0.85"/>
<path d="M480.81,94.61 A9.53,1.66 0 0 0 461.75,94.61" fill="none" stroke="#382bb4" stroke-width="0.75" stroke-opacity="0.85"/>
<path d="M499.73,94.61 A9.53,1.66 0 0 0 480.67,94.61" fill="none" stroke="#382bb4" stroke-width="0.75" stroke-opacity="0.85"/>
<path d="M518.65,94.61 A9.53,1.66 0 0 0 499.59,94.61" fill="none" stroke="#382bb4" stroke-width="0.75" stroke-opacity="0.85"/>
<path d="M537.57,94.61 A9.53,1.66 0 0 0 518.51,94.61" fill="none" stroke="#382bb4" stroke-width="0.75" stroke-opacity="0.85"/>
<path d="M556.49,94.61 A9.53,1.66 0 0 0 537.43,94.61" fill="none" stroke="#382bb4" stroke-width="0.75" stroke-opacity="0.85"/>
<path d="M575.41,94.61 A9.53,1.66 0 0 0 556.35,94.61" fill="none" stroke="#382bb4" stroke-width="0.75" stroke-opacity="0.85"/>
<path d="M594.33,94.61 A9.53,1.66 0 0 0 575.27,94.61" fill="none" stroke="#382bb4" stroke-width="0.75" stroke-opacity="0.85"/>
<path d="M613.25,94.61 A9.53,1.66 0 0 0 594.19,94.61" fill="none" stroke="#382bb4" stroke-width="0.75" stroke-opacity="0.85"/>
<path d="M632.17,94.61 A9.53,1.66 0 0 0 613.11,94.61" fill="none" stroke="#382bb4" stroke-width="0.75" stroke-opacity="0.85"/>
<path d="M481.22,96.31 A9.94,1.66 0 0 0 461.34,96.31" fill="none" stroke="#382bb4" stroke-width="0.75" stroke-opacity="0.85"/>
<path d="M500.14,96.31 A9.94,1.66 0 0 0 480.26,96.31" fill="none" stroke="#382bb4" stroke-width="0.75" stroke-opacity="0.85"/>
<path d="M519.06,96.31 A9.94,1.66 0 0 0 499.18,96.31" fill="none" stroke="#382bb4" stroke-width="0.75" stroke-opacity="0.85"/>
<path d="M537.98,96.31 A9.94,1.66 0 0 0 518.10,96.31" fill="none" stroke="#382bb4" stroke-width="0.75" stroke-opacity="0.85"/>
<path d="M556.90,96.31 A9.94,1.66 0 0 0 537.02,96.31" fill="none" stroke="#382bb4" stroke-width="0.75" stroke-opacity="0.85"/>
<path d="M575.82,96.31 A9.94,1.66 0 0 0 555.94,96.31" fill="none" stroke="#382bb4" stroke-width="0.75" stroke-opacity="0.85"/>
<path d="M594.74,96.31 A9.94,1.66 0 0 0 574.86,96.31" fill="none" stroke="#382bb4" stroke-width="0.75" stroke-opacity="0.85"/>
<path d="M613.66,96.31 A9.94,1.66 0 0 0 593.78,96.31" fill="none" stroke="#382bb4" stroke-width="0.75" stroke-opacity="0.85"/>
<path d="M632.58,96.31 A9.94,1.66 0 0 0 612.70,96.31" fill="none" stroke="#382bb4" stroke-width="0.75" stroke-opacity="0.85"/>
<path d="M461.82,96.54 A9.46,6.62 0 0 0 480.74,96.54" fill="none" stroke="#281e82" stroke-width="0.75" stroke-opacity="0.75"/>
<path d="M480.74,96.54 A9.46,6.62 0 0 0 499.66,96.54" fill="none" stroke="#281e82" stroke-width="0.75" stroke-opacity="0.75"/>
<path d="M499.66,96.54 A9.46,6.62 0 0 0 518.58,96.54" fill="none" stroke="#281e82" stroke-width="0.75" stroke-opacity="0.75"/>
<path d="M518.58,96.54 A9.46,6.62 0 0 0 537.50,96.54" fill="none" stroke="#281e82" stroke-width="0.75" stroke-opacity="0.75"/>
<path d="M537.50,96.54 A9.46,6.62 0 0 0 556.42,96.54" fill="none" stroke="#281e82" stroke-width="0.75" stroke-opacity="0.75"/>
<path d="M556.42,96.54 A9.46,6.62 0 0 0 575.34,96.54" fill="none" stroke="#281e82" stroke-width="0.75" stroke-opacity="0.75"/>
<path d="M575.34,96.54 A9.46,6.62 0 0 0 594.26,96.54" fill="none" stroke="#281e82" stroke-width="0.75" stroke-opacity="0.75"/>
<path d="M594.26,96.54 A9.46,6.62 0 0 0 613.18,96.54" fill="none" stroke="#281e82" stroke-width="0.75" stroke-opacity="0.75"/>
<path d="M613.18,96.54 A9.46,6.62 0 0 0 632.10,96.54" fill="none" stroke="#281e82" stroke-width="0.75" stroke-opacity="0.75"/>
<circle cx="480.74" cy="96.78" r="1.18" fill="none" stroke="#2e2396" stroke-width="0.75"/>
<circle cx="499.66" cy="96.78" r="1.18" fill="none" stroke="#2e2396" stroke-width="0.75"/>
<circle cx="518.58" cy="96.78" r="1.18" fill="none" stroke="#2e2396" stroke-width="0.75"/>
<circle cx="537.50" cy="96.78" r="1.18" fill="none" stroke="#2e2396" stroke-width="0.75"/>
<circle cx="556.42" cy="96.78" r="1.18" fill="none" stroke="#2e2396" stroke-width="0.75"/>
<circle cx="575.34" cy="96.78" r="1.18" fill="none" stroke="#2e2396" stroke-width="0.75"/>
<circle cx="594.26" cy="96.78" r="1.18" fill="none" stroke="#2e2396" stroke-width="0.75"/>
<circle cx="613.18" cy="96.78" r="1.18" fill="none" stroke="#2e2396" stroke-width="0.75"/>
<circle cx="632.10" cy="96.78" r="1.18" fill="none" stroke="#2e2396" stroke-width="0.75"/>
<path d="M480.74,62.25 L486.49,73.01 L480.74,96.54 L474.99,73.01Z" fill="#fff" stroke="#6e6e6e" stroke-width="0.90"/>
<path d="M499.66,62.25 L505.41,73.01 L499.66,96.54 L493.91,73.01Z" fill="#fff" stroke="#6e6e6e" stroke-width="0.90"/>
<path d="M518.58,62.25 L524.33,73.01 L518.58,96.54 L512.83,73.01Z" fill="#fff" stroke="#6e6e6e" stroke-width="0.90"/>
<path d="M537.50,62.25 L543.25,73.01 L537.50,96.54 L531.75,73.01Z" fill="#fff" stroke="#6e6e6e" stroke-width="0.90"/>
<path d="M556.42,62.25 L562.17,73.01 L556.42,96.54 L550.67,73.01Z" fill="#fff" stroke="#6e6e6e" stroke-width="0.90"/>
<path d="M575.34,62.25 L581.09,73.01 L575.34,96.54 L569.59,73.01Z" fill="#fff" stroke="#6e6e6e" stroke-width="0.90"/>
<path d="M594.26,62.25 L600.01,73.01 L594.26,96.54 L588.51,73.01Z" fill="#fff" stroke="#6e6e6e" stroke-width="0.90"/>
<path d="M613.18,62.25 L618.93,73.01 L613.18,96.54 L607.43,73.01Z" fill="#fff" stroke="#6e6e6e" stroke-width="0.90"/>
<path d="M632.10,62.25 L637.85,73.01 L632.10,96.54 L626.35,73.01Z" fill="#fff" stroke="#6e6e6e" stroke-width="0.90"/>
</g>
<path d="M480.74,62.25 L480.74,27.25 L613.18,27.25 L613.18,62.25" fill="none" stroke="#6e6e6e" stroke-width="1.00" stroke-opacity="1.00" stroke-linejoin="round"/>
<path d="M480.74,96.54 L480.74,145.50 L613.18,145.50 L613.18,96.54" fill="none" stroke="#6e6e6e" stroke-width="1.00" stroke-opacity="1.00" stroke-linejoin="round"/>
<clipPath id="clF"><rect x="467.69" y="194.25" width="167.17" height="122.78"/></clipPath>
<g clip-path="url(#clF)">
<linearGradient id="g7" gradientUnits="userSpaceOnUse" x1="0" y1="244.23" x2="0" y2="349.12"><stop offset="0.1176" stop-color="#ffffff"/><stop offset="0.1765" stop-color="#fcf7f8"/><stop offset="0.2235" stop-color="#f6e7e9"/><stop offset="0.2647" stop-color="#f3d2d5"/><stop offset="0.2941" stop-color="#f1afb1"/><stop offset="0.3118" stop-color="#ef7873"/><stop offset="0.3294" stop-color="#f3a25f"/><stop offset="0.3471" stop-color="#f2e758"/><stop offset="0.3706" stop-color="#91f088"/><stop offset="0.4000" stop-color="#67e3e2"/><stop offset="0.4353" stop-color="#84e7f3"/><stop offset="0.4824" stop-color="#a5e4f7"/><stop offset="0.5176" stop-color="#ceeafb"/><stop offset="0.5588" stop-color="#ecf4fd"/><stop offset="0.6176" stop-color="#f8f9fe"/><stop offset="0.7059" stop-color="#f9f9fe"/></linearGradient>
<path d="M399.47,262.74 A19.05,20.98 0 0 0 361.36,262.74 L355.83,338.63 L355.83,352.20 L405.00,352.20 L405.00,338.63 Z" fill="url(#g7)"/>
<path d="M448.63,262.74 A19.05,20.98 0 0 0 410.53,262.74 L405.00,338.63 L405.00,352.20 L454.17,352.20 L454.17,338.63 Z" fill="url(#g7)"/>
<path d="M497.80,262.74 A19.05,20.98 0 0 0 459.70,262.74 L454.17,338.63 L454.17,352.20 L503.33,352.20 L503.33,338.63 Z" fill="url(#g7)"/>
<path d="M546.97,262.74 A19.05,20.98 0 0 0 508.87,262.74 L503.33,338.63 L503.33,352.20 L552.50,352.20 L552.50,338.63 Z" fill="url(#g7)"/>
<path d="M596.14,262.74 A19.05,20.98 0 0 0 558.03,262.74 L552.50,338.63 L552.50,352.20 L601.67,352.20 L601.67,338.63 Z" fill="url(#g7)"/>
<path d="M645.31,262.74 A19.05,20.98 0 0 0 607.20,262.74 L601.67,338.63 L601.67,352.20 L650.84,352.20 L650.84,338.63 Z" fill="url(#g7)"/>
<path d="M694.47,262.74 A19.05,20.98 0 0 0 656.37,262.74 L650.84,338.63 L650.84,352.20 L700.01,352.20 L700.01,338.63 Z" fill="url(#g7)"/>
<path d="M743.64,262.74 A19.05,20.98 0 0 0 705.54,262.74 L700.01,338.63 L700.01,352.20 L749.17,352.20 L749.17,338.63 Z" fill="url(#g7)"/>
<path d="M792.81,262.74 A19.05,20.98 0 0 0 754.71,262.74 L749.17,338.63 L749.17,352.20 L798.34,352.20 L798.34,338.63 Z" fill="url(#g7)"/>
<path d="M397.01,277.24 L397.01,255.95 A16.59,13.45 0 0 0 363.82,255.95 L363.82,277.24" fill="none" stroke="#a24153" stroke-width="0.90" stroke-opacity="0.62"/>
<path d="M446.18,277.24 L446.18,255.95 A16.59,13.45 0 0 0 412.99,255.95 L412.99,277.24" fill="none" stroke="#a24153" stroke-width="0.90" stroke-opacity="0.62"/>
<path d="M495.34,277.24 L495.34,255.95 A16.59,13.45 0 0 0 462.16,255.95 L462.16,277.24" fill="none" stroke="#a24153" stroke-width="0.90" stroke-opacity="0.62"/>
<path d="M544.51,277.24 L544.51,255.95 A16.59,13.45 0 0 0 511.32,255.95 L511.32,277.24" fill="none" stroke="#a24153" stroke-width="0.90" stroke-opacity="0.62"/>
<path d="M593.68,277.24 L593.68,255.95 A16.59,13.45 0 0 0 560.49,255.95 L560.49,277.24" fill="none" stroke="#a24153" stroke-width="0.90" stroke-opacity="0.62"/>
<path d="M642.85,277.24 L642.85,255.95 A16.59,13.45 0 0 0 609.66,255.95 L609.66,277.24" fill="none" stroke="#a24153" stroke-width="0.90" stroke-opacity="0.62"/>
<path d="M692.02,277.24 L692.02,255.95 A16.59,13.45 0 0 0 658.83,255.95 L658.83,277.24" fill="none" stroke="#a24153" stroke-width="0.90" stroke-opacity="0.62"/>
<path d="M741.18,277.24 L741.18,255.95 A16.59,13.45 0 0 0 708.00,255.95 L708.00,277.24" fill="none" stroke="#a24153" stroke-width="0.90" stroke-opacity="0.62"/>
<path d="M790.35,277.24 L790.35,255.95 A16.59,13.45 0 0 0 757.16,255.95 L757.16,277.24" fill="none" stroke="#a24153" stroke-width="0.90" stroke-opacity="0.62"/>
<path d="M396.39,277.24 L396.39,262.12 A15.98,14.38 0 0 0 364.43,262.12 L364.43,277.24" fill="none" stroke="#aa3e4f" stroke-width="0.90" stroke-opacity="0.62"/>
<path d="M445.56,277.24 L445.56,262.12 A15.98,14.38 0 0 0 413.60,262.12 L413.60,277.24" fill="none" stroke="#aa3e4f" stroke-width="0.90" stroke-opacity="0.62"/>
<path d="M494.73,277.24 L494.73,262.12 A15.98,14.38 0 0 0 462.77,262.12 L462.77,277.24" fill="none" stroke="#aa3e4f" stroke-width="0.90" stroke-opacity="0.62"/>
<path d="M543.90,277.24 L543.90,262.12 A15.98,14.38 0 0 0 511.94,262.12 L511.94,277.24" fill="none" stroke="#aa3e4f" stroke-width="0.90" stroke-opacity="0.62"/>
<path d="M593.07,277.24 L593.07,262.12 A15.98,14.38 0 0 0 561.11,262.12 L561.11,277.24" fill="none" stroke="#aa3e4f" stroke-width="0.90" stroke-opacity="0.62"/>
<path d="M642.23,277.24 L642.23,262.12 A15.98,14.38 0 0 0 610.27,262.12 L610.27,277.24" fill="none" stroke="#aa3e4f" stroke-width="0.90" stroke-opacity="0.62"/>
<path d="M691.40,277.24 L691.40,262.12 A15.98,14.38 0 0 0 659.44,262.12 L659.44,277.24" fill="none" stroke="#aa3e4f" stroke-width="0.90" stroke-opacity="0.62"/>
<path d="M740.57,277.24 L740.57,262.12 A15.98,14.38 0 0 0 708.61,262.12 L708.61,277.24" fill="none" stroke="#aa3e4f" stroke-width="0.90" stroke-opacity="0.62"/>
<path d="M789.74,277.24 L789.74,262.12 A15.98,14.38 0 0 0 757.78,262.12 L757.78,277.24" fill="none" stroke="#aa3e4f" stroke-width="0.90" stroke-opacity="0.62"/>
<path d="M395.47,277.24 L395.47,264.59 A15.06,12.34 0 0 0 365.36,264.59 L365.36,277.24" fill="none" stroke="#b13a4b" stroke-width="0.90" stroke-opacity="0.62"/>
<path d="M444.64,277.24 L444.64,264.59 A15.06,12.34 0 0 0 414.52,264.59 L414.52,277.24" fill="none" stroke="#b13a4b" stroke-width="0.90" stroke-opacity="0.62"/>
<path d="M493.81,277.24 L493.81,264.59 A15.06,12.34 0 0 0 463.69,264.59 L463.69,277.24" fill="none" stroke="#b13a4b" stroke-width="0.90" stroke-opacity="0.62"/>
<path d="M542.98,277.24 L542.98,264.59 A15.06,12.34 0 0 0 512.86,264.59 L512.86,277.24" fill="none" stroke="#b13a4b" stroke-width="0.90" stroke-opacity="0.62"/>
<path d="M592.14,277.24 L592.14,264.59 A15.06,12.34 0 0 0 562.03,264.59 L562.03,277.24" fill="none" stroke="#b13a4b" stroke-width="0.90" stroke-opacity="0.62"/>
<path d="M641.31,277.24 L641.31,264.59 A15.06,12.34 0 0 0 611.20,264.59 L611.20,277.24" fill="none" stroke="#b13a4b" stroke-width="0.90" stroke-opacity="0.62"/>
<path d="M690.48,277.24 L690.48,264.59 A15.06,12.34 0 0 0 660.36,264.59 L660.36,277.24" fill="none" stroke="#b13a4b" stroke-width="0.90" stroke-opacity="0.62"/>
<path d="M739.65,277.24 L739.65,264.59 A15.06,12.34 0 0 0 709.53,264.59 L709.53,277.24" fill="none" stroke="#b13a4b" stroke-width="0.90" stroke-opacity="0.62"/>
<path d="M788.82,277.24 L788.82,264.59 A15.06,12.34 0 0 0 758.70,264.59 L758.70,277.24" fill="none" stroke="#b13a4b" stroke-width="0.90" stroke-opacity="0.62"/>
<path d="M394.86,277.24 L394.86,267.06 A14.44,11.11 0 0 0 365.97,267.06 L365.97,277.24" fill="none" stroke="#b83848" stroke-width="0.90" stroke-opacity="0.62"/>
<path d="M444.03,277.24 L444.03,267.06 A14.44,11.11 0 0 0 415.14,267.06 L415.14,277.24" fill="none" stroke="#b83848" stroke-width="0.90" stroke-opacity="0.62"/>
<path d="M493.19,277.24 L493.19,267.06 A14.44,11.11 0 0 0 464.31,267.06 L464.31,277.24" fill="none" stroke="#b83848" stroke-width="0.90" stroke-opacity="0.62"/>
<path d="M542.36,277.24 L542.36,267.06 A14.44,11.11 0 0 0 513.47,267.06 L513.47,277.24" fill="none" stroke="#b83848" stroke-width="0.90" stroke-opacity="0.62"/>
<path d="M591.53,277.24 L591.53,267.06 A14.44,11.11 0 0 0 562.64,267.06 L562.64,277.24" fill="none" stroke="#b83848" stroke-width="0.90" stroke-opacity="0.62"/>
<path d="M640.70,277.24 L640.70,267.06 A14.44,11.11 0 0 0 611.81,267.06 L611.81,277.24" fill="none" stroke="#b83848" stroke-width="0.90" stroke-opacity="0.62"/>
<path d="M689.87,277.24 L689.87,267.06 A14.44,11.11 0 0 0 660.98,267.06 L660.98,277.24" fill="none" stroke="#b83848" stroke-width="0.90" stroke-opacity="0.62"/>
<path d="M739.03,277.24 L739.03,267.06 A14.44,11.11 0 0 0 710.15,267.06 L710.15,277.24" fill="none" stroke="#b83848" stroke-width="0.90" stroke-opacity="0.62"/>
<path d="M788.20,277.24 L788.20,267.06 A14.44,11.11 0 0 0 759.31,267.06 L759.31,277.24" fill="none" stroke="#b83848" stroke-width="0.90" stroke-opacity="0.62"/>
<path d="M394.24,277.24 L394.24,268.91 A13.83,9.87 0 0 0 366.59,268.91 L366.59,277.24" fill="none" stroke="#be3545" stroke-width="0.90" stroke-opacity="0.62"/>
<path d="M443.41,277.24 L443.41,268.91 A13.83,9.87 0 0 0 415.75,268.91 L415.75,277.24" fill="none" stroke="#be3545" stroke-width="0.90" stroke-opacity="0.62"/>
<path d="M492.58,277.24 L492.58,268.91 A13.83,9.87 0 0 0 464.92,268.91 L464.92,277.24" fill="none" stroke="#be3545" stroke-width="0.90" stroke-opacity="0.62"/>
<path d="M541.75,277.24 L541.75,268.91 A13.83,9.87 0 0 0 514.09,268.91 L514.09,277.24" fill="none" stroke="#be3545" stroke-width="0.90" stroke-opacity="0.62"/>
<path d="M590.91,277.24 L590.91,268.91 A13.83,9.87 0 0 0 563.26,268.91 L563.26,277.24" fill="none" stroke="#be3545" stroke-width="0.90" stroke-opacity="0.62"/>
<path d="M640.08,277.24 L640.08,268.91 A13.83,9.87 0 0 0 612.43,268.91 L612.43,277.24" fill="none" stroke="#be3545" stroke-width="0.90" stroke-opacity="0.62"/>
<path d="M689.25,277.24 L689.25,268.91 A13.83,9.87 0 0 0 661.59,268.91 L661.59,277.24" fill="none" stroke="#be3545" stroke-width="0.90" stroke-opacity="0.62"/>
<path d="M738.42,277.24 L738.42,268.91 A13.83,9.87 0 0 0 710.76,268.91 L710.76,277.24" fill="none" stroke="#be3545" stroke-width="0.90" stroke-opacity="0.62"/>
<path d="M787.59,277.24 L787.59,268.91 A13.83,9.87 0 0 0 759.93,268.91 L759.93,277.24" fill="none" stroke="#be3545" stroke-width="0.90" stroke-opacity="0.62"/>
<path d="M393.63,277.24 L393.63,270.14 A13.21,8.64 0 0 0 367.20,270.14 L367.20,277.24" fill="none" stroke="#c53242" stroke-width="0.90" stroke-opacity="0.62"/>
<path d="M442.80,277.24 L442.80,270.14 A13.21,8.64 0 0 0 416.37,270.14 L416.37,277.24" fill="none" stroke="#c53242" stroke-width="0.90" stroke-opacity="0.62"/>
<path d="M491.96,277.24 L491.96,270.14 A13.21,8.64 0 0 0 465.54,270.14 L465.54,277.24" fill="none" stroke="#c53242" stroke-width="0.90" stroke-opacity="0.62"/>
<path d="M541.13,277.24 L541.13,270.14 A13.21,8.64 0 0 0 514.70,270.14 L514.70,277.24" fill="none" stroke="#c53242" stroke-width="0.90" stroke-opacity="0.62"/>
<path d="M590.30,277.24 L590.30,270.14 A13.21,8.64 0 0 0 563.87,270.14 L563.87,277.24" fill="none" stroke="#c53242" stroke-width="0.90" stroke-opacity="0.62"/>
<path d="M639.47,277.24 L639.47,270.14 A13.21,8.64 0 0 0 613.04,270.14 L613.04,277.24" fill="none" stroke="#c53242" stroke-width="0.90" stroke-opacity="0.62"/>
<path d="M688.64,277.24 L688.64,270.14 A13.21,8.64 0 0 0 662.21,270.14 L662.21,277.24" fill="none" stroke="#c53242" stroke-width="0.90" stroke-opacity="0.62"/>
<path d="M737.80,277.24 L737.80,270.14 A13.21,8.64 0 0 0 711.38,270.14 L711.38,277.24" fill="none" stroke="#c53242" stroke-width="0.90" stroke-opacity="0.62"/>
<path d="M786.97,277.24 L786.97,270.14 A13.21,8.64 0 0 0 760.54,270.14 L760.54,277.24" fill="none" stroke="#c53242" stroke-width="0.90" stroke-opacity="0.62"/>
<path d="M393.01,277.24 L393.01,271.38 A12.60,7.40 0 0 0 367.81,271.38 L367.81,277.24" fill="none" stroke="#cb303f" stroke-width="0.90" stroke-opacity="0.62"/>
<path d="M442.18,277.24 L442.18,271.38 A12.60,7.40 0 0 0 416.98,271.38 L416.98,277.24" fill="none" stroke="#cb303f" stroke-width="0.90" stroke-opacity="0.62"/>
<path d="M491.35,277.24 L491.35,271.38 A12.60,7.40 0 0 0 466.15,271.38 L466.15,277.24" fill="none" stroke="#cb303f" stroke-width="0.90" stroke-opacity="0.62"/>
<path d="M540.52,277.24 L540.52,271.38 A12.60,7.40 0 0 0 515.32,271.38 L515.32,277.24" fill="none" stroke="#cb303f" stroke-width="0.90" stroke-opacity="0.62"/>
<path d="M589.69,277.24 L589.69,271.38 A12.60,7.40 0 0 0 564.49,271.38 L564.49,277.24" fill="none" stroke="#cb303f" stroke-width="0.90" stroke-opacity="0.62"/>
<path d="M638.85,277.24 L638.85,271.38 A12.60,7.40 0 0 0 613.65,271.38 L613.65,277.24" fill="none" stroke="#cb303f" stroke-width="0.90" stroke-opacity="0.62"/>
<path d="M688.02,277.24 L688.02,271.38 A12.60,7.40 0 0 0 662.82,271.38 L662.82,277.24" fill="none" stroke="#cb303f" stroke-width="0.90" stroke-opacity="0.62"/>
<path d="M737.19,277.24 L737.19,271.38 A12.60,7.40 0 0 0 711.99,271.38 L711.99,277.24" fill="none" stroke="#cb303f" stroke-width="0.90" stroke-opacity="0.62"/>
<path d="M786.36,277.24 L786.36,271.38 A12.60,7.40 0 0 0 761.16,271.38 L761.16,277.24" fill="none" stroke="#cb303f" stroke-width="0.90" stroke-opacity="0.62"/>
<path d="M392.40,277.24 L392.40,272.61 A11.98,6.48 0 0 0 368.43,272.61 L368.43,277.24" fill="none" stroke="#d12d3c" stroke-width="0.90" stroke-opacity="0.62"/>
<path d="M441.57,277.24 L441.57,272.61 A11.98,6.48 0 0 0 417.60,272.61 L417.60,277.24" fill="none" stroke="#d12d3c" stroke-width="0.90" stroke-opacity="0.62"/>
<path d="M490.73,277.24 L490.73,272.61 A11.98,6.48 0 0 0 466.77,272.61 L466.77,277.24" fill="none" stroke="#d12d3c" stroke-width="0.90" stroke-opacity="0.62"/>
<path d="M539.90,277.24 L539.90,272.61 A11.98,6.48 0 0 0 515.93,272.61 L515.93,277.24" fill="none" stroke="#d12d3c" stroke-width="0.90" stroke-opacity="0.62"/>
<path d="M589.07,277.24 L589.07,272.61 A11.98,6.48 0 0 0 565.10,272.61 L565.10,277.24" fill="none" stroke="#d12d3c" stroke-width="0.90" stroke-opacity="0.62"/>
<path d="M638.24,277.24 L638.24,272.61 A11.98,6.48 0 0 0 614.27,272.61 L614.27,277.24" fill="none" stroke="#d12d3c" stroke-width="0.90" stroke-opacity="0.62"/>
<path d="M687.41,277.24 L687.41,272.61 A11.98,6.48 0 0 0 663.44,272.61 L663.44,277.24" fill="none" stroke="#d12d3c" stroke-width="0.90" stroke-opacity="0.62"/>
<path d="M736.57,277.24 L736.57,272.61 A11.98,6.48 0 0 0 712.61,272.61 L712.61,277.24" fill="none" stroke="#d12d3c" stroke-width="0.90" stroke-opacity="0.62"/>
<path d="M785.74,277.24 L785.74,272.61 A11.98,6.48 0 0 0 761.77,272.61 L761.77,277.24" fill="none" stroke="#d12d3c" stroke-width="0.90" stroke-opacity="0.62"/>
<path d="M391.78,277.24 L391.78,273.85 A11.37,5.55 0 0 0 369.04,273.85 L369.04,277.24" fill="none" stroke="#d5303c" stroke-width="0.90" stroke-opacity="0.62"/>
<path d="M440.95,277.24 L440.95,273.85 A11.37,5.55 0 0 0 418.21,273.85 L418.21,277.24" fill="none" stroke="#d5303c" stroke-width="0.90" stroke-opacity="0.62"/>
<path d="M490.12,277.24 L490.12,273.85 A11.37,5.55 0 0 0 467.38,273.85 L467.38,277.24" fill="none" stroke="#d5303c" stroke-width="0.90" stroke-opacity="0.62"/>
<path d="M539.29,277.24 L539.29,273.85 A11.37,5.55 0 0 0 516.55,273.85 L516.55,277.24" fill="none" stroke="#d5303c" stroke-width="0.90" stroke-opacity="0.62"/>
<path d="M588.46,277.24 L588.46,273.85 A11.37,5.55 0 0 0 565.72,273.85 L565.72,277.24" fill="none" stroke="#d5303c" stroke-width="0.90" stroke-opacity="0.62"/>
<path d="M637.62,277.24 L637.62,273.85 A11.37,5.55 0 0 0 614.88,273.85 L614.88,277.24" fill="none" stroke="#d5303c" stroke-width="0.90" stroke-opacity="0.62"/>
<path d="M686.79,277.24 L686.79,273.85 A11.37,5.55 0 0 0 664.05,273.85 L664.05,277.24" fill="none" stroke="#d5303c" stroke-width="0.90" stroke-opacity="0.62"/>
<path d="M735.96,277.24 L735.96,273.85 A11.37,5.55 0 0 0 713.22,273.85 L713.22,277.24" fill="none" stroke="#d5303c" stroke-width="0.90" stroke-opacity="0.62"/>
<path d="M785.13,277.24 L785.13,273.85 A11.37,5.55 0 0 0 762.39,273.85 L762.39,277.24" fill="none" stroke="#d5303c" stroke-width="0.90" stroke-opacity="0.62"/>
<path d="M391.48,277.24 L391.48,274.77 A11.06,4.63 0 0 0 369.35,274.77 L369.35,277.24" fill="none" stroke="#d8333c" stroke-width="0.90" stroke-opacity="0.62"/>
<path d="M440.64,277.24 L440.64,274.77 A11.06,4.63 0 0 0 418.52,274.77 L418.52,277.24" fill="none" stroke="#d8333c" stroke-width="0.90" stroke-opacity="0.62"/>
<path d="M489.81,277.24 L489.81,274.77 A11.06,4.63 0 0 0 467.69,274.77 L467.69,277.24" fill="none" stroke="#d8333c" stroke-width="0.90" stroke-opacity="0.62"/>
<path d="M538.98,277.24 L538.98,274.77 A11.06,4.63 0 0 0 516.86,274.77 L516.86,277.24" fill="none" stroke="#d8333c" stroke-width="0.90" stroke-opacity="0.62"/>
<path d="M588.15,277.24 L588.15,274.77 A11.06,4.63 0 0 0 566.02,274.77 L566.02,277.24" fill="none" stroke="#d8333c" stroke-width="0.90" stroke-opacity="0.62"/>
<path d="M637.32,277.24 L637.32,274.77 A11.06,4.63 0 0 0 615.19,274.77 L615.19,277.24" fill="none" stroke="#d8333c" stroke-width="0.90" stroke-opacity="0.62"/>
<path d="M686.48,277.24 L686.48,274.77 A11.06,4.63 0 0 0 664.36,274.77 L664.36,277.24" fill="none" stroke="#d8333c" stroke-width="0.90" stroke-opacity="0.62"/>
<path d="M735.65,277.24 L735.65,274.77 A11.06,4.63 0 0 0 713.53,274.77 L713.53,277.24" fill="none" stroke="#d8333c" stroke-width="0.90" stroke-opacity="0.62"/>
<path d="M784.82,277.24 L784.82,274.77 A11.06,4.63 0 0 0 762.70,274.77 L762.70,277.24" fill="none" stroke="#d8333c" stroke-width="0.90" stroke-opacity="0.62"/>
<path d="M390.99,277.24 L390.99,275.70 A10.57,4.01 0 0 0 369.84,275.70 L369.84,277.24" fill="none" stroke="#db363c" stroke-width="0.90" stroke-opacity="0.62"/>
<path d="M440.15,277.24 L440.15,275.70 A10.57,4.01 0 0 0 419.01,275.70 L419.01,277.24" fill="none" stroke="#db363c" stroke-width="0.90" stroke-opacity="0.62"/>
<path d="M489.32,277.24 L489.32,275.70 A10.57,4.01 0 0 0 468.18,275.70 L468.18,277.24" fill="none" stroke="#db363c" stroke-width="0.90" stroke-opacity="0.62"/>
<path d="M538.49,277.24 L538.49,275.70 A10.57,4.01 0 0 0 517.35,275.70 L517.35,277.24" fill="none" stroke="#db363c" stroke-width="0.90" stroke-opacity="0.62"/>
<path d="M587.66,277.24 L587.66,275.70 A10.57,4.01 0 0 0 566.51,275.70 L566.51,277.24" fill="none" stroke="#db363c" stroke-width="0.90" stroke-opacity="0.62"/>
<path d="M636.83,277.24 L636.83,275.70 A10.57,4.01 0 0 0 615.68,275.70 L615.68,277.24" fill="none" stroke="#db363c" stroke-width="0.90" stroke-opacity="0.62"/>
<path d="M685.99,277.24 L685.99,275.70 A10.57,4.01 0 0 0 664.85,275.70 L664.85,277.24" fill="none" stroke="#db363c" stroke-width="0.90" stroke-opacity="0.62"/>
<path d="M735.16,277.24 L735.16,275.70 A10.57,4.01 0 0 0 714.02,275.70 L714.02,277.24" fill="none" stroke="#db363c" stroke-width="0.90" stroke-opacity="0.62"/>
<path d="M784.33,277.24 L784.33,275.70 A10.57,4.01 0 0 0 763.19,275.70 L763.19,277.24" fill="none" stroke="#db363c" stroke-width="0.90" stroke-opacity="0.62"/>
<path d="M390.62,277.24 L390.62,276.31 A10.20,3.08 0 0 0 370.21,276.31 L370.21,277.24" fill="none" stroke="#de393c" stroke-width="0.90" stroke-opacity="0.62"/>
<path d="M439.78,277.24 L439.78,276.31 A10.20,3.08 0 0 0 419.38,276.31 L419.38,277.24" fill="none" stroke="#de393c" stroke-width="0.90" stroke-opacity="0.62"/>
<path d="M488.95,277.24 L488.95,276.31 A10.20,3.08 0 0 0 468.55,276.31 L468.55,277.24" fill="none" stroke="#de393c" stroke-width="0.90" stroke-opacity="0.62"/>
<path d="M538.12,277.24 L538.12,276.31 A10.20,3.08 0 0 0 517.72,276.31 L517.72,277.24" fill="none" stroke="#de393c" stroke-width="0.90" stroke-opacity="0.62"/>
<path d="M587.29,277.24 L587.29,276.31 A10.20,3.08 0 0 0 566.88,276.31 L566.88,277.24" fill="none" stroke="#de393c" stroke-width="0.90" stroke-opacity="0.62"/>
<path d="M636.46,277.24 L636.46,276.31 A10.20,3.08 0 0 0 616.05,276.31 L616.05,277.24" fill="none" stroke="#de393c" stroke-width="0.90" stroke-opacity="0.62"/>
<path d="M685.62,277.24 L685.62,276.31 A10.20,3.08 0 0 0 665.22,276.31 L665.22,277.24" fill="none" stroke="#de393c" stroke-width="0.90" stroke-opacity="0.62"/>
<path d="M734.79,277.24 L734.79,276.31 A10.20,3.08 0 0 0 714.39,276.31 L714.39,277.24" fill="none" stroke="#de393c" stroke-width="0.90" stroke-opacity="0.62"/>
<path d="M783.96,277.24 L783.96,276.31 A10.20,3.08 0 0 0 763.56,276.31 L763.56,277.24" fill="none" stroke="#de393c" stroke-width="0.90" stroke-opacity="0.62"/>
<path d="M390.37,277.24 L390.37,276.81 A9.96,2.34 0 0 0 370.46,276.81 L370.46,277.24" fill="none" stroke="#e13c3c" stroke-width="0.90" stroke-opacity="0.62"/>
<path d="M439.54,277.24 L439.54,276.81 A9.96,2.34 0 0 0 419.63,276.81 L419.63,277.24" fill="none" stroke="#e13c3c" stroke-width="0.90" stroke-opacity="0.62"/>
<path d="M488.71,277.24 L488.71,276.81 A9.96,2.34 0 0 0 468.79,276.81 L468.79,277.24" fill="none" stroke="#e13c3c" stroke-width="0.90" stroke-opacity="0.62"/>
<path d="M537.87,277.24 L537.87,276.81 A9.96,2.34 0 0 0 517.96,276.81 L517.96,277.24" fill="none" stroke="#e13c3c" stroke-width="0.90" stroke-opacity="0.62"/>
<path d="M587.04,277.24 L587.04,276.81 A9.96,2.34 0 0 0 567.13,276.81 L567.13,277.24" fill="none" stroke="#e13c3c" stroke-width="0.90" stroke-opacity="0.62"/>
<path d="M636.21,277.24 L636.21,276.81 A9.96,2.34 0 0 0 616.30,276.81 L616.30,277.24" fill="none" stroke="#e13c3c" stroke-width="0.90" stroke-opacity="0.62"/>
<path d="M685.38,277.24 L685.38,276.81 A9.96,2.34 0 0 0 665.47,276.81 L665.47,277.24" fill="none" stroke="#e13c3c" stroke-width="0.90" stroke-opacity="0.62"/>
<path d="M734.55,277.24 L734.55,276.81 A9.96,2.34 0 0 0 714.63,276.81 L714.63,277.24" fill="none" stroke="#e13c3c" stroke-width="0.90" stroke-opacity="0.62"/>
<path d="M783.71,277.24 L783.71,276.81 A9.96,2.34 0 0 0 763.80,276.81 L763.80,277.24" fill="none" stroke="#e13c3c" stroke-width="0.90" stroke-opacity="0.62"/>
<ellipse cx="405.00" cy="245.59" rx="7.99" ry="8.58" fill="none" stroke="#a24153" stroke-width="0.90" stroke-opacity="0.62"/>
<ellipse cx="405.00" cy="247.62" rx="4.36" ry="3.95" fill="none" stroke="#b73849" stroke-width="0.90" stroke-opacity="0.62"/>
<ellipse cx="405.00" cy="247.75" rx="1.84" ry="2.04" fill="none" stroke="#c73141" stroke-width="0.90" stroke-opacity="0.62"/>
<ellipse cx="454.17" cy="245.59" rx="7.99" ry="8.58" fill="none" stroke="#a24153" stroke-width="0.90" stroke-opacity="0.62"/>
<ellipse cx="454.17" cy="247.62" rx="4.36" ry="3.95" fill="none" stroke="#b73849" stroke-width="0.90" stroke-opacity="0.62"/>
<ellipse cx="454.17" cy="247.75" rx="1.84" ry="2.04" fill="none" stroke="#c73141" stroke-width="0.90" stroke-opacity="0.62"/>
<ellipse cx="503.33" cy="245.59" rx="7.99" ry="8.58" fill="none" stroke="#a24153" stroke-width="0.90" stroke-opacity="0.62"/>
<ellipse cx="503.33" cy="247.62" rx="4.36" ry="3.95" fill="none" stroke="#b73849" stroke-width="0.90" stroke-opacity="0.62"/>
<ellipse cx="503.33" cy="247.75" rx="1.84" ry="2.04" fill="none" stroke="#c73141" stroke-width="0.90" stroke-opacity="0.62"/>
<ellipse cx="552.50" cy="245.59" rx="7.99" ry="8.58" fill="none" stroke="#a24153" stroke-width="0.90" stroke-opacity="0.62"/>
<ellipse cx="552.50" cy="247.62" rx="4.36" ry="3.95" fill="none" stroke="#b73849" stroke-width="0.90" stroke-opacity="0.62"/>
<ellipse cx="552.50" cy="247.75" rx="1.84" ry="2.04" fill="none" stroke="#c73141" stroke-width="0.90" stroke-opacity="0.62"/>
<ellipse cx="601.67" cy="245.59" rx="7.99" ry="8.58" fill="none" stroke="#a24153" stroke-width="0.90" stroke-opacity="0.62"/>
<ellipse cx="601.67" cy="247.62" rx="4.36" ry="3.95" fill="none" stroke="#b73849" stroke-width="0.90" stroke-opacity="0.62"/>
<ellipse cx="601.67" cy="247.75" rx="1.84" ry="2.04" fill="none" stroke="#c73141" stroke-width="0.90" stroke-opacity="0.62"/>
<ellipse cx="650.84" cy="245.59" rx="7.99" ry="8.58" fill="none" stroke="#a24153" stroke-width="0.90" stroke-opacity="0.62"/>
<ellipse cx="650.84" cy="247.62" rx="4.36" ry="3.95" fill="none" stroke="#b73849" stroke-width="0.90" stroke-opacity="0.62"/>
<ellipse cx="650.84" cy="247.75" rx="1.84" ry="2.04" fill="none" stroke="#c73141" stroke-width="0.90" stroke-opacity="0.62"/>
<ellipse cx="700.01" cy="245.59" rx="7.99" ry="8.58" fill="none" stroke="#a24153" stroke-width="0.90" stroke-opacity="0.62"/>
<ellipse cx="700.01" cy="247.62" rx="4.36" ry="3.95" fill="none" stroke="#b73849" stroke-width="0.90" stroke-opacity="0.62"/>
<ellipse cx="700.01" cy="247.75" rx="1.84" ry="2.04" fill="none" stroke="#c73141" stroke-width="0.90" stroke-opacity="0.62"/>
<ellipse cx="749.17" cy="245.59" rx="7.99" ry="8.58" fill="none" stroke="#a24153" stroke-width="0.90" stroke-opacity="0.62"/>
<ellipse cx="749.17" cy="247.62" rx="4.36" ry="3.95" fill="none" stroke="#b73849" stroke-width="0.90" stroke-opacity="0.62"/>
<ellipse cx="749.17" cy="247.75" rx="1.84" ry="2.04" fill="none" stroke="#c73141" stroke-width="0.90" stroke-opacity="0.62"/>
<ellipse cx="798.34" cy="245.59" rx="7.99" ry="8.58" fill="none" stroke="#a24153" stroke-width="0.90" stroke-opacity="0.62"/>
<ellipse cx="798.34" cy="247.62" rx="4.36" ry="3.95" fill="none" stroke="#b73849" stroke-width="0.90" stroke-opacity="0.62"/>
<ellipse cx="798.34" cy="247.75" rx="1.84" ry="2.04" fill="none" stroke="#c73141" stroke-width="0.90" stroke-opacity="0.62"/>
<path d="M398.63,308.26 A18.22,10.97 0 0 0 362.20,308.26" fill="none" stroke="#3d9ff0" stroke-width="0.90" stroke-opacity="0.65"/>
<path d="M447.80,308.26 A18.22,10.97 0 0 0 411.37,308.26" fill="none" stroke="#3d9ff0" stroke-width="0.90" stroke-opacity="0.65"/>
<path d="M496.97,308.26 A18.22,10.97 0 0 0 460.53,308.26" fill="none" stroke="#3d9ff0" stroke-width="0.90" stroke-opacity="0.65"/>
<path d="M546.13,308.26 A18.22,10.97 0 0 0 509.70,308.26" fill="none" stroke="#3d9ff0" stroke-width="0.90" stroke-opacity="0.65"/>
<path d="M595.30,308.26 A18.22,10.97 0 0 0 558.87,308.26" fill="none" stroke="#3d9ff0" stroke-width="0.90" stroke-opacity="0.65"/>
<path d="M644.47,308.26 A18.22,10.97 0 0 0 608.04,308.26" fill="none" stroke="#3d9ff0" stroke-width="0.90" stroke-opacity="0.65"/>
<path d="M693.64,308.26 A18.22,10.97 0 0 0 657.21,308.26" fill="none" stroke="#3d9ff0" stroke-width="0.90" stroke-opacity="0.65"/>
<path d="M742.81,308.26 A18.22,10.97 0 0 0 706.37,308.26" fill="none" stroke="#3d9ff0" stroke-width="0.90" stroke-opacity="0.65"/>
<path d="M791.97,308.26 A18.22,10.97 0 0 0 755.54,308.26" fill="none" stroke="#3d9ff0" stroke-width="0.90" stroke-opacity="0.65"/>
<path d="M399.05,310.24 A18.64,11.22 0 0 0 361.78,310.24" fill="none" stroke="#3f97f0" stroke-width="0.90" stroke-opacity="0.65"/>
<path d="M448.22,310.24 A18.64,11.22 0 0 0 410.95,310.24" fill="none" stroke="#3f97f0" stroke-width="0.90" stroke-opacity="0.65"/>
<path d="M497.39,310.24 A18.64,11.22 0 0 0 460.11,310.24" fill="none" stroke="#3f97f0" stroke-width="0.90" stroke-opacity="0.65"/>
<path d="M546.55,310.24 A18.64,11.22 0 0 0 509.28,310.24" fill="none" stroke="#3f97f0" stroke-width="0.90" stroke-opacity="0.65"/>
<path d="M595.72,310.24 A18.64,11.22 0 0 0 558.45,310.24" fill="none" stroke="#3f97f0" stroke-width="0.90" stroke-opacity="0.65"/>
<path d="M644.89,310.24 A18.64,11.22 0 0 0 607.62,310.24" fill="none" stroke="#3f97f0" stroke-width="0.90" stroke-opacity="0.65"/>
<path d="M694.06,310.24 A18.64,11.22 0 0 0 656.79,310.24" fill="none" stroke="#3f97f0" stroke-width="0.90" stroke-opacity="0.65"/>
<path d="M743.23,310.24 A18.64,11.22 0 0 0 705.95,310.24" fill="none" stroke="#3f97f0" stroke-width="0.90" stroke-opacity="0.65"/>
<path d="M792.39,310.24 A18.64,11.22 0 0 0 755.12,310.24" fill="none" stroke="#3f97f0" stroke-width="0.90" stroke-opacity="0.65"/>
<path d="M399.47,312.23 A19.06,11.48 0 0 0 361.36,312.23" fill="none" stroke="#418fef" stroke-width="0.90" stroke-opacity="0.65"/>
<path d="M448.64,312.23 A19.06,11.48 0 0 0 410.53,312.23" fill="none" stroke="#418fef" stroke-width="0.90" stroke-opacity="0.65"/>
<path d="M497.81,312.23 A19.06,11.48 0 0 0 459.69,312.23" fill="none" stroke="#418fef" stroke-width="0.90" stroke-opacity="0.65"/>
<path d="M546.97,312.23 A19.06,11.48 0 0 0 508.86,312.23" fill="none" stroke="#418fef" stroke-width="0.90" stroke-opacity="0.65"/>
<path d="M596.14,312.23 A19.06,11.48 0 0 0 558.03,312.23" fill="none" stroke="#418fef" stroke-width="0.90" stroke-opacity="0.65"/>
<path d="M645.31,312.23 A19.06,11.48 0 0 0 607.20,312.23" fill="none" stroke="#418fef" stroke-width="0.90" stroke-opacity="0.65"/>
<path d="M694.48,312.23 A19.06,11.48 0 0 0 656.37,312.23" fill="none" stroke="#418fef" stroke-width="0.90" stroke-opacity="0.65"/>
<path d="M743.65,312.23 A19.06,11.48 0 0 0 705.53,312.23" fill="none" stroke="#418fef" stroke-width="0.90" stroke-opacity="0.65"/>
<path d="M792.81,312.23 A19.06,11.48 0 0 0 754.70,312.23" fill="none" stroke="#418fef" stroke-width="0.90" stroke-opacity="0.65"/>
<path d="M399.89,314.21 A19.48,11.73 0 0 0 360.94,314.21" fill="none" stroke="#4387ef" stroke-width="0.90" stroke-opacity="0.65"/>
<path d="M449.06,314.21 A19.48,11.73 0 0 0 410.11,314.21" fill="none" stroke="#4387ef" stroke-width="0.90" stroke-opacity="0.65"/>
<path d="M498.23,314.21 A19.48,11.73 0 0 0 459.27,314.21" fill="none" stroke="#4387ef" stroke-width="0.90" stroke-opacity="0.65"/>
<path d="M547.39,314.21 A19.48,11.73 0 0 0 508.44,314.21" fill="none" stroke="#4387ef" stroke-width="0.90" stroke-opacity="0.65"/>
<path d="M596.56,314.21 A19.48,11.73 0 0 0 557.61,314.21" fill="none" stroke="#4387ef" stroke-width="0.90" stroke-opacity="0.65"/>
<path d="M645.73,314.21 A19.48,11.73 0 0 0 606.78,314.21" fill="none" stroke="#4387ef" stroke-width="0.90" stroke-opacity="0.65"/>
<path d="M694.90,314.21 A19.48,11.73 0 0 0 655.95,314.21" fill="none" stroke="#4387ef" stroke-width="0.90" stroke-opacity="0.65"/>
<path d="M744.07,314.21 A19.48,11.73 0 0 0 705.11,314.21" fill="none" stroke="#4387ef" stroke-width="0.90" stroke-opacity="0.65"/>
<path d="M793.23,314.21 A19.48,11.73 0 0 0 754.28,314.21" fill="none" stroke="#4387ef" stroke-width="0.90" stroke-opacity="0.65"/>
<path d="M400.31,316.19 A19.90,11.98 0 0 0 360.52,316.19" fill="none" stroke="#457eef" stroke-width="0.90" stroke-opacity="0.65"/>
<path d="M449.48,316.19 A19.90,11.98 0 0 0 409.69,316.19" fill="none" stroke="#457eef" stroke-width="0.90" stroke-opacity="0.65"/>
<path d="M498.65,316.19 A19.90,11.98 0 0 0 458.85,316.19" fill="none" stroke="#457eef" stroke-width="0.90" stroke-opacity="0.65"/>
<path d="M547.81,316.19 A19.90,11.98 0 0 0 508.02,316.19" fill="none" stroke="#457eef" stroke-width="0.90" stroke-opacity="0.65"/>
<path d="M596.98,316.19 A19.90,11.98 0 0 0 557.19,316.19" fill="none" stroke="#457eef" stroke-width="0.90" stroke-opacity="0.65"/>
<path d="M646.15,316.19 A19.90,11.98 0 0 0 606.36,316.19" fill="none" stroke="#457eef" stroke-width="0.90" stroke-opacity="0.65"/>
<path d="M695.32,316.19 A19.90,11.98 0 0 0 655.53,316.19" fill="none" stroke="#457eef" stroke-width="0.90" stroke-opacity="0.65"/>
<path d="M744.49,316.19 A19.90,11.98 0 0 0 704.69,316.19" fill="none" stroke="#457eef" stroke-width="0.90" stroke-opacity="0.65"/>
<path d="M793.65,316.19 A19.90,11.98 0 0 0 753.86,316.19" fill="none" stroke="#457eef" stroke-width="0.90" stroke-opacity="0.65"/>
<path d="M400.73,318.17 A20.32,12.24 0 0 0 360.10,318.17" fill="none" stroke="#4776ef" stroke-width="0.90" stroke-opacity="0.65"/>
<path d="M449.90,318.17 A20.32,12.24 0 0 0 409.27,318.17" fill="none" stroke="#4776ef" stroke-width="0.90" stroke-opacity="0.65"/>
<path d="M499.07,318.17 A20.32,12.24 0 0 0 458.43,318.17" fill="none" stroke="#4776ef" stroke-width="0.90" stroke-opacity="0.65"/>
<path d="M548.23,318.17 A20.32,12.24 0 0 0 507.60,318.17" fill="none" stroke="#4776ef" stroke-width="0.90" stroke-opacity="0.65"/>
<path d="M597.40,318.17 A20.32,12.24 0 0 0 556.77,318.17" fill="none" stroke="#4776ef" stroke-width="0.90" stroke-opacity="0.65"/>
<path d="M646.57,318.17 A20.32,12.24 0 0 0 605.94,318.17" fill="none" stroke="#4776ef" stroke-width="0.90" stroke-opacity="0.65"/>
<path d="M695.74,318.17 A20.32,12.24 0 0 0 655.11,318.17" fill="none" stroke="#4776ef" stroke-width="0.90" stroke-opacity="0.65"/>
<path d="M744.91,318.17 A20.32,12.24 0 0 0 704.27,318.17" fill="none" stroke="#4776ef" stroke-width="0.90" stroke-opacity="0.65"/>
<path d="M794.07,318.17 A20.32,12.24 0 0 0 753.44,318.17" fill="none" stroke="#4776ef" stroke-width="0.90" stroke-opacity="0.65"/>
<path d="M401.15,320.15 A20.74,12.49 0 0 0 359.68,320.15" fill="none" stroke="#496eee" stroke-width="0.90" stroke-opacity="0.65"/>
<path d="M450.32,320.15 A20.74,12.49 0 0 0 408.85,320.15" fill="none" stroke="#496eee" stroke-width="0.90" stroke-opacity="0.65"/>
<path d="M499.49,320.15 A20.74,12.49 0 0 0 458.01,320.15" fill="none" stroke="#496eee" stroke-width="0.90" stroke-opacity="0.65"/>
<path d="M548.65,320.15 A20.74,12.49 0 0 0 507.18,320.15" fill="none" stroke="#496eee" stroke-width="0.90" stroke-opacity="0.65"/>
<path d="M597.82,320.15 A20.74,12.49 0 0 0 556.35,320.15" fill="none" stroke="#496eee" stroke-width="0.90" stroke-opacity="0.65"/>
<path d="M646.99,320.15 A20.74,12.49 0 0 0 605.52,320.15" fill="none" stroke="#496eee" stroke-width="0.90" stroke-opacity="0.65"/>
<path d="M696.16,320.15 A20.74,12.49 0 0 0 654.69,320.15" fill="none" stroke="#496eee" stroke-width="0.90" stroke-opacity="0.65"/>
<path d="M745.33,320.15 A20.74,12.49 0 0 0 703.85,320.15" fill="none" stroke="#496eee" stroke-width="0.90" stroke-opacity="0.65"/>
<path d="M794.49,320.15 A20.74,12.49 0 0 0 753.02,320.15" fill="none" stroke="#496eee" stroke-width="0.90" stroke-opacity="0.65"/>
<path d="M401.57,322.13 A21.16,12.74 0 0 0 359.26,322.13" fill="none" stroke="#4a66ee" stroke-width="0.90" stroke-opacity="0.65"/>
<path d="M450.74,322.13 A21.16,12.74 0 0 0 408.43,322.13" fill="none" stroke="#4a66ee" stroke-width="0.90" stroke-opacity="0.65"/>
<path d="M499.91,322.13 A21.16,12.74 0 0 0 457.59,322.13" fill="none" stroke="#4a66ee" stroke-width="0.90" stroke-opacity="0.65"/>
<path d="M549.07,322.13 A21.16,12.74 0 0 0 506.76,322.13" fill="none" stroke="#4a66ee" stroke-width="0.90" stroke-opacity="0.65"/>
<path d="M598.24,322.13 A21.16,12.74 0 0 0 555.93,322.13" fill="none" stroke="#4a66ee" stroke-width="0.90" stroke-opacity="0.65"/>
<path d="M647.41,322.13 A21.16,12.74 0 0 0 605.10,322.13" fill="none" stroke="#4a66ee" stroke-width="0.90" stroke-opacity="0.65"/>
<path d="M696.58,322.13 A21.16,12.74 0 0 0 654.27,322.13" fill="none" stroke="#4a66ee" stroke-width="0.90" stroke-opacity="0.65"/>
<path d="M745.75,322.13 A21.16,12.74 0 0 0 703.43,322.13" fill="none" stroke="#4a66ee" stroke-width="0.90" stroke-opacity="0.65"/>
<path d="M794.91,322.13 A21.16,12.74 0 0 0 752.60,322.13" fill="none" stroke="#4a66ee" stroke-width="0.90" stroke-opacity="0.65"/>
<path d="M401.99,324.11 A21.58,13.00 0 0 0 358.84,324.11" fill="none" stroke="#4c5eed" stroke-width="0.90" stroke-opacity="0.65"/>
<path d="M451.16,324.11 A21.58,13.00 0 0 0 408.00,324.11" fill="none" stroke="#4c5eed" stroke-width="0.90" stroke-opacity="0.65"/>
<path d="M500.33,324.11 A21.58,13.00 0 0 0 457.17,324.11" fill="none" stroke="#4c5eed" stroke-width="0.90" stroke-opacity="0.65"/>
<path d="M549.50,324.11 A21.58,13.00 0 0 0 506.34,324.11" fill="none" stroke="#4c5eed" stroke-width="0.90" stroke-opacity="0.65"/>
<path d="M598.66,324.11 A21.58,13.00 0 0 0 555.51,324.11" fill="none" stroke="#4c5eed" stroke-width="0.90" stroke-opacity="0.65"/>
<path d="M647.83,324.11 A21.58,13.00 0 0 0 604.68,324.11" fill="none" stroke="#4c5eed" stroke-width="0.90" stroke-opacity="0.65"/>
<path d="M697.00,324.11 A21.58,13.00 0 0 0 653.84,324.11" fill="none" stroke="#4c5eed" stroke-width="0.90" stroke-opacity="0.65"/>
<path d="M746.17,324.11 A21.58,13.00 0 0 0 703.01,324.11" fill="none" stroke="#4c5eed" stroke-width="0.90" stroke-opacity="0.65"/>
<path d="M795.34,324.11 A21.58,13.00 0 0 0 752.18,324.11" fill="none" stroke="#4c5eed" stroke-width="0.90" stroke-opacity="0.65"/>
<path d="M402.41,326.09 A22.00,13.25 0 0 0 358.42,326.09" fill="none" stroke="#4a58e8" stroke-width="0.90" stroke-opacity="0.65"/>
<path d="M451.58,326.09 A22.00,13.25 0 0 0 407.58,326.09" fill="none" stroke="#4a58e8" stroke-width="0.90" stroke-opacity="0.65"/>
<path d="M500.75,326.09 A22.00,13.25 0 0 0 456.75,326.09" fill="none" stroke="#4a58e8" stroke-width="0.90" stroke-opacity="0.65"/>
<path d="M549.92,326.09 A22.00,13.25 0 0 0 505.92,326.09" fill="none" stroke="#4a58e8" stroke-width="0.90" stroke-opacity="0.65"/>
<path d="M599.08,326.09 A22.00,13.25 0 0 0 555.09,326.09" fill="none" stroke="#4a58e8" stroke-width="0.90" stroke-opacity="0.65"/>
<path d="M648.25,326.09 A22.00,13.25 0 0 0 604.26,326.09" fill="none" stroke="#4a58e8" stroke-width="0.90" stroke-opacity="0.65"/>
<path d="M697.42,326.09 A22.00,13.25 0 0 0 653.42,326.09" fill="none" stroke="#4a58e8" stroke-width="0.90" stroke-opacity="0.65"/>
<path d="M746.59,326.09 A22.00,13.25 0 0 0 702.59,326.09" fill="none" stroke="#4a58e8" stroke-width="0.90" stroke-opacity="0.65"/>
<path d="M795.76,326.09 A22.00,13.25 0 0 0 751.76,326.09" fill="none" stroke="#4a58e8" stroke-width="0.90" stroke-opacity="0.65"/>
<path d="M402.83,328.07 A22.42,13.50 0 0 0 358.00,328.07" fill="none" stroke="#4852e4" stroke-width="0.90" stroke-opacity="0.65"/>
<path d="M452.00,328.07 A22.42,13.50 0 0 0 407.16,328.07" fill="none" stroke="#4852e4" stroke-width="0.90" stroke-opacity="0.65"/>
<path d="M501.17,328.07 A22.42,13.50 0 0 0 456.33,328.07" fill="none" stroke="#4852e4" stroke-width="0.90" stroke-opacity="0.65"/>
<path d="M550.34,328.07 A22.42,13.50 0 0 0 505.50,328.07" fill="none" stroke="#4852e4" stroke-width="0.90" stroke-opacity="0.65"/>
<path d="M599.50,328.07 A22.42,13.50 0 0 0 554.67,328.07" fill="none" stroke="#4852e4" stroke-width="0.90" stroke-opacity="0.65"/>
<path d="M648.67,328.07 A22.42,13.50 0 0 0 603.84,328.07" fill="none" stroke="#4852e4" stroke-width="0.90" stroke-opacity="0.65"/>
<path d="M697.84,328.07 A22.42,13.50 0 0 0 653.00,328.07" fill="none" stroke="#4852e4" stroke-width="0.90" stroke-opacity="0.65"/>
<path d="M747.01,328.07 A22.42,13.50 0 0 0 702.17,328.07" fill="none" stroke="#4852e4" stroke-width="0.90" stroke-opacity="0.65"/>
<path d="M796.18,328.07 A22.42,13.50 0 0 0 751.34,328.07" fill="none" stroke="#4852e4" stroke-width="0.90" stroke-opacity="0.65"/>
<path d="M403.25,330.05 A22.84,13.76 0 0 0 357.58,330.05" fill="none" stroke="#464cdf" stroke-width="0.90" stroke-opacity="0.65"/>
<path d="M452.42,330.05 A22.84,13.76 0 0 0 406.74,330.05" fill="none" stroke="#464cdf" stroke-width="0.90" stroke-opacity="0.65"/>
<path d="M501.59,330.05 A22.84,13.76 0 0 0 455.91,330.05" fill="none" stroke="#464cdf" stroke-width="0.90" stroke-opacity="0.65"/>
<path d="M550.76,330.05 A22.84,13.76 0 0 0 505.08,330.05" fill="none" stroke="#464cdf" stroke-width="0.90" stroke-opacity="0.65"/>
<path d="M599.92,330.05 A22.84,13.76 0 0 0 554.25,330.05" fill="none" stroke="#464cdf" stroke-width="0.90" stroke-opacity="0.65"/>
<path d="M649.09,330.05 A22.84,13.76 0 0 0 603.42,330.05" fill="none" stroke="#464cdf" stroke-width="0.90" stroke-opacity="0.65"/>
<path d="M698.26,330.05 A22.84,13.76 0 0 0 652.58,330.05" fill="none" stroke="#464cdf" stroke-width="0.90" stroke-opacity="0.65"/>
<path d="M747.43,330.05 A22.84,13.76 0 0 0 701.75,330.05" fill="none" stroke="#464cdf" stroke-width="0.90" stroke-opacity="0.65"/>
<path d="M796.60,330.05 A22.84,13.76 0 0 0 750.92,330.05" fill="none" stroke="#464cdf" stroke-width="0.90" stroke-opacity="0.65"/>
<path d="M403.67,332.03 A23.26,14.01 0 0 0 357.16,332.03" fill="none" stroke="#4546da" stroke-width="0.90" stroke-opacity="0.65"/>
<path d="M452.84,332.03 A23.26,14.01 0 0 0 406.32,332.03" fill="none" stroke="#4546da" stroke-width="0.90" stroke-opacity="0.65"/>
<path d="M502.01,332.03 A23.26,14.01 0 0 0 455.49,332.03" fill="none" stroke="#4546da" stroke-width="0.90" stroke-opacity="0.65"/>
<path d="M551.18,332.03 A23.26,14.01 0 0 0 504.66,332.03" fill="none" stroke="#4546da" stroke-width="0.90" stroke-opacity="0.65"/>
<path d="M600.34,332.03 A23.26,14.01 0 0 0 553.83,332.03" fill="none" stroke="#4546da" stroke-width="0.90" stroke-opacity="0.65"/>
<path d="M649.51,332.03 A23.26,14.01 0 0 0 603.00,332.03" fill="none" stroke="#4546da" stroke-width="0.90" stroke-opacity="0.65"/>
<path d="M698.68,332.03 A23.26,14.01 0 0 0 652.16,332.03" fill="none" stroke="#4546da" stroke-width="0.90" stroke-opacity="0.65"/>
<path d="M747.85,332.03 A23.26,14.01 0 0 0 701.33,332.03" fill="none" stroke="#4546da" stroke-width="0.90" stroke-opacity="0.65"/>
<path d="M797.02,332.03 A23.26,14.01 0 0 0 750.50,332.03" fill="none" stroke="#4546da" stroke-width="0.90" stroke-opacity="0.65"/>
<path d="M404.09,334.01 A23.68,14.26 0 0 0 356.74,334.01" fill="none" stroke="#4340d5" stroke-width="0.90" stroke-opacity="0.65"/>
<path d="M453.26,334.01 A23.68,14.26 0 0 0 405.90,334.01" fill="none" stroke="#4340d5" stroke-width="0.90" stroke-opacity="0.65"/>
<path d="M502.43,334.01 A23.68,14.26 0 0 0 455.07,334.01" fill="none" stroke="#4340d5" stroke-width="0.90" stroke-opacity="0.65"/>
<path d="M551.60,334.01 A23.68,14.26 0 0 0 504.24,334.01" fill="none" stroke="#4340d5" stroke-width="0.90" stroke-opacity="0.65"/>
<path d="M600.76,334.01 A23.68,14.26 0 0 0 553.41,334.01" fill="none" stroke="#4340d5" stroke-width="0.90" stroke-opacity="0.65"/>
<path d="M649.93,334.01 A23.68,14.26 0 0 0 602.58,334.01" fill="none" stroke="#4340d5" stroke-width="0.90" stroke-opacity="0.65"/>
<path d="M699.10,334.01 A23.68,14.26 0 0 0 651.74,334.01" fill="none" stroke="#4340d5" stroke-width="0.90" stroke-opacity="0.65"/>
<path d="M748.27,334.01 A23.68,14.26 0 0 0 700.91,334.01" fill="none" stroke="#4340d5" stroke-width="0.90" stroke-opacity="0.65"/>
<path d="M797.44,334.01 A23.68,14.26 0 0 0 750.08,334.01" fill="none" stroke="#4340d5" stroke-width="0.90" stroke-opacity="0.65"/>
<path d="M404.51,335.99 A24.10,14.52 0 0 0 356.32,335.99" fill="none" stroke="#413ad0" stroke-width="0.90" stroke-opacity="0.65"/>
<path d="M453.68,335.99 A24.10,14.52 0 0 0 405.48,335.99" fill="none" stroke="#413ad0" stroke-width="0.90" stroke-opacity="0.65"/>
<path d="M502.85,335.99 A24.10,14.52 0 0 0 454.65,335.99" fill="none" stroke="#413ad0" stroke-width="0.90" stroke-opacity="0.65"/>
<path d="M552.02,335.99 A24.10,14.52 0 0 0 503.82,335.99" fill="none" stroke="#413ad0" stroke-width="0.90" stroke-opacity="0.65"/>
<path d="M601.18,335.99 A24.10,14.52 0 0 0 552.99,335.99" fill="none" stroke="#413ad0" stroke-width="0.90" stroke-opacity="0.65"/>
<path d="M650.35,335.99 A24.10,14.52 0 0 0 602.16,335.99" fill="none" stroke="#413ad0" stroke-width="0.90" stroke-opacity="0.65"/>
<path d="M699.52,335.99 A24.10,14.52 0 0 0 651.32,335.99" fill="none" stroke="#413ad0" stroke-width="0.90" stroke-opacity="0.65"/>
<path d="M748.69,335.99 A24.10,14.52 0 0 0 700.49,335.99" fill="none" stroke="#413ad0" stroke-width="0.90" stroke-opacity="0.65"/>
<path d="M797.86,335.99 A24.10,14.52 0 0 0 749.66,335.99" fill="none" stroke="#413ad0" stroke-width="0.90" stroke-opacity="0.65"/>
<path d="M404.93,337.97 A24.52,14.77 0 0 0 355.89,337.97" fill="none" stroke="#3f34cb" stroke-width="0.90" stroke-opacity="0.65"/>
<path d="M454.10,337.97 A24.52,14.77 0 0 0 405.06,337.97" fill="none" stroke="#3f34cb" stroke-width="0.90" stroke-opacity="0.65"/>
<path d="M503.27,337.97 A24.52,14.77 0 0 0 454.23,337.97" fill="none" stroke="#3f34cb" stroke-width="0.90" stroke-opacity="0.65"/>
<path d="M552.44,337.97 A24.52,14.77 0 0 0 503.40,337.97" fill="none" stroke="#3f34cb" stroke-width="0.90" stroke-opacity="0.65"/>
<path d="M601.61,337.97 A24.52,14.77 0 0 0 552.57,337.97" fill="none" stroke="#3f34cb" stroke-width="0.90" stroke-opacity="0.65"/>
<path d="M650.77,337.97 A24.52,14.77 0 0 0 601.73,337.97" fill="none" stroke="#3f34cb" stroke-width="0.90" stroke-opacity="0.65"/>
<path d="M699.94,337.97 A24.52,14.77 0 0 0 650.90,337.97" fill="none" stroke="#3f34cb" stroke-width="0.90" stroke-opacity="0.65"/>
<path d="M749.11,337.97 A24.52,14.77 0 0 0 700.07,337.97" fill="none" stroke="#3f34cb" stroke-width="0.90" stroke-opacity="0.65"/>
<path d="M798.28,337.97 A24.52,14.77 0 0 0 749.24,337.97" fill="none" stroke="#3f34cb" stroke-width="0.90" stroke-opacity="0.65"/>
<path d="M405.35,339.96 A24.94,15.02 0 0 0 355.47,339.96" fill="none" stroke="#3d2fc4" stroke-width="0.90" stroke-opacity="0.65"/>
<path d="M454.52,339.96 A24.94,15.02 0 0 0 404.64,339.96" fill="none" stroke="#3d2fc4" stroke-width="0.90" stroke-opacity="0.65"/>
<path d="M503.69,339.96 A24.94,15.02 0 0 0 453.81,339.96" fill="none" stroke="#3d2fc4" stroke-width="0.90" stroke-opacity="0.65"/>
<path d="M552.86,339.96 A24.94,15.02 0 0 0 502.98,339.96" fill="none" stroke="#3d2fc4" stroke-width="0.90" stroke-opacity="0.65"/>
<path d="M602.03,339.96 A24.94,15.02 0 0 0 552.15,339.96" fill="none" stroke="#3d2fc4" stroke-width="0.90" stroke-opacity="0.65"/>
<path d="M651.19,339.96 A24.94,15.02 0 0 0 601.31,339.96" fill="none" stroke="#3d2fc4" stroke-width="0.90" stroke-opacity="0.65"/>
<path d="M700.36,339.96 A24.94,15.02 0 0 0 650.48,339.96" fill="none" stroke="#3d2fc4" stroke-width="0.90" stroke-opacity="0.65"/>
<path d="M749.53,339.96 A24.94,15.02 0 0 0 699.65,339.96" fill="none" stroke="#3d2fc4" stroke-width="0.90" stroke-opacity="0.65"/>
<path d="M798.70,339.96 A24.94,15.02 0 0 0 748.82,339.96" fill="none" stroke="#3d2fc4" stroke-width="0.90" stroke-opacity="0.65"/>
<path d="M405.77,341.94 A25.36,15.28 0 0 0 355.05,341.94" fill="none" stroke="#382bb6" stroke-width="0.90" stroke-opacity="0.65"/>
<path d="M454.94,341.94 A25.36,15.28 0 0 0 404.22,341.94" fill="none" stroke="#382bb6" stroke-width="0.90" stroke-opacity="0.65"/>
<path d="M504.11,341.94 A25.36,15.28 0 0 0 453.39,341.94" fill="none" stroke="#382bb6" stroke-width="0.90" stroke-opacity="0.65"/>
<path d="M553.28,341.94 A25.36,15.28 0 0 0 502.56,341.94" fill="none" stroke="#382bb6" stroke-width="0.90" stroke-opacity="0.65"/>
<path d="M602.45,341.94 A25.36,15.28 0 0 0 551.73,341.94" fill="none" stroke="#382bb6" stroke-width="0.90" stroke-opacity="0.65"/>
<path d="M651.61,341.94 A25.36,15.28 0 0 0 600.89,341.94" fill="none" stroke="#382bb6" stroke-width="0.90" stroke-opacity="0.65"/>
<path d="M700.78,341.94 A25.36,15.28 0 0 0 650.06,341.94" fill="none" stroke="#382bb6" stroke-width="0.90" stroke-opacity="0.65"/>
<path d="M749.95,341.94 A25.36,15.28 0 0 0 699.23,341.94" fill="none" stroke="#382bb6" stroke-width="0.90" stroke-opacity="0.65"/>
<path d="M799.12,341.94 A25.36,15.28 0 0 0 748.40,341.94" fill="none" stroke="#382bb6" stroke-width="0.90" stroke-opacity="0.65"/>
<path d="M405.00,249.17 L419.93,277.24 L405.00,338.63 L390.06,277.24Z" fill="#fff" stroke="#6e6e6e" stroke-width="1.00"/>
<path d="M454.17,249.17 L469.10,277.24 L454.17,338.63 L439.23,277.24Z" fill="#fff" stroke="#6e6e6e" stroke-width="1.00"/>
<path d="M503.33,249.17 L518.27,277.24 L503.33,338.63 L488.40,277.24Z" fill="#fff" stroke="#6e6e6e" stroke-width="1.00"/>
<path d="M552.50,249.17 L567.44,277.24 L552.50,338.63 L537.57,277.24Z" fill="#fff" stroke="#6e6e6e" stroke-width="1.00"/>
<path d="M601.67,249.17 L616.60,277.24 L601.67,338.63 L586.74,277.24Z" fill="#fff" stroke="#6e6e6e" stroke-width="1.00"/>
<path d="M650.84,249.17 L665.77,277.24 L650.84,338.63 L635.90,277.24Z" fill="#fff" stroke="#6e6e6e" stroke-width="1.00"/>
<path d="M700.01,249.17 L714.94,277.24 L700.01,338.63 L685.07,277.24Z" fill="#fff" stroke="#6e6e6e" stroke-width="1.00"/>
<path d="M749.17,249.17 L764.11,277.24 L749.17,338.63 L734.24,277.24Z" fill="#fff" stroke="#6e6e6e" stroke-width="1.00"/>
<path d="M798.34,249.17 L813.28,277.24 L798.34,338.63 L783.41,277.24Z" fill="#fff" stroke="#6e6e6e" stroke-width="1.00"/>
</g>
<text class="L" transform="translate(9.79,15.65) scale(1.027,1)" style="font-size:15.00px">A</text>
<text class="ti" x="57.80" y="13.70">Contour: Pressure [Pa]</text>
<rect x="15.50" y="20.50" width="162.00" height="131.60" fill="none" stroke="#8c8c8c" stroke-width="1.00"/>
<text class="ax" x="12.60" y="29.00" text-anchor="end">1.2</text>
<text class="ax" x="12.60" y="52.95" text-anchor="end">1.1</text>
<text class="ax" x="12.60" y="76.90" text-anchor="end">1</text>
<text class="ax" x="12.60" y="100.85" text-anchor="end">0.9</text>
<text class="ax" x="12.60" y="124.80" text-anchor="end">0.8</text>
<text class="ax" x="12.60" y="148.75" text-anchor="end">0.7</text>
<text class="ax" x="38.75" y="159.60" text-anchor="middle">3.1</text>
<text class="ax" x="62.72" y="159.60" text-anchor="middle">3.2</text>
<text class="ax" x="86.69" y="159.60" text-anchor="middle">3.3</text>
<text class="ax" x="110.66" y="159.60" text-anchor="middle">3.4</text>
<text class="ax" x="134.63" y="159.60" text-anchor="middle">3.5</text>
<text class="ax" x="158.60" y="159.60" text-anchor="middle">3.6</text>
<line x1="183.40" y1="26.06" x2="190.60" y2="26.06" stroke="#8a3045" stroke-width="1.40" stroke-opacity="1.00"/>
<text class="t" x="191.60" y="28.62">5.715</text>
<line x1="183.40" y1="32.51" x2="190.60" y2="32.51" stroke="#b02535" stroke-width="1.40" stroke-opacity="1.00"/>
<text class="t" x="191.60" y="35.07">5.409</text>
<line x1="183.40" y1="38.96" x2="190.60" y2="38.96" stroke="#e03848" stroke-width="1.40" stroke-opacity="1.00"/>
<text class="t" x="191.60" y="41.52">5.103</text>
<line x1="183.40" y1="45.41" x2="190.60" y2="45.41" stroke="#c84048" stroke-width="1.40" stroke-opacity="1.00"/>
<text class="t" x="191.60" y="47.97">4.798</text>
<line x1="183.40" y1="51.86" x2="190.60" y2="51.86" stroke="#e09058" stroke-width="1.40" stroke-opacity="1.00"/>
<text class="t" x="191.60" y="54.42">4.492</text>
<line x1="183.40" y1="58.31" x2="190.60" y2="58.31" stroke="#e8b040" stroke-width="1.40" stroke-opacity="1.00"/>
<text class="t" x="191.60" y="60.87">4.186</text>
<line x1="183.40" y1="64.76" x2="190.60" y2="64.76" stroke="#e8e040" stroke-width="1.40" stroke-opacity="1.00"/>
<text class="t" x="191.60" y="67.32">3.88</text>
<line x1="183.40" y1="71.21" x2="190.60" y2="71.21" stroke="#d8f040" stroke-width="1.40" stroke-opacity="1.00"/>
<text class="t" x="191.60" y="73.77">3.574</text>
<line x1="183.40" y1="77.66" x2="190.60" y2="77.66" stroke="#a8f070" stroke-width="1.40" stroke-opacity="1.00"/>
<text class="t" x="191.60" y="80.22">3.269</text>
<line x1="183.40" y1="84.11" x2="190.60" y2="84.11" stroke="#80e080" stroke-width="1.40" stroke-opacity="1.00"/>
<text class="t" x="191.60" y="86.67">2.963</text>
<line x1="183.40" y1="90.56" x2="190.60" y2="90.56" stroke="#50e0a0" stroke-width="1.40" stroke-opacity="1.00"/>
<text class="t" x="191.60" y="93.12">2.657</text>
<line x1="183.40" y1="97.01" x2="190.60" y2="97.01" stroke="#40e0e0" stroke-width="1.40" stroke-opacity="1.00"/>
<text class="t" x="191.60" y="99.57">2.351</text>
<line x1="183.40" y1="103.46" x2="190.60" y2="103.46" stroke="#40c0d0" stroke-width="1.40" stroke-opacity="1.00"/>
<text class="t" x="191.60" y="106.02">2.046</text>
<line x1="183.40" y1="109.91" x2="190.60" y2="109.91" stroke="#50a8d0" stroke-width="1.40" stroke-opacity="1.00"/>
<text class="t" x="191.60" y="112.47">1.74</text>
<line x1="183.40" y1="116.36" x2="190.60" y2="116.36" stroke="#3060e0" stroke-width="1.40" stroke-opacity="1.00"/>
<text class="t" x="191.60" y="118.92">1.434</text>
<line x1="183.40" y1="122.81" x2="190.60" y2="122.81" stroke="#4878e0" stroke-width="1.40" stroke-opacity="1.00"/>
<text class="t" x="191.60" y="125.37">1.128</text>
<line x1="183.40" y1="129.26" x2="190.60" y2="129.26" stroke="#2030c0" stroke-width="1.40" stroke-opacity="1.00"/>
<text class="t" x="191.60" y="131.82">0.823</text>
<line x1="183.40" y1="135.71" x2="190.60" y2="135.71" stroke="#5050c0" stroke-width="1.40" stroke-opacity="1.00"/>
<text class="t" x="191.60" y="138.27">0.517</text>
<line x1="183.40" y1="142.16" x2="190.60" y2="142.16" stroke="#3030b0" stroke-width="1.40" stroke-opacity="1.00"/>
<text class="t" x="191.60" y="144.72">0.211</text>
<line x1="183.40" y1="148.61" x2="190.60" y2="148.61" stroke="#202070" stroke-width="1.40" stroke-opacity="1.00"/>
<text class="t" x="191.60" y="151.17">-0.095</text>
<rect x="183.40" y="21.40" width="7.20" height="128.10" fill="none" stroke="#9a9aa8" stroke-width="0.90"/>
<text class="t" x="183.70" y="17.60">Max: 5.919</text>
<text class="t" x="183.70" y="158.30">Min: -0.0948</text>
<text class="L" transform="translate(231.30,13.00) scale(0.894,1)" style="font-size:15.10px">B</text>
<text class="ti" x="282.30" y="14.80">Contour: Pressure [Pa]</text>
<rect x="241.50" y="20.60" width="162.00" height="130.90" fill="none" stroke="#8c8c8c" stroke-width="1.00"/>
<text class="ax" x="239.00" y="28.85" text-anchor="end">1.2</text>
<text class="ax" x="239.00" y="52.68" text-anchor="end">1.1</text>
<text class="ax" x="239.00" y="76.51" text-anchor="end">1</text>
<text class="ax" x="239.00" y="100.34" text-anchor="end">0.9</text>
<text class="ax" x="239.00" y="124.17" text-anchor="end">0.8</text>
<text class="ax" x="239.00" y="148.00" text-anchor="end">0.7</text>
<text class="ax" x="241.70" y="158.50" text-anchor="middle">3</text>
<text class="ax" x="265.30" y="158.50" text-anchor="middle">3.1</text>
<text class="ax" x="288.90" y="158.50" text-anchor="middle">3.2</text>
<text class="ax" x="312.50" y="158.50" text-anchor="middle">3.3</text>
<text class="ax" x="336.10" y="158.50" text-anchor="middle">3.4</text>
<text class="ax" x="359.70" y="158.50" text-anchor="middle">3.5</text>
<text class="ax" x="383.30" y="158.50" text-anchor="middle">3.6</text>
<line x1="409.75" y1="26.25" x2="416.60" y2="26.25" stroke="#8a3045" stroke-width="1.40" stroke-opacity="1.00"/>
<text class="t" x="418.30" y="28.81">1.455</text>
<line x1="409.75" y1="32.59" x2="416.60" y2="32.59" stroke="#b02535" stroke-width="1.40" stroke-opacity="1.00"/>
<text class="t" x="418.30" y="35.15">1.374</text>
<line x1="409.75" y1="38.94" x2="416.60" y2="38.94" stroke="#e03848" stroke-width="1.40" stroke-opacity="1.00"/>
<text class="t" x="418.30" y="41.50">1.292</text>
<line x1="409.75" y1="45.28" x2="416.60" y2="45.28" stroke="#c84048" stroke-width="1.40" stroke-opacity="1.00"/>
<text class="t" x="418.30" y="47.84">1.211</text>
<line x1="409.75" y1="51.63" x2="416.60" y2="51.63" stroke="#e09058" stroke-width="1.40" stroke-opacity="1.00"/>
<text class="t" x="418.30" y="54.19">1.129</text>
<line x1="409.75" y1="57.97" x2="416.60" y2="57.97" stroke="#e8b040" stroke-width="1.40" stroke-opacity="1.00"/>
<text class="t" x="418.30" y="60.53">1.047</text>
<line x1="409.75" y1="64.32" x2="416.60" y2="64.32" stroke="#e8e040" stroke-width="1.40" stroke-opacity="1.00"/>
<text class="t" x="418.30" y="66.88">0.966</text>
<line x1="409.75" y1="70.66" x2="416.60" y2="70.66" stroke="#d8f040" stroke-width="1.40" stroke-opacity="1.00"/>
<text class="t" x="418.30" y="73.22">0.884</text>
<line x1="409.75" y1="77.01" x2="416.60" y2="77.01" stroke="#a8f070" stroke-width="1.40" stroke-opacity="1.00"/>
<text class="t" x="418.30" y="79.57">0.803</text>
<line x1="409.75" y1="83.35" x2="416.60" y2="83.35" stroke="#80e080" stroke-width="1.40" stroke-opacity="1.00"/>
<text class="t" x="418.30" y="85.91">0.721</text>
<line x1="409.75" y1="89.70" x2="416.60" y2="89.70" stroke="#50e0a0" stroke-width="1.40" stroke-opacity="1.00"/>
<text class="t" x="418.30" y="92.26">0.639</text>
<line x1="409.75" y1="96.05" x2="416.60" y2="96.05" stroke="#40e0e0" stroke-width="1.40" stroke-opacity="1.00"/>
<text class="t" x="418.30" y="98.60">0.558</text>
<line x1="409.75" y1="102.39" x2="416.60" y2="102.39" stroke="#40c0d0" stroke-width="1.40" stroke-opacity="1.00"/>
<text class="t" x="418.30" y="104.95">0.476</text>
<line x1="409.75" y1="108.73" x2="416.60" y2="108.73" stroke="#50a8d0" stroke-width="1.40" stroke-opacity="1.00"/>
<text class="t" x="418.30" y="111.29">0.395</text>
<line x1="409.75" y1="115.08" x2="416.60" y2="115.08" stroke="#3060e0" stroke-width="1.40" stroke-opacity="1.00"/>
<text class="t" x="418.30" y="117.64">0.313</text>
<line x1="409.75" y1="121.42" x2="416.60" y2="121.42" stroke="#4878e0" stroke-width="1.40" stroke-opacity="1.00"/>
<text class="t" x="418.30" y="123.98">0.231</text>
<line x1="409.75" y1="127.77" x2="416.60" y2="127.77" stroke="#2030c0" stroke-width="1.40" stroke-opacity="1.00"/>
<text class="t" x="418.30" y="130.33">0.15</text>
<line x1="409.75" y1="134.12" x2="416.60" y2="134.12" stroke="#5050c0" stroke-width="1.40" stroke-opacity="1.00"/>
<text class="t" x="418.30" y="136.67">0.068</text>
<line x1="409.75" y1="140.46" x2="416.60" y2="140.46" stroke="#3030b0" stroke-width="1.40" stroke-opacity="1.00"/>
<text class="t" x="418.30" y="143.02">-0.013</text>
<line x1="409.75" y1="146.81" x2="416.60" y2="146.81" stroke="#202070" stroke-width="1.40" stroke-opacity="1.00"/>
<text class="t" x="418.30" y="149.36">-0.095</text>
<rect x="409.75" y="21.50" width="6.85" height="126.40" fill="none" stroke="#9a9aa8" stroke-width="0.90"/>
<text class="t" x="410.05" y="17.80">Max: 1.51</text>
<text class="t" x="410.05" y="156.90">Min: -0.0950</text>
<text class="L" transform="translate(461.93,12.35) scale(0.922,1)" style="font-size:15.35px">C</text>
<text class="ti" x="502.30" y="9.70">Contour: Pressure [Pa]</text>
<rect x="474.60" y="15.40" width="144.90" height="142.30" fill="none" stroke="#8c8c8c" stroke-width="1.00"/>
<text class="ax" x="471.50" y="30.35" text-anchor="end">1.2</text>
<text class="ax" x="471.50" y="53.91" text-anchor="end">1.1</text>
<text class="ax" x="471.50" y="77.47" text-anchor="end">1</text>
<text class="ax" x="471.50" y="101.03" text-anchor="end">0.9</text>
<text class="ax" x="471.50" y="124.59" text-anchor="end">0.8</text>
<text class="ax" x="471.50" y="148.15" text-anchor="end">0.7</text>
<text class="ax" x="490.20" y="165.30" text-anchor="middle">3.1</text>
<text class="ax" x="513.85" y="165.30" text-anchor="middle">3.2</text>
<text class="ax" x="537.50" y="165.30" text-anchor="middle">3.3</text>
<text class="ax" x="561.15" y="165.30" text-anchor="middle">3.4</text>
<text class="ax" x="584.80" y="165.30" text-anchor="middle">3.5</text>
<text class="ax" x="608.45" y="165.30" text-anchor="middle">3.6</text>
<line x1="626.30" y1="20.60" x2="633.60" y2="20.60" stroke="#8a3045" stroke-width="1.40" stroke-opacity="1.00"/>
<text class="t" x="635.20" y="23.37" style="font-size:6.70px">1.626</text>
<line x1="626.30" y1="27.62" x2="633.60" y2="27.62" stroke="#b02535" stroke-width="1.40" stroke-opacity="1.00"/>
<text class="t" x="635.20" y="30.39" style="font-size:6.70px">1.538</text>
<line x1="626.30" y1="34.64" x2="633.60" y2="34.64" stroke="#e03848" stroke-width="1.40" stroke-opacity="1.00"/>
<text class="t" x="635.20" y="37.41" style="font-size:6.70px">1.449</text>
<line x1="626.30" y1="41.66" x2="633.60" y2="41.66" stroke="#c84048" stroke-width="1.40" stroke-opacity="1.00"/>
<text class="t" x="635.20" y="44.43" style="font-size:6.70px">1.361</text>
<line x1="626.30" y1="48.68" x2="633.60" y2="48.68" stroke="#e09058" stroke-width="1.40" stroke-opacity="1.00"/>
<text class="t" x="635.20" y="51.45" style="font-size:6.70px">1.272</text>
<line x1="626.30" y1="55.70" x2="633.60" y2="55.70" stroke="#e8b040" stroke-width="1.40" stroke-opacity="1.00"/>
<text class="t" x="635.20" y="58.47" style="font-size:6.70px">1.184</text>
<line x1="626.30" y1="62.72" x2="633.60" y2="62.72" stroke="#e8e040" stroke-width="1.40" stroke-opacity="1.00"/>
<text class="t" x="635.20" y="65.49" style="font-size:6.70px">1.096</text>
<line x1="626.30" y1="69.74" x2="633.60" y2="69.74" stroke="#d8f040" stroke-width="1.40" stroke-opacity="1.00"/>
<text class="t" x="635.20" y="72.51" style="font-size:6.70px">1.007</text>
<line x1="626.30" y1="76.76" x2="633.60" y2="76.76" stroke="#a8f070" stroke-width="1.40" stroke-opacity="1.00"/>
<text class="t" x="635.20" y="79.53" style="font-size:6.70px">0.919</text>
<line x1="626.30" y1="83.78" x2="633.60" y2="83.78" stroke="#80e080" stroke-width="1.40" stroke-opacity="1.00"/>
<text class="t" x="635.20" y="86.55" style="font-size:6.70px">0.831</text>
<line x1="626.30" y1="90.80" x2="633.60" y2="90.80" stroke="#50e0a0" stroke-width="1.40" stroke-opacity="1.00"/>
<text class="t" x="635.20" y="93.57" style="font-size:6.70px">0.742</text>
<line x1="626.30" y1="97.82" x2="633.60" y2="97.82" stroke="#40e0e0" stroke-width="1.40" stroke-opacity="1.00"/>
<text class="t" x="635.20" y="100.59" style="font-size:6.70px">0.654</text>
<line x1="626.30" y1="104.84" x2="633.60" y2="104.84" stroke="#40c0d0" stroke-width="1.40" stroke-opacity="1.00"/>
<text class="t" x="635.20" y="107.61" style="font-size:6.70px">0.566</text>
<line x1="626.30" y1="111.86" x2="633.60" y2="111.86" stroke="#50a8d0" stroke-width="1.40" stroke-opacity="1.00"/>
<text class="t" x="635.20" y="114.63" style="font-size:6.70px">0.477</text>
<line x1="626.30" y1="118.88" x2="633.60" y2="118.88" stroke="#3060e0" stroke-width="1.40" stroke-opacity="1.00"/>
<text class="t" x="635.20" y="121.65" style="font-size:6.70px">0.389</text>
<line x1="626.30" y1="125.90" x2="633.60" y2="125.90" stroke="#4878e0" stroke-width="1.40" stroke-opacity="1.00"/>
<text class="t" x="635.20" y="128.67" style="font-size:6.70px">0.301</text>
<line x1="626.30" y1="132.92" x2="633.60" y2="132.92" stroke="#2030c0" stroke-width="1.40" stroke-opacity="1.00"/>
<text class="t" x="635.20" y="135.69" style="font-size:6.70px">0.212</text>
<line x1="626.30" y1="139.94" x2="633.60" y2="139.94" stroke="#5050c0" stroke-width="1.40" stroke-opacity="1.00"/>
<text class="t" x="635.20" y="142.71" style="font-size:6.70px">0.124</text>
<line x1="626.30" y1="146.96" x2="633.60" y2="146.96" stroke="#3030b0" stroke-width="1.40" stroke-opacity="1.00"/>
<text class="t" x="635.20" y="149.73" style="font-size:6.70px">0.036</text>
<line x1="626.30" y1="153.98" x2="633.60" y2="153.98" stroke="#202070" stroke-width="1.40" stroke-opacity="1.00"/>
<text class="t" x="635.20" y="156.75" style="font-size:6.70px">-0.053</text>
<rect x="626.30" y="15.70" width="7.30" height="139.30" fill="none" stroke="#9a9aa8" stroke-width="0.90"/>
<text class="t" x="626.60" y="11.70" style="font-size:6.70px">Max: 1.685</text>
<text class="t" x="626.60" y="164.00" style="font-size:6.70px">Min: -0.0528</text>
<text class="L" transform="translate(9.25,181.10) scale(0.914,1)" style="font-size:15.65px">D</text>
<text class="ti" x="56.90" y="181.20">Contour: Pressure [Pa]</text>
<rect x="15.60" y="187.40" width="161.90" height="132.10" fill="none" stroke="#8c8c8c" stroke-width="1.00"/>
<text class="ax" x="12.70" y="200.20" text-anchor="end">1.1</text>
<text class="ax" x="12.70" y="212.62" text-anchor="end">1.08</text>
<text class="ax" x="12.70" y="225.04" text-anchor="end">1.06</text>
<text class="ax" x="12.70" y="237.46" text-anchor="end">1.04</text>
<text class="ax" x="12.70" y="249.88" text-anchor="end">1.02</text>
<text class="ax" x="12.70" y="262.30" text-anchor="end">1</text>
<text class="ax" x="12.70" y="274.72" text-anchor="end">0.98</text>
<text class="ax" x="12.70" y="287.14" text-anchor="end">0.96</text>
<text class="ax" x="12.70" y="299.56" text-anchor="end">0.94</text>
<text class="ax" x="12.70" y="311.98" text-anchor="end">0.92</text>
<text class="ax" x="23.45" y="326.50" text-anchor="middle">3.1</text>
<text class="ax" x="48.09" y="326.50" text-anchor="middle">3.14</text>
<text class="ax" x="72.73" y="326.50" text-anchor="middle">3.18</text>
<text class="ax" x="97.37" y="326.50" text-anchor="middle">3.22</text>
<text class="ax" x="122.01" y="326.50" text-anchor="middle">3.26</text>
<text class="ax" x="146.65" y="326.50" text-anchor="middle">3.3</text>
<text class="ax" x="171.29" y="326.50" text-anchor="middle">3.34</text>
<line x1="183.50" y1="193.10" x2="191.00" y2="193.10" stroke="#8a3045" stroke-width="1.40" stroke-opacity="1.00"/>
<text class="t" x="191.60" y="195.66">5.715</text>
<line x1="183.50" y1="199.57" x2="191.00" y2="199.57" stroke="#b02535" stroke-width="1.40" stroke-opacity="1.00"/>
<text class="t" x="191.60" y="202.13">5.409</text>
<line x1="183.50" y1="206.04" x2="191.00" y2="206.04" stroke="#e03848" stroke-width="1.40" stroke-opacity="1.00"/>
<text class="t" x="191.60" y="208.60">5.103</text>
<line x1="183.50" y1="212.51" x2="191.00" y2="212.51" stroke="#c84048" stroke-width="1.40" stroke-opacity="1.00"/>
<text class="t" x="191.60" y="215.07">4.798</text>
<line x1="183.50" y1="218.98" x2="191.00" y2="218.98" stroke="#e09058" stroke-width="1.40" stroke-opacity="1.00"/>
<text class="t" x="191.60" y="221.54">4.492</text>
<line x1="183.50" y1="225.45" x2="191.00" y2="225.45" stroke="#e8b040" stroke-width="1.40" stroke-opacity="1.00"/>
<text class="t" x="191.60" y="228.01">4.186</text>
<line x1="183.50" y1="231.92" x2="191.00" y2="231.92" stroke="#e8e040" stroke-width="1.40" stroke-opacity="1.00"/>
<text class="t" x="191.60" y="234.48">3.88</text>
<line x1="183.50" y1="238.39" x2="191.00" y2="238.39" stroke="#d8f040" stroke-width="1.40" stroke-opacity="1.00"/>
<text class="t" x="191.60" y="240.95">3.574</text>
<line x1="183.50" y1="244.86" x2="191.00" y2="244.86" stroke="#a8f070" stroke-width="1.40" stroke-opacity="1.00"/>
<text class="t" x="191.60" y="247.42">3.269</text>
<line x1="183.50" y1="251.33" x2="191.00" y2="251.33" stroke="#80e080" stroke-width="1.40" stroke-opacity="1.00"/>
<text class="t" x="191.60" y="253.89">2.963</text>
<line x1="183.50" y1="257.80" x2="191.00" y2="257.80" stroke="#50e0a0" stroke-width="1.40" stroke-opacity="1.00"/>
<text class="t" x="191.60" y="260.36">2.657</text>
<line x1="183.50" y1="264.27" x2="191.00" y2="264.27" stroke="#40e0e0" stroke-width="1.40" stroke-opacity="1.00"/>
<text class="t" x="191.60" y="266.83">2.351</text>
<line x1="183.50" y1="270.74" x2="191.00" y2="270.74" stroke="#40c0d0" stroke-width="1.40" stroke-opacity="1.00"/>
<text class="t" x="191.60" y="273.30">2.046</text>
<line x1="183.50" y1="277.21" x2="191.00" y2="277.21" stroke="#50a8d0" stroke-width="1.40" stroke-opacity="1.00"/>
<text class="t" x="191.60" y="279.77">1.74</text>
<line x1="183.50" y1="283.68" x2="191.00" y2="283.68" stroke="#3060e0" stroke-width="1.40" stroke-opacity="1.00"/>
<text class="t" x="191.60" y="286.24">1.434</text>
<line x1="183.50" y1="290.15" x2="191.00" y2="290.15" stroke="#4878e0" stroke-width="1.40" stroke-opacity="1.00"/>
<text class="t" x="191.60" y="292.71">1.128</text>
<line x1="183.50" y1="296.62" x2="191.00" y2="296.62" stroke="#2030c0" stroke-width="1.40" stroke-opacity="1.00"/>
<text class="t" x="191.60" y="299.18">0.823</text>
<line x1="183.50" y1="303.09" x2="191.00" y2="303.09" stroke="#5050c0" stroke-width="1.40" stroke-opacity="1.00"/>
<text class="t" x="191.60" y="305.65">0.517</text>
<line x1="183.50" y1="309.56" x2="191.00" y2="309.56" stroke="#3030b0" stroke-width="1.40" stroke-opacity="1.00"/>
<text class="t" x="191.60" y="312.12">0.211</text>
<line x1="183.50" y1="316.03" x2="191.00" y2="316.03" stroke="#202070" stroke-width="1.40" stroke-opacity="1.00"/>
<text class="t" x="191.60" y="318.59">-0.095</text>
<rect x="183.50" y="188.40" width="7.50" height="128.35" fill="none" stroke="#9a9aa8" stroke-width="0.90"/>
<text class="t" x="183.80" y="184.80">Max: 5.919</text>
<text class="t" x="183.80" y="325.90">Min: -0.0948</text>
<text class="L" transform="translate(235.56,184.20) scale(0.918,1)" style="font-size:14.60px">E</text>
<text class="ti" x="282.30" y="181.20">Contour: Pressure [Pa]</text>
<rect x="248.75" y="188.40" width="162.25" height="130.70" fill="none" stroke="#8c8c8c" stroke-width="1.00"/>
<text class="ax" x="246.50" y="192.80" text-anchor="end">1.06</text>
<text class="ax" x="246.50" y="208.10" text-anchor="end">1.04</text>
<text class="ax" x="246.50" y="223.40" text-anchor="end">1.02</text>
<text class="ax" x="246.50" y="238.70" text-anchor="end">1</text>
<text class="ax" x="246.50" y="254.00" text-anchor="end">0.98</text>
<text class="ax" x="246.50" y="269.30" text-anchor="end">0.96</text>
<text class="ax" x="246.50" y="284.60" text-anchor="end">0.94</text>
<text class="ax" x="246.50" y="299.90" text-anchor="end">0.92</text>
<text class="ax" x="246.50" y="315.20" text-anchor="end">0.9</text>
<text class="ax" x="253.40" y="325.80" text-anchor="middle">3.12</text>
<text class="ax" x="268.66" y="325.80" text-anchor="middle">3.14</text>
<text class="ax" x="283.92" y="325.80" text-anchor="middle">3.16</text>
<text class="ax" x="299.18" y="325.80" text-anchor="middle">3.18</text>
<text class="ax" x="314.44" y="325.80" text-anchor="middle">3.2</text>
<text class="ax" x="329.70" y="325.80" text-anchor="middle">3.22</text>
<text class="ax" x="344.96" y="325.80" text-anchor="middle">3.24</text>
<text class="ax" x="360.22" y="325.80" text-anchor="middle">3.26</text>
<text class="ax" x="375.48" y="325.80" text-anchor="middle">3.28</text>
<text class="ax" x="390.74" y="325.80" text-anchor="middle">3.3</text>
<text class="ax" x="406.00" y="325.80" text-anchor="middle">3.32</text>
<line x1="417.25" y1="193.60" x2="424.50" y2="193.60" stroke="#8a3045" stroke-width="1.40" stroke-opacity="1.00"/>
<text class="t" x="425.60" y="196.16">1.455</text>
<line x1="417.25" y1="200.02" x2="424.50" y2="200.02" stroke="#b02535" stroke-width="1.40" stroke-opacity="1.00"/>
<text class="t" x="425.60" y="202.57">1.374</text>
<line x1="417.25" y1="206.43" x2="424.50" y2="206.43" stroke="#e03848" stroke-width="1.40" stroke-opacity="1.00"/>
<text class="t" x="425.60" y="208.99">1.292</text>
<line x1="417.25" y1="212.85" x2="424.50" y2="212.85" stroke="#c84048" stroke-width="1.40" stroke-opacity="1.00"/>
<text class="t" x="425.60" y="215.41">1.211</text>
<line x1="417.25" y1="219.26" x2="424.50" y2="219.26" stroke="#e09058" stroke-width="1.40" stroke-opacity="1.00"/>
<text class="t" x="425.60" y="221.82">1.129</text>
<line x1="417.25" y1="225.68" x2="424.50" y2="225.68" stroke="#e8b040" stroke-width="1.40" stroke-opacity="1.00"/>
<text class="t" x="425.60" y="228.24">1.047</text>
<line x1="417.25" y1="232.10" x2="424.50" y2="232.10" stroke="#e8e040" stroke-width="1.40" stroke-opacity="1.00"/>
<text class="t" x="425.60" y="234.65">0.966</text>
<line x1="417.25" y1="238.51" x2="424.50" y2="238.51" stroke="#d8f040" stroke-width="1.40" stroke-opacity="1.00"/>
<text class="t" x="425.60" y="241.07">0.884</text>
<line x1="417.25" y1="244.93" x2="424.50" y2="244.93" stroke="#a8f070" stroke-width="1.40" stroke-opacity="1.00"/>
<text class="t" x="425.60" y="247.49">0.803</text>
<line x1="417.25" y1="251.34" x2="424.50" y2="251.34" stroke="#80e080" stroke-width="1.40" stroke-opacity="1.00"/>
<text class="t" x="425.60" y="253.90">0.721</text>
<line x1="417.25" y1="257.76" x2="424.50" y2="257.76" stroke="#50e0a0" stroke-width="1.40" stroke-opacity="1.00"/>
<text class="t" x="425.60" y="260.32">0.639</text>
<line x1="417.25" y1="264.18" x2="424.50" y2="264.18" stroke="#40e0e0" stroke-width="1.40" stroke-opacity="1.00"/>
<text class="t" x="425.60" y="266.73">0.558</text>
<line x1="417.25" y1="270.59" x2="424.50" y2="270.59" stroke="#40c0d0" stroke-width="1.40" stroke-opacity="1.00"/>
<text class="t" x="425.60" y="273.15">0.476</text>
<line x1="417.25" y1="277.01" x2="424.50" y2="277.01" stroke="#50a8d0" stroke-width="1.40" stroke-opacity="1.00"/>
<text class="t" x="425.60" y="279.57">0.395</text>
<line x1="417.25" y1="283.42" x2="424.50" y2="283.42" stroke="#3060e0" stroke-width="1.40" stroke-opacity="1.00"/>
<text class="t" x="425.60" y="285.98">0.313</text>
<line x1="417.25" y1="289.84" x2="424.50" y2="289.84" stroke="#4878e0" stroke-width="1.40" stroke-opacity="1.00"/>
<text class="t" x="425.60" y="292.40">0.231</text>
<line x1="417.25" y1="296.26" x2="424.50" y2="296.26" stroke="#2030c0" stroke-width="1.40" stroke-opacity="1.00"/>
<text class="t" x="425.60" y="298.81">0.15</text>
<line x1="417.25" y1="302.67" x2="424.50" y2="302.67" stroke="#5050c0" stroke-width="1.40" stroke-opacity="1.00"/>
<text class="t" x="425.60" y="305.23">0.068</text>
<line x1="417.25" y1="309.09" x2="424.50" y2="309.09" stroke="#3030b0" stroke-width="1.40" stroke-opacity="1.00"/>
<text class="t" x="425.60" y="311.65">-0.013</text>
<line x1="417.25" y1="315.50" x2="424.50" y2="315.50" stroke="#202070" stroke-width="1.40" stroke-opacity="1.00"/>
<text class="t" x="425.60" y="318.06">-0.095</text>
<rect x="417.25" y="188.75" width="7.25" height="128.00" fill="none" stroke="#9a9aa8" stroke-width="0.90"/>
<text class="t" x="417.55" y="185.00">Max: 1.51</text>
<text class="t" x="417.55" y="325.90">Min: -0.0950</text>
<text class="L" transform="translate(467.75,183.25) scale(0.944,1)" style="font-size:14.40px">F</text>
<text class="ti" x="504.40" y="187.70">Contour: Pressure [Pa]</text>
<rect x="469.40" y="194.00" width="166.00" height="123.00" fill="none" stroke="#8c8c8c" stroke-width="1.00"/>
<text class="ax" x="466.50" y="197.32" text-anchor="end">1.14</text>
<text class="ax" x="466.50" y="209.66" text-anchor="end">1.12</text>
<text class="ax" x="466.50" y="222.00" text-anchor="end">1.1</text>
<text class="ax" x="466.50" y="234.34" text-anchor="end">1.08</text>
<text class="ax" x="466.50" y="246.68" text-anchor="end">1.06</text>
<text class="ax" x="466.50" y="259.02" text-anchor="end">1.04</text>
<text class="ax" x="466.50" y="271.36" text-anchor="end">1.02</text>
<text class="ax" x="466.50" y="283.70" text-anchor="end">1</text>
<text class="ax" x="466.50" y="296.04" text-anchor="end">0.98</text>
<text class="ax" x="466.50" y="308.38" text-anchor="end">0.96</text>
<text class="ax" x="478.75" y="324.60" text-anchor="middle">3.18</text>
<text class="ax" x="503.33" y="324.60" text-anchor="middle">3.22</text>
<text class="ax" x="527.92" y="324.60" text-anchor="middle">3.26</text>
<text class="ax" x="552.50" y="324.60" text-anchor="middle">3.3</text>
<text class="ax" x="577.09" y="324.60" text-anchor="middle">3.34</text>
<text class="ax" x="601.67" y="324.60" text-anchor="middle">3.38</text>
<text class="ax" x="626.25" y="324.60" text-anchor="middle">3.42</text>
<line x1="641.40" y1="199.60" x2="647.90" y2="199.60" stroke="#8a3045" stroke-width="1.40" stroke-opacity="1.00"/>
<text class="t" x="649.00" y="201.99" style="font-size:5.80px">1.626</text>
<line x1="641.40" y1="205.62" x2="647.90" y2="205.62" stroke="#b02535" stroke-width="1.40" stroke-opacity="1.00"/>
<text class="t" x="649.00" y="208.01" style="font-size:5.80px">1.538</text>
<line x1="641.40" y1="211.63" x2="647.90" y2="211.63" stroke="#e03848" stroke-width="1.40" stroke-opacity="1.00"/>
<text class="t" x="649.00" y="214.03" style="font-size:5.80px">1.449</text>
<line x1="641.40" y1="217.65" x2="647.90" y2="217.65" stroke="#c84048" stroke-width="1.40" stroke-opacity="1.00"/>
<text class="t" x="649.00" y="220.04" style="font-size:5.80px">1.361</text>
<line x1="641.40" y1="223.66" x2="647.90" y2="223.66" stroke="#e09058" stroke-width="1.40" stroke-opacity="1.00"/>
<text class="t" x="649.00" y="226.06" style="font-size:5.80px">1.272</text>
<line x1="641.40" y1="229.68" x2="647.90" y2="229.68" stroke="#e8b040" stroke-width="1.40" stroke-opacity="1.00"/>
<text class="t" x="649.00" y="232.07" style="font-size:5.80px">1.184</text>
<line x1="641.40" y1="235.70" x2="647.90" y2="235.70" stroke="#e8e040" stroke-width="1.40" stroke-opacity="1.00"/>
<text class="t" x="649.00" y="238.09" style="font-size:5.80px">1.096</text>
<line x1="641.40" y1="241.71" x2="647.90" y2="241.71" stroke="#d8f040" stroke-width="1.40" stroke-opacity="1.00"/>
<text class="t" x="649.00" y="244.11" style="font-size:5.80px">1.007</text>
<line x1="641.40" y1="247.73" x2="647.90" y2="247.73" stroke="#a8f070" stroke-width="1.40" stroke-opacity="1.00"/>
<text class="t" x="649.00" y="250.12" style="font-size:5.80px">0.919</text>
<line x1="641.40" y1="253.74" x2="647.90" y2="253.74" stroke="#80e080" stroke-width="1.40" stroke-opacity="1.00"/>
<text class="t" x="649.00" y="256.14" style="font-size:5.80px">0.831</text>
<line x1="641.40" y1="259.76" x2="647.90" y2="259.76" stroke="#50e0a0" stroke-width="1.40" stroke-opacity="1.00"/>
<text class="t" x="649.00" y="262.15" style="font-size:5.80px">0.742</text>
<line x1="641.40" y1="265.78" x2="647.90" y2="265.78" stroke="#40e0e0" stroke-width="1.40" stroke-opacity="1.00"/>
<text class="t" x="649.00" y="268.17" style="font-size:5.80px">0.654</text>
<line x1="641.40" y1="271.79" x2="647.90" y2="271.79" stroke="#40c0d0" stroke-width="1.40" stroke-opacity="1.00"/>
<text class="t" x="649.00" y="274.19" style="font-size:5.80px">0.566</text>
<line x1="641.40" y1="277.81" x2="647.90" y2="277.81" stroke="#50a8d0" stroke-width="1.40" stroke-opacity="1.00"/>
<text class="t" x="649.00" y="280.20" style="font-size:5.80px">0.477</text>
<line x1="641.40" y1="283.82" x2="647.90" y2="283.82" stroke="#3060e0" stroke-width="1.40" stroke-opacity="1.00"/>
<text class="t" x="649.00" y="286.22" style="font-size:5.80px">0.389</text>
<line x1="641.40" y1="289.84" x2="647.90" y2="289.84" stroke="#4878e0" stroke-width="1.40" stroke-opacity="1.00"/>
<text class="t" x="649.00" y="292.23" style="font-size:5.80px">0.301</text>
<line x1="641.40" y1="295.86" x2="647.90" y2="295.86" stroke="#2030c0" stroke-width="1.40" stroke-opacity="1.00"/>
<text class="t" x="649.00" y="298.25" style="font-size:5.80px">0.212</text>
<line x1="641.40" y1="301.87" x2="647.90" y2="301.87" stroke="#5050c0" stroke-width="1.40" stroke-opacity="1.00"/>
<text class="t" x="649.00" y="304.27" style="font-size:5.80px">0.124</text>
<line x1="641.40" y1="307.89" x2="647.90" y2="307.89" stroke="#3030b0" stroke-width="1.40" stroke-opacity="1.00"/>
<text class="t" x="649.00" y="310.28" style="font-size:5.80px">0.036</text>
<line x1="641.40" y1="313.90" x2="647.90" y2="313.90" stroke="#202070" stroke-width="1.40" stroke-opacity="1.00"/>
<text class="t" x="649.00" y="316.30" style="font-size:5.80px">-0.053</text>
<rect x="641.40" y="194.90" width="6.50" height="119.60" fill="none" stroke="#9a9aa8" stroke-width="0.90"/>
<text class="t" x="641.70" y="191.80" style="font-size:5.80px">Max: 1.685</text>
<text class="t" x="641.70" y="322.90" style="font-size:5.80px">Min: -0.0528</text>
</svg></div></body></html>
